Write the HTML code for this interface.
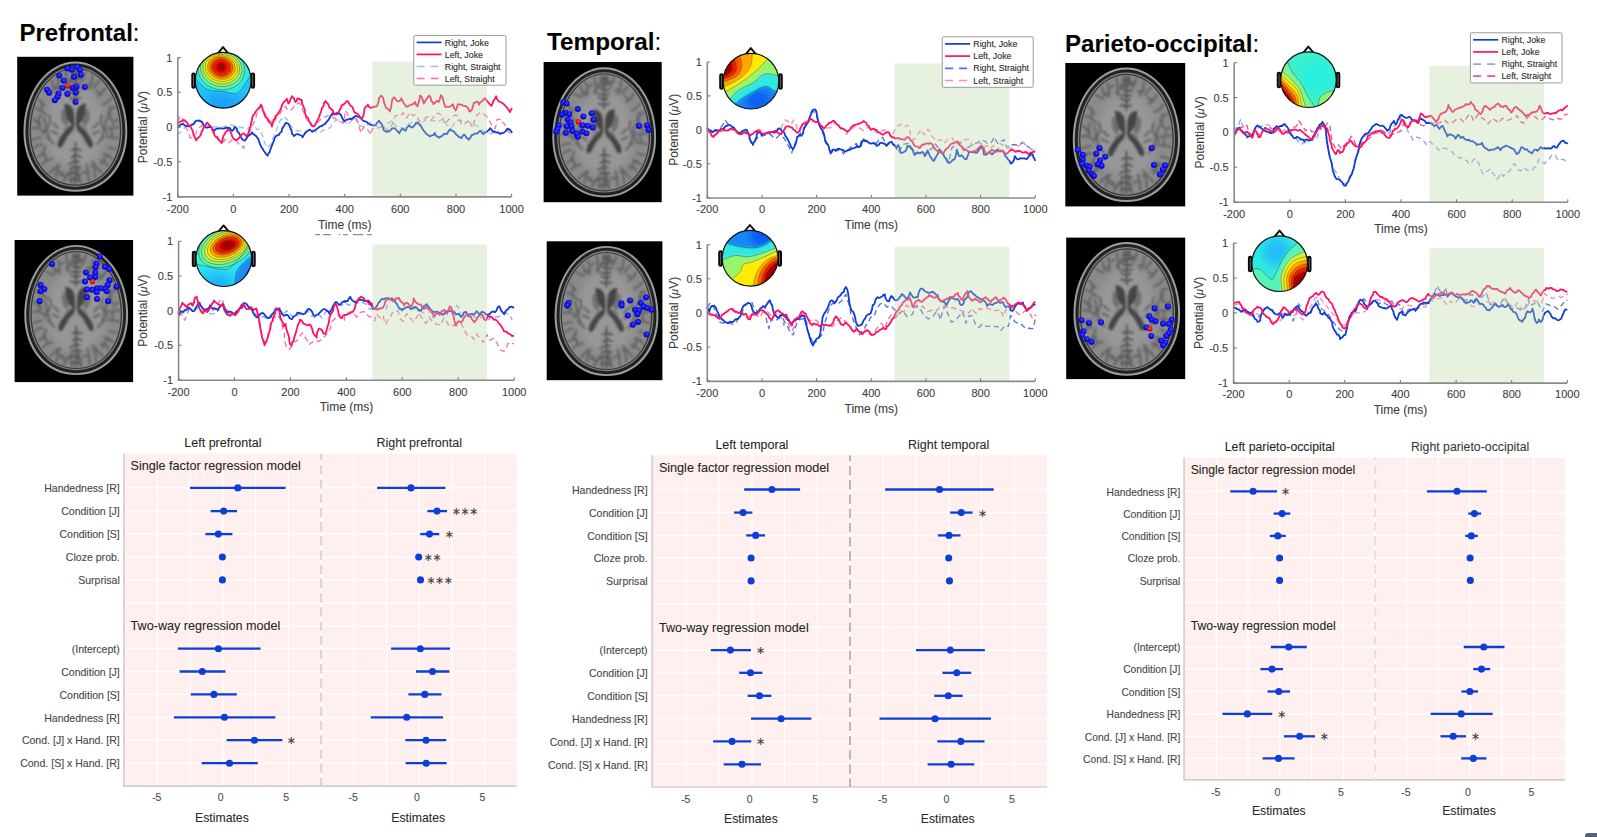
<!DOCTYPE html>
<html lang="en"><head><meta charset="utf-8"><title>ERP figure</title>
<style>html,body{margin:0;padding:0;background:#fff;}body{width:1597px;height:837px;overflow:hidden;}svg{display:block;font-family:"Liberation Sans", sans-serif;}svg text{stroke:#444;stroke-width:0.2px;stroke-opacity:0.5;}</style></head><body>
<svg width="1597" height="837" viewBox="0 0 1597 837">
<rect width="1597" height="837" fill="#fff"/>
<defs>
<filter id="bl" x="-5%" y="-5%" width="110%" height="110%"><feGaussianBlur stdDeviation="1.0"/></filter>
<filter id="bl3" x="-5%" y="-5%" width="110%" height="110%"><feGaussianBlur stdDeviation="1.25"/></filter>
<filter id="bl0" x="-5%" y="-5%" width="110%" height="110%"><feGaussianBlur stdDeviation="0.6"/></filter>
<filter id="tbl" x="-10%" y="-10%" width="120%" height="120%"><feGaussianBlur stdDeviation="1.1"/></filter>
<filter id="bl1" x="-5%" y="-5%" width="110%" height="110%"><feGaussianBlur stdDeviation="0.45"/></filter>
<filter id="bl2" x="-10%" y="-10%" width="120%" height="120%"><feGaussianBlur stdDeviation="4"/></filter>
<radialGradient id="bdot" cx="0.55" cy="0.4" r="0.6"><stop offset="0" stop-color="#4a4aff"/><stop offset="0.5" stop-color="#1212ee"/><stop offset="1" stop-color="#0808a8"/></radialGradient>
<radialGradient id="rdot" cx="0.5" cy="0.4" r="0.6"><stop offset="0" stop-color="#ff5a4a"/><stop offset="0.55" stop-color="#ee1010"/><stop offset="1" stop-color="#980808"/></radialGradient>
<g id="brain">
<g filter="url(#bl0)">
<path d="M0,-1 C0.52,-1 1,-0.56 1,0.08 C1,0.62 0.57,1 0,1 C-0.57,1 -1,0.62 -1,0.08 C-1,-0.56 -0.52,-1 0,-1 Z" transform="translate(58.3,69.6) scale(52.7,66.1)" fill="#9e9e9e"/>
<path d="M0,-1 C0.52,-1 1,-0.56 1,0.08 C1,0.62 0.57,1 0,1 C-0.57,1 -1,0.62 -1,0.08 C-1,-0.56 -0.52,-1 0,-1 Z" transform="translate(58.3,69.6) scale(50.7,64.1)" fill="#222222"/>
<path d="M0,-1 C0.52,-1 1,-0.56 1,0.08 C1,0.62 0.57,1 0,1 C-0.57,1 -1,0.62 -1,0.08 C-1,-0.56 -0.52,-1 0,-1 Z" transform="translate(58.3,69.6) scale(47.7,61.1)" fill="#848484"/>
<path d="M0,-1 C0.52,-1 1,-0.56 1,0.08 C1,0.62 0.57,1 0,1 C-0.57,1 -1,0.62 -1,0.08 C-1,-0.56 -0.52,-1 0,-1 Z" transform="translate(58.3,69.6) scale(46.5,59.9)" fill="#343434"/>
<path d="M0,-1 C0.52,-1 1,-0.56 1,0.08 C1,0.62 0.57,1 0,1 C-0.57,1 -1,0.62 -1,0.08 C-1,-0.56 -0.52,-1 0,-1 Z" transform="translate(58.3,69.6) scale(45.2,58.8)" fill="#8a8a8a"/>
</g>
<g filter="url(#bl2)"><path d="M0,-1 C0.52,-1 1,-0.56 1,0.08 C1,0.62 0.57,1 0,1 C-0.57,1 -1,0.62 -1,0.08 C-1,-0.56 -0.52,-1 0,-1 Z" transform="translate(58.3,69.6) scale(30,42)" fill="#979797"/></g>
<g filter="url(#bl3)">
<path d="M61.4 12.0 Q61.9 17.9 57.5 22.4 M61.9 17.9 L65.2 22.0 M68.4 13.7 Q67.0 18.9 64.6 22.8 M67.0 18.9 L62.2 17.6 M75.6 17.5 Q75.2 26.2 71.8 31.0 M75.2 26.2 L69.4 27.0 M82.5 23.3 Q78.4 26.4 76.8 30.5 M88.5 30.3 Q84.9 36.4 80.4 39.0 M84.9 36.4 L79.6 33.4 M94.6 40.3 Q90.7 46.0 85.8 47.1 M98.5 49.6 Q93.4 49.7 91.6 56.9 M93.4 49.7 L93.5 59.0 M101.7 62.0 Q97.4 66.6 92.1 59.6 M97.4 66.6 L96.2 68.1 M102.6 69.7 Q96.4 71.9 91.3 71.1 M102.0 81.3 Q95.7 80.5 90.5 79.5 M95.7 80.5 L94.7 72.6 M99.4 92.7 Q95.2 91.9 91.9 90.5 M95.4 102.3 Q91.6 98.2 87.1 97.4 M91.6 98.2 L87.4 101.7 M91.1 109.3 Q88.4 104.1 83.4 103.6 M88.4 104.1 L84.5 107.1 M84.9 116.3 Q79.3 110.3 75.0 105.0 M79.3 110.3 L74.4 109.7 M78.4 121.4 Q78.3 114.5 77.1 109.5 M72.1 124.7 Q71.6 115.5 69.8 108.6 M71.6 115.5 L65.1 116.5 M63.7 127.0 Q60.5 118.3 61.0 110.9 M54.4 127.2 Q52.6 117.8 54.1 110.6 M52.6 117.8 L50.8 117.6 M45.7 125.1 Q49.2 120.7 50.3 116.5 M49.2 120.7 L42.0 117.8 M38.3 121.5 Q38.8 113.3 42.2 108.7 M38.8 113.3 L45.5 117.0 M32.3 116.9 Q35.9 112.0 40.4 109.1 M24.4 107.7 Q28.7 103.1 34.4 102.3 M28.7 103.1 L26.6 96.6 M20.2 100.4 Q26.0 98.3 27.5 89.4 M26.0 98.3 L28.8 101.5 M16.8 91.4 Q20.1 87.2 24.0 87.7 M14.8 82.8 Q19.4 81.3 23.2 80.6 M14.0 71.4 Q20.7 69.6 26.1 74.5 M20.7 69.6 L21.7 64.4 M15.1 60.8 Q19.6 65.5 23.5 68.4 M19.6 65.5 L22.9 57.7 M17.6 50.9 Q24.3 52.5 28.4 58.0 M21.2 42.0 Q24.7 45.0 26.9 48.8 M24.7 45.0 L23.8 51.4 M28.1 30.4 Q31.6 33.3 36.0 33.9 M34.2 23.2 Q35.8 30.6 41.6 32.1 M35.8 30.6 L42.1 28.7 M39.0 19.0 Q43.3 22.5 39.1 31.3 M43.3 22.5 L45.9 21.0 M48.3 13.7 Q50.7 22.7 50.3 30.9 M50.7 22.7 L48.4 28.5 M55.3 11.9 Q56.9 17.4 53.0 22.6" stroke="#646464" stroke-width="2.1" fill="none" stroke-linecap="round"/>
<path d="M58.3 12 L58.3 45 M58.3 86 L58.3 127 M58.3 17 l-3.6 -1.3 M58.3 17 l3.1 -3.0 M58.3 22 l-4.5 -1.6 M58.3 22 l4.0 -2.1 M58.3 27 l-5.5 -3.3 M58.3 27 l5.2 -1.3 M58.3 32 l-5.0 -1.5 M58.3 32 l4.6 -1.4 M58.3 37 l-5.6 -3.2 M58.3 37 l3.5 -2.2 M58.3 42 l-5.6 -1.6 M58.3 42 l4.8 -1.6 M58.3 92 l-4.0 1.4 M58.3 92 l5.7 1.4 M58.3 98 l-3.7 3.0 M58.3 98 l5.4 2.4 M58.3 104 l-6.2 3.6 M58.3 104 l3.7 1.6 M58.3 110 l-3.6 1.3 M58.3 110 l5.1 1.1 M58.3 116 l-6.6 1.2 M58.3 116 l4.6 3.9 M58.3 122 l-5.6 1.6 M58.3 122 l4.5 2.5" stroke="#565656" stroke-width="2" fill="none" stroke-linecap="round"/>
<path d="M31.3 58 q3 6 -1 12 q-2 5 2 11 M26.3 61 q4 7 0 16 M35.3 66 l5 5 M34.3 74 l6 3 M29.3 80 l7 7 M85.3 58 q-3 6 1 12 q2 5 -2 11 M90.3 61 q-4 7 0 16 M81.3 66 l-5 5 M82.3 74 l-6 3 M87.3 80 l-7 7" stroke="#666" stroke-width="2.2" fill="none" stroke-linecap="round"/>
<g fill="#707070"><ellipse cx="47.6" cy="60" rx="3.6" ry="8.5" transform="rotate(-8 47.6 60)"/><ellipse cx="69" cy="60" rx="3.6" ry="8.5" transform="rotate(8 69 60)"/>
<ellipse cx="51" cy="73" rx="4" ry="5.5" transform="rotate(30 51 73)" fill="#7a7a7a"/><ellipse cx="65.6" cy="73" rx="4" ry="5.5" transform="rotate(-30 65.6 73)" fill="#7a7a7a"/></g>
<path d="M47,46 L52,47.2 C54,49 55.5,51 56,52.7 C57,56 57.2,60 57.1,63.6 L57.5,70 C56.5,71.5 56,72.5 55.6,73.7 C54,75 52.5,76.5 51.1,78.2 C49.5,81 48,83.5 46.5,86.4 C45.5,88.5 44.5,90 42.9,91 C41.5,91 40,89.5 40.2,87.3 C41,84 42.2,81.5 43.8,79.1 C46,76 48,73.8 50.2,71.8 C51.8,70.3 53.2,69 54.7,67.8 C52.8,65.5 51,63.2 49.8,60.9 C48.8,58.5 48.3,56 48,53.6 C47.6,51 47.3,48.5 47,46 Z" fill="#454545"/>
<path d="M47,46 L52,47.2 C54,49 55.5,51 56,52.7 C57,56 57.2,60 57.1,63.6 L57.5,70 C56.5,71.5 56,72.5 55.6,73.7 C54,75 52.5,76.5 51.1,78.2 C49.5,81 48,83.5 46.5,86.4 C45.5,88.5 44.5,90 42.9,91 C41.5,91 40,89.5 40.2,87.3 C41,84 42.2,81.5 43.8,79.1 C46,76 48,73.8 50.2,71.8 C51.8,70.3 53.2,69 54.7,67.8 C52.8,65.5 51,63.2 49.8,60.9 C48.8,58.5 48.3,56 48,53.6 C47.6,51 47.3,48.5 47,46 Z" fill="#454545" transform="translate(116.19999999999999,0) scale(-1,1)"/>
<path d="M58.099999999999994 66 L55.4 76.5 L58.099999999999994 73.5 L60.6 76.5 Z" fill="#909090"/>
</g>
</g>
</defs>
<text x="19.5" y="41.4" font-size="24" fill="#000"><tspan font-weight="bold">Prefrontal</tspan>:</text>
<text x="547" y="49.6" font-size="24.3" fill="#000"><tspan font-weight="bold">Temporal</tspan>:</text>
<text x="1065" y="51.9" font-size="24.1" fill="#000"><tspan font-weight="bold">Parieto-occipital</tspan>:</text>
<rect x="17.2" y="56.8" width="116.2" height="138.8" fill="#000"/>
<g transform="translate(17.97,58.14) scale(0.9850)">
<use href="#brain"/>
<g filter="url(#bl1)">
<circle cx="50.2" cy="10.5" r="3.10" fill="url(#bdot)"/>
<circle cx="54.7" cy="11.8" r="3.10" fill="url(#bdot)"/>
<circle cx="60.2" cy="9.0" r="3.10" fill="url(#bdot)"/>
<circle cx="62.9" cy="11.8" r="3.10" fill="url(#bdot)"/>
<circle cx="63.8" cy="16.9" r="3.10" fill="url(#bdot)"/>
<circle cx="42.0" cy="17.6" r="3.10" fill="url(#bdot)"/>
<circle cx="56.9" cy="19.0" r="3.10" fill="url(#bdot)"/>
<circle cx="46.5" cy="23.0" r="3.10" fill="url(#bdot)"/>
<circle cx="45.1" cy="30.3" r="3.10" fill="url(#bdot)"/>
<circle cx="55.6" cy="30.3" r="3.10" fill="url(#bdot)"/>
<circle cx="59.3" cy="29.0" r="3.10" fill="url(#bdot)"/>
<circle cx="67.8" cy="29.4" r="3.10" fill="url(#bdot)"/>
<circle cx="29.6" cy="32.1" r="3.10" fill="url(#bdot)"/>
<circle cx="31.6" cy="35.1" r="3.10" fill="url(#bdot)"/>
<circle cx="41.1" cy="36.3" r="3.10" fill="url(#bdot)"/>
<circle cx="50.2" cy="36.3" r="3.10" fill="url(#bdot)"/>
<circle cx="58.7" cy="34.9" r="3.10" fill="url(#bdot)"/>
<circle cx="40.1" cy="39.4" r="3.10" fill="url(#bdot)"/>
<circle cx="37.4" cy="42.7" r="3.10" fill="url(#bdot)"/>
<circle cx="58.5" cy="44.5" r="3.10" fill="url(#bdot)"/>
<circle cx="50.5" cy="28.1" r="2.64" fill="url(#rdot)"/>
</g></g>
<rect x="14.6" y="240.0" width="118.5" height="142.1" fill="#000"/>
<g transform="translate(18.77,241.44) scale(0.9850)">
<use href="#brain"/>
<g filter="url(#bl1)">
<circle cx="82.3" cy="15.3" r="3.10" fill="url(#bdot)"/>
<circle cx="33.8" cy="23.0" r="3.10" fill="url(#bdot)"/>
<circle cx="78.9" cy="22.4" r="3.10" fill="url(#bdot)"/>
<circle cx="78.0" cy="26.2" r="3.10" fill="url(#bdot)"/>
<circle cx="87.5" cy="25.8" r="3.10" fill="url(#bdot)"/>
<circle cx="91.7" cy="28.1" r="3.10" fill="url(#bdot)"/>
<circle cx="68.2" cy="31.5" r="3.10" fill="url(#bdot)"/>
<circle cx="77.6" cy="31.8" r="3.10" fill="url(#bdot)"/>
<circle cx="72.3" cy="36.5" r="3.10" fill="url(#bdot)"/>
<circle cx="77.6" cy="36.2" r="3.10" fill="url(#bdot)"/>
<circle cx="67.2" cy="40.7" r="3.10" fill="url(#bdot)"/>
<circle cx="92.1" cy="39.4" r="3.10" fill="url(#bdot)"/>
<circle cx="22.1" cy="44.4" r="3.10" fill="url(#bdot)"/>
<circle cx="25.9" cy="48.4" r="3.10" fill="url(#bdot)"/>
<circle cx="22.1" cy="50.6" r="3.10" fill="url(#bdot)"/>
<circle cx="90.2" cy="44.4" r="3.10" fill="url(#bdot)"/>
<circle cx="99.2" cy="45.9" r="3.10" fill="url(#bdot)"/>
<circle cx="69.1" cy="48.8" r="3.10" fill="url(#bdot)"/>
<circle cx="74.4" cy="49.1" r="3.10" fill="url(#bdot)"/>
<circle cx="79.5" cy="47.5" r="3.10" fill="url(#bdot)"/>
<circle cx="83.2" cy="47.5" r="3.10" fill="url(#bdot)"/>
<circle cx="79.1" cy="51.6" r="3.10" fill="url(#bdot)"/>
<circle cx="87.5" cy="48.4" r="3.10" fill="url(#bdot)"/>
<circle cx="89.4" cy="50.6" r="3.10" fill="url(#bdot)"/>
<circle cx="21.2" cy="60.6" r="3.10" fill="url(#bdot)"/>
<circle cx="69.1" cy="56.7" r="3.10" fill="url(#bdot)"/>
<circle cx="79.5" cy="58.5" r="3.10" fill="url(#bdot)"/>
<circle cx="90.7" cy="60.6" r="3.10" fill="url(#bdot)"/>
<circle cx="74.8" cy="40.7" r="2.64" fill="url(#rdot)"/>
</g></g>
<rect x="543.6" y="62.0" width="118.1" height="140.2" fill="#000"/>
<g transform="translate(546.77,63.84) scale(0.9850)">
<use href="#brain"/>
<g filter="url(#bl1)">
<circle cx="16.8" cy="39.0" r="3.10" fill="url(#bdot)"/>
<circle cx="20.2" cy="40.3" r="3.10" fill="url(#bdot)"/>
<circle cx="31.5" cy="45.9" r="3.10" fill="url(#bdot)"/>
<circle cx="15.5" cy="51.6" r="3.10" fill="url(#bdot)"/>
<circle cx="19.3" cy="49.7" r="3.10" fill="url(#bdot)"/>
<circle cx="22.7" cy="51.2" r="3.10" fill="url(#bdot)"/>
<circle cx="45.6" cy="50.2" r="3.10" fill="url(#bdot)"/>
<circle cx="37.2" cy="53.4" r="3.10" fill="url(#bdot)"/>
<circle cx="47.5" cy="56.8" r="3.10" fill="url(#bdot)"/>
<circle cx="21.2" cy="56.8" r="3.10" fill="url(#bdot)"/>
<circle cx="24.0" cy="59.6" r="3.10" fill="url(#bdot)"/>
<circle cx="12.1" cy="62.5" r="3.10" fill="url(#bdot)"/>
<circle cx="20.2" cy="63.4" r="3.10" fill="url(#bdot)"/>
<circle cx="24.9" cy="63.4" r="3.10" fill="url(#bdot)"/>
<circle cx="36.2" cy="62.5" r="3.10" fill="url(#bdot)"/>
<circle cx="41.5" cy="62.8" r="3.10" fill="url(#bdot)"/>
<circle cx="46.6" cy="64.7" r="3.10" fill="url(#bdot)"/>
<circle cx="10.8" cy="66.2" r="3.10" fill="url(#bdot)"/>
<circle cx="9.5" cy="69.0" r="3.10" fill="url(#bdot)"/>
<circle cx="19.3" cy="70.0" r="3.10" fill="url(#bdot)"/>
<circle cx="25.9" cy="68.1" r="3.10" fill="url(#bdot)"/>
<circle cx="30.6" cy="70.9" r="3.10" fill="url(#bdot)"/>
<circle cx="36.2" cy="69.0" r="3.10" fill="url(#bdot)"/>
<circle cx="40.3" cy="70.4" r="3.10" fill="url(#bdot)"/>
<circle cx="31.5" cy="74.1" r="3.10" fill="url(#bdot)"/>
<circle cx="93.6" cy="63.0" r="3.10" fill="url(#bdot)"/>
<circle cx="102.0" cy="62.5" r="3.10" fill="url(#bdot)"/>
<circle cx="103.3" cy="67.2" r="3.10" fill="url(#bdot)"/>
<circle cx="32.1" cy="58.7" r="2.64" fill="url(#rdot)"/>
</g></g>
<rect x="546.7" y="241.3" width="115.7" height="138.9" fill="#000"/>
<g transform="translate(549.07,242.44) scale(0.9850)">
<use href="#brain"/>
<g filter="url(#bl1)">
<circle cx="98.4" cy="55.8" r="3.10" fill="url(#bdot)"/>
<circle cx="82.2" cy="59.0" r="3.10" fill="url(#bdot)"/>
<circle cx="19.8" cy="61.5" r="3.10" fill="url(#bdot)"/>
<circle cx="18.3" cy="64.1" r="3.10" fill="url(#bdot)"/>
<circle cx="73.4" cy="61.9" r="3.10" fill="url(#bdot)"/>
<circle cx="73.7" cy="64.1" r="3.10" fill="url(#bdot)"/>
<circle cx="93.1" cy="61.5" r="3.10" fill="url(#bdot)"/>
<circle cx="95.9" cy="65.2" r="3.10" fill="url(#bdot)"/>
<circle cx="99.7" cy="66.6" r="3.10" fill="url(#bdot)"/>
<circle cx="104.0" cy="68.4" r="3.10" fill="url(#bdot)"/>
<circle cx="87.5" cy="68.4" r="3.10" fill="url(#bdot)"/>
<circle cx="91.2" cy="69.0" r="3.10" fill="url(#bdot)"/>
<circle cx="89.7" cy="72.8" r="3.10" fill="url(#bdot)"/>
<circle cx="79.9" cy="74.1" r="3.10" fill="url(#bdot)"/>
<circle cx="90.3" cy="80.7" r="3.10" fill="url(#bdot)"/>
<circle cx="85.0" cy="83.5" r="3.10" fill="url(#bdot)"/>
<circle cx="99.1" cy="93.4" r="3.10" fill="url(#bdot)"/>
</g></g>
<rect x="1065.3" y="63.0" width="119.9" height="143.4" fill="#000"/>
<g transform="translate(1067.05,63.95) scale(1.0180)">
<use href="#brain"/>
<g filter="url(#bl1)">
<circle cx="10.5" cy="84.6" r="3.00" fill="url(#bdot)"/>
<circle cx="31.9" cy="82.7" r="3.00" fill="url(#bdot)"/>
<circle cx="83.1" cy="82.7" r="3.00" fill="url(#bdot)"/>
<circle cx="15.5" cy="89.3" r="3.00" fill="url(#bdot)"/>
<circle cx="28.7" cy="88.3" r="3.00" fill="url(#bdot)"/>
<circle cx="37.5" cy="91.1" r="3.00" fill="url(#bdot)"/>
<circle cx="15.5" cy="94.1" r="3.00" fill="url(#bdot)"/>
<circle cx="32.4" cy="94.9" r="3.00" fill="url(#bdot)"/>
<circle cx="14.6" cy="98.3" r="3.00" fill="url(#bdot)"/>
<circle cx="19.3" cy="99.8" r="3.00" fill="url(#bdot)"/>
<circle cx="30.2" cy="98.8" r="3.00" fill="url(#bdot)"/>
<circle cx="33.9" cy="100.1" r="3.00" fill="url(#bdot)"/>
<circle cx="22.1" cy="101.1" r="3.00" fill="url(#bdot)"/>
<circle cx="21.2" cy="104.8" r="3.00" fill="url(#bdot)"/>
<circle cx="24.5" cy="108.0" r="3.00" fill="url(#bdot)"/>
<circle cx="26.4" cy="110.1" r="3.00" fill="url(#bdot)"/>
<circle cx="85.4" cy="99.2" r="3.00" fill="url(#bdot)"/>
<circle cx="96.3" cy="99.6" r="3.00" fill="url(#bdot)"/>
<circle cx="94.0" cy="103.9" r="3.00" fill="url(#bdot)"/>
<circle cx="91.2" cy="108.6" r="3.00" fill="url(#bdot)"/>
</g></g>
<rect x="1066.2" y="237.6" width="119.0" height="141.5" fill="#000"/>
<g transform="translate(1067.80,238.46) scale(1.0120)">
<use href="#brain"/>
<g filter="url(#bl1)">
<circle cx="99.0" cy="67.2" r="3.01" fill="url(#bdot)"/>
<circle cx="85.7" cy="69.1" r="3.01" fill="url(#bdot)"/>
<circle cx="80.6" cy="77.0" r="3.01" fill="url(#bdot)"/>
<circle cx="82.9" cy="80.4" r="3.01" fill="url(#bdot)"/>
<circle cx="86.7" cy="81.9" r="3.01" fill="url(#bdot)"/>
<circle cx="102.7" cy="80.4" r="3.01" fill="url(#bdot)"/>
<circle cx="13.6" cy="80.8" r="3.01" fill="url(#bdot)"/>
<circle cx="20.9" cy="83.8" r="3.01" fill="url(#bdot)"/>
<circle cx="32.8" cy="82.9" r="3.01" fill="url(#bdot)"/>
<circle cx="94.2" cy="84.2" r="3.01" fill="url(#bdot)"/>
<circle cx="99.9" cy="84.6" r="3.01" fill="url(#bdot)"/>
<circle cx="77.6" cy="88.0" r="3.01" fill="url(#bdot)"/>
<circle cx="101.8" cy="90.3" r="3.01" fill="url(#bdot)"/>
<circle cx="15.4" cy="91.8" r="3.01" fill="url(#bdot)"/>
<circle cx="13.9" cy="95.2" r="3.01" fill="url(#bdot)"/>
<circle cx="99.9" cy="93.7" r="3.01" fill="url(#bdot)"/>
<circle cx="82.5" cy="96.5" r="3.01" fill="url(#bdot)"/>
<circle cx="97.1" cy="96.5" r="3.01" fill="url(#bdot)"/>
<circle cx="18.7" cy="99.7" r="3.01" fill="url(#bdot)"/>
<circle cx="23.4" cy="102.2" r="3.01" fill="url(#bdot)"/>
<circle cx="92.3" cy="101.2" r="3.01" fill="url(#bdot)"/>
<circle cx="96.1" cy="103.1" r="3.01" fill="url(#bdot)"/>
<circle cx="94.2" cy="105.6" r="3.01" fill="url(#bdot)"/>
<circle cx="81.0" cy="89.3" r="2.57" fill="url(#rdot)"/>
</g></g>
<polyline points="177.1,135.0 178.4,133.4 180.3,132.4 181.9,131.0 183.5,129.7 184.8,127.8 186.7,126.5 188.5,125.7 189.9,124.4 191.5,123.8 193.1,123.3 194.8,122.1 196.3,120.7 198.0,120.6 199.5,119.6 201.2,120.8 202.7,122.3 204.1,124.0 205.9,125.5 207.5,125.5 209.1,126.0 210.7,125.6 212.3,124.9 213.5,126.5 215.5,127.0 217.1,127.0 218.6,127.6 220.2,127.1 221.8,127.0 223.4,126.8 225.0,126.5 226.9,125.9 228.2,124.4 229.9,124.3 231.4,124.9 233.1,125.3 234.6,126.0 236.2,126.5 237.8,127.0 239.5,126.8 241.0,127.6 242.7,127.5 244.2,128.1 245.8,128.4 247.4,128.6 248.9,127.7 250.6,127.6 252.0,126.5 253.8,126.0 255.8,127.5 257.0,129.7 259.1,129.2 260.3,130.9 261.2,132.9 262.5,135.5 263.4,138.2 264.2,141.5 265.5,144.6 266.8,146.0 267.6,147.8 269.0,146.0 270.8,144.6 272.0,140.2 274.0,136.1 276.0,132.0 277.2,127.6 278.8,123.9 280.4,120.1 282.4,118.6 283.6,116.4 285.1,117.9 286.8,119.1 288.9,121.4 290.0,124.4 291.3,126.7 293.2,128.6 294.8,129.7 296.4,130.8 298.0,130.6 299.5,130.8 301.3,130.8 302.7,131.8 304.3,132.2 305.9,131.8 307.4,130.6 309.1,129.7 310.7,129.1 312.3,129.2 313.6,130.9 315.5,131.8 317.0,132.8 318.7,132.4 320.5,132.0 321.9,130.8 323.5,130.2 325.1,129.7 326.8,129.4 328.3,128.6 330.3,127.4 331.5,125.5 333.6,123.7 334.7,121.2 336.6,120.0 338.9,120.1 341.0,121.0 343.2,121.2 345.0,121.7 346.5,123.4 348.2,124.9 349.3,122.7 351.4,121.2 352.9,119.0 354.6,116.9 355.9,120.2 357.8,123.3 359.5,125.5 362.0,126.5 364.0,125.5 366.3,125.5 368.2,123.6 370.5,122.3 372.5,123.7 374.8,124.4 376.6,126.5 379.1,127.6 381.2,128.6 383.3,129.7 384.9,126.2 387.6,123.3 390.1,122.2 391.8,120.1 393.8,123.4 396.1,126.5 398.3,126.7 400.4,127.6 402.6,127.8 404.6,128.6 406.4,126.2 408.9,124.4 411.1,122.9 413.1,121.2 415.3,122.7 417.4,124.4 419.6,124.1 421.6,123.3 424.0,121.5 425.9,119.1 428.1,119.2 430.2,120.1 432.3,120.7 434.4,120.7 436.5,121.3 438.7,121.2 441.0,120.2 442.9,118.5 445.4,121.8 447.2,125.5 449.5,126.2 451.5,127.6 453.6,124.4 455.7,121.2 457.8,120.4 460.0,120.7 462.1,121.0 464.2,121.2 466.3,121.7 468.5,121.7 470.7,123.2 472.7,124.9 475.0,125.1 477.0,126.0 479.2,127.8 481.3,129.7 483.2,131.2 485.5,131.8 488.2,132.9 490.8,134.0 492.8,132.6 495.1,131.8 497.6,133.3 500.4,133.4 502.7,132.3 504.7,130.8 506.6,129.3 508.9,128.6 511.0,129.8 512.1,131.8" fill="none" stroke="#a9b9ee" stroke-width="1.35" stroke-linejoin="round" stroke-dasharray="5.5 3.5"/>
<polyline points="177.1,121.2 179.0,118.8 179.8,115.9 181.4,117.3 182.5,119.1 184.1,122.3 185.6,125.5 186.7,128.8 188.3,131.8 189.4,135.0 190.4,138.2 191.8,137.2 193.1,136.1 194.8,134.6 196.3,132.9 197.3,129.9 199.5,127.6 201.2,126.1 202.7,124.4 204.5,123.6 205.9,122.3 207.7,123.0 209.1,124.4 210.7,126.5 212.3,128.6 213.9,131.8 215.5,135.0 216.7,137.9 218.6,140.4 219.9,141.9 221.8,142.5 223.7,141.1 225.0,139.3 227.0,140.8 228.2,143.0 230.1,142.0 231.4,140.4 233.0,139.6 234.6,139.3 236.6,140.5 237.8,142.5 238.9,144.5 241.0,145.7 242.5,146.9 243.7,148.3 244.6,143.2 246.3,138.2 247.9,135.0 249.5,131.8 251.7,128.9 252.7,125.5 254.2,121.7 255.9,118.0 256.5,114.7 258.0,111.6 259.1,109.0 260.2,106.3 261.8,108.4 263.4,110.5 264.9,113.3 266.5,115.9 268.4,118.4 269.7,121.2 271.7,121.7 272.9,123.3 274.8,120.8 276.1,118.0 277.9,116.6 279.3,114.8 280.9,112.1 282.5,109.5 283.7,107.4 285.7,106.3 286.8,108.8 288.9,110.5 290.4,109.8 292.1,109.5 293.8,106.9 295.3,104.2 297.0,103.9 298.5,103.1 300.1,104.1 301.7,105.2 302.7,110.2 304.9,114.8 306.0,118.3 308.1,121.2 309.9,123.1 311.3,125.5 312.9,124.8 314.5,125.5 315.9,123.7 317.6,122.3 319.4,120.8 320.8,119.1 322.8,118.5 324.0,116.9 325.8,116.9 327.2,115.9 328.8,115.5 330.4,115.9 332.1,116.8 333.6,118.0 335.6,118.5 336.8,120.1 338.3,120.8 340.0,121.2 341.6,122.2 343.2,123.3 344.6,117.0 345.0,110.5 347.2,112.9 348.2,115.9 350.2,117.7 351.4,120.1 353.7,118.8 355.6,116.9 357.8,121.0 358.8,125.5 359.9,129.2 361.0,132.9 362.3,129.6 364.2,126.5 365.5,128.3 367.4,129.7 369.5,132.1 370.5,135.0 371.3,131.7 372.7,128.6 374.8,128.6 376.9,128.6 379.2,127.9 381.2,126.5 383.2,127.7 385.5,127.6 386.6,129.1 387.6,130.8 389.3,127.8 391.8,125.5 393.3,120.6 395.0,115.9 397.2,115.3 399.3,115.9 401.8,114.7 403.5,112.7 404.9,115.5 406.7,118.0 408.2,115.3 409.9,112.7 411.6,114.2 413.1,115.9 414.6,114.9 416.3,114.8 417.7,118.1 419.5,121.2 421.7,120.2 423.8,119.1 425.7,117.5 428.0,116.9 429.8,118.3 431.2,120.1 433.6,117.1 435.5,113.7 437.1,113.6 438.7,113.2 440.3,114.6 441.9,115.9 443.2,120.2 445.1,124.4 446.8,121.4 449.3,119.1 451.6,117.7 453.6,115.9 455.1,115.0 456.8,115.3 458.6,117.6 460.0,120.1 460.7,122.7 462.1,124.9 464.5,124.0 466.4,122.3 468.0,121.0 469.5,119.6 470.5,123.8 472.7,127.6 474.3,121.0 477.0,114.8 478.7,113.8 480.2,112.7 482.5,113.5 484.5,114.8 487.1,117.1 488.7,120.1 490.5,122.7 491.9,125.5 493.7,126.8 495.1,128.6 496.5,123.9 497.2,119.1 499.4,119.3 501.5,119.1 502.5,122.1 504.7,124.4 506.0,127.7 507.9,130.8 509.7,133.2 512.1,135.0" fill="none" stroke="#ff70a4" stroke-width="1.35" stroke-linejoin="round" stroke-dasharray="5.5 3.5"/>
<polyline points="177.1,127.6 178.8,126.3 180.3,124.9 181.6,124.2 183.0,123.9 184.2,125.0 185.6,126.0 187.3,125.7 188.8,126.5 190.3,125.5 192.0,124.9 194.0,123.7 195.2,121.7 196.3,120.6 197.9,120.7 199.2,120.9 200.5,121.2 202.3,122.5 203.2,124.4 204.4,126.1 205.9,127.6 207.5,127.5 209.1,127.0 210.5,127.0 211.7,127.6 212.7,129.5 214.4,130.8 215.4,129.3 217.0,128.6 218.4,128.7 219.7,128.1 221.3,128.4 222.9,128.6 224.6,128.4 226.1,127.6 227.7,128.2 229.3,127.6 230.6,129.4 232.5,130.8 233.9,129.1 234.6,127.0 235.9,127.6 236.7,128.6 237.2,131.1 238.9,132.9 240.0,135.0 241.0,137.2 242.1,139.0 243.7,140.4 245.2,140.0 246.3,138.8 247.6,136.6 249.5,135.0 251.0,133.9 252.2,132.4 253.2,134.0 254.8,135.0 256.0,136.0 257.0,137.2 258.4,139.1 259.1,141.4 260.0,144.2 261.2,146.7 262.6,148.8 263.9,151.0 265.1,152.5 266.0,154.2 266.9,154.9 267.6,155.8 268.3,153.7 269.7,152.1 270.6,148.8 271.9,145.7 272.9,143.0 274.0,140.4 274.7,138.1 276.1,136.1 277.4,135.3 278.8,135.0 279.8,133.1 281.5,131.8 282.1,129.0 283.6,126.5 284.7,124.7 285.7,122.8 287.8,123.3 289.3,125.3 290.0,127.6 291.6,130.6 292.1,134.0 293.3,134.9 294.2,136.1 295.6,134.7 297.4,134.0 298.7,134.6 300.1,135.0 301.6,135.8 302.7,137.2 303.9,134.9 305.4,132.9 306.6,131.7 308.1,130.8 308.9,129.8 310.2,129.7 311.1,130.9 312.3,131.8 313.7,130.6 315.5,130.2 317.0,128.7 318.7,127.6 320.1,126.4 321.9,126.0 323.3,124.7 325.1,123.9 326.6,121.9 328.3,120.1 329.7,117.8 331.0,115.3 332.2,114.6 332.5,113.2 333.9,114.3 335.7,114.3 337.4,113.9 338.9,113.2 340.1,114.2 341.1,115.3 342.4,118.4 344.3,121.2 345.0,120.7 346.4,119.6 348.2,119.6 349.7,118.7 351.4,119.1 353.6,117.5 355.6,115.9 357.2,116.5 358.8,116.9 360.6,118.0 362.0,119.6 363.9,121.2 366.3,121.7 367.9,123.1 369.5,124.4 371.2,124.7 372.7,125.5 374.3,125.3 375.9,124.9 377.2,122.6 379.1,120.7 379.8,122.2 381.2,123.3 382.8,126.7 383.9,130.2 385.3,131.3 387.0,131.8 388.7,131.5 390.2,130.8 391.4,128.9 393.4,128.1 395.4,128.7 396.6,130.2 398.1,131.8 399.3,133.4 400.5,130.8 402.5,128.6 404.0,129.9 405.7,130.8 406.8,127.8 408.9,125.5 410.4,126.6 412.1,127.6 413.8,126.2 415.3,124.4 416.2,122.8 417.9,122.3 419.1,124.0 420.6,125.5 422.0,127.8 423.2,130.2 424.9,132.0 426.4,134.0 428.3,135.3 430.2,136.6 431.6,135.4 433.4,135.0 434.1,133.9 435.0,132.9 435.5,135.1 437.1,136.6 438.4,136.7 439.2,137.7 440.4,136.7 441.9,136.1 442.9,135.0 444.0,134.0 445.6,133.7 447.2,134.0 448.4,131.3 450.4,129.2 451.2,130.3 452.5,130.8 454.4,132.1 455.7,134.0 457.5,135.6 459.4,137.2 460.6,137.6 461.6,138.2 462.5,136.1 464.2,134.5 465.4,136.0 466.4,137.7 467.7,138.4 468.5,139.8 470.5,137.7 471.7,135.0 473.5,134.6 474.9,133.4 476.6,133.7 478.1,132.9 479.1,131.4 480.7,130.8 481.7,132.7 483.4,134.0 484.8,132.6 486.6,131.8 488.7,130.2 490.3,128.1 491.7,130.0 493.0,131.8 494.7,131.5 496.2,132.4 498.5,132.5 500.4,134.0 501.9,133.1 503.6,132.9 505.8,131.1 507.3,128.6 508.6,129.3 510.0,129.7 511.0,131.3 512.1,132.9" fill="none" stroke="#0f3cd4" stroke-width="1.8" stroke-linejoin="round"/>
<polyline points="177.1,123.9 178.4,122.7 179.8,121.7 181.6,121.3 183.0,120.1 184.5,120.1 185.6,121.2 187.3,122.8 188.3,124.9 189.9,125.9 191.0,127.6 192.8,131.1 193.6,135.0 194.9,137.7 196.3,140.4 197.3,138.5 199.0,137.2 200.9,134.8 201.6,131.8 203.1,129.3 203.7,126.5 205.6,124.8 206.9,122.8 208.4,124.0 209.6,125.5 211.5,127.2 212.3,129.7 213.6,132.9 214.9,136.1 216.1,136.9 217.6,137.2 218.1,139.1 219.7,140.4 220.5,141.9 221.8,143.0 222.6,139.5 223.4,136.1 224.6,134.3 225.6,132.4 226.8,131.0 228.2,129.7 229.2,130.5 230.4,130.8 231.4,134.0 232.5,137.2 234.0,138.8 235.7,140.4 237.4,139.5 238.9,138.2 240.0,136.4 241.5,135.0 242.5,133.7 244.2,133.4 245.1,134.9 246.3,136.1 247.6,134.7 248.5,132.9 249.5,129.2 250.6,125.5 251.7,120.7 252.7,115.9 254.7,113.7 255.9,111.1 257.7,109.4 259.1,107.4 260.5,106.4 260.7,104.7 261.9,106.1 262.3,107.9 262.9,110.3 263.9,112.7 264.6,114.8 265.5,116.9 266.9,117.7 267.6,119.1 268.3,120.9 269.7,122.3 271.4,124.1 271.9,126.5 272.8,123.3 273.5,120.1 275.1,118.3 275.6,115.9 277.0,115.1 277.7,113.7 278.9,112.2 279.9,110.5 281.2,108.0 282.0,105.2 283.2,103.0 284.6,101.0 286.0,100.2 286.8,98.8 287.6,101.2 288.4,103.6 289.9,101.5 290.5,98.8 291.6,97.7 292.1,96.2 292.4,97.4 293.7,97.8 294.5,99.9 295.3,102.0 296.9,100.5 297.4,98.3 299.5,98.8 300.4,99.8 301.7,99.9 302.0,103.2 303.3,106.3 304.7,109.3 304.9,112.7 305.6,114.8 306.5,116.9 308.1,118.0 308.7,120.2 309.7,122.3 311.0,123.6 311.3,125.5 312.3,126.0 313.4,126.5 314.7,125.7 315.5,124.4 316.4,122.2 317.6,120.1 318.9,117.6 319.8,114.8 321.0,111.7 321.9,108.4 323.6,105.7 324.0,102.6 325.3,102.2 325.6,101.0 326.4,102.5 327.8,103.6 328.9,105.6 329.4,107.9 330.8,108.2 331.5,109.5 333.0,110.8 333.6,112.7 334.4,113.7 335.7,113.7 336.6,112.9 337.9,112.7 339.1,111.2 340.0,109.5 341.1,107.5 341.6,105.2 343.2,104.8 344.3,103.6 345.0,103.6 345.9,101.9 347.7,101.0 348.7,102.9 349.8,104.7 350.5,105.9 351.9,106.3 353.0,108.7 354.0,111.1 354.7,112.6 356.2,113.2 357.6,114.1 358.8,115.3 359.8,117.1 361.5,118.0 363.1,116.9 364.1,112.4 364.7,107.9 366.5,106.5 367.9,104.7 368.8,106.6 370.5,107.9 372.2,107.4 373.7,106.8 375.3,106.5 376.9,106.3 378.4,102.1 379.1,97.8 380.3,96.9 381.2,95.6 382.6,97.0 383.3,98.8 384.1,102.6 385.5,106.3 386.2,107.8 387.6,109.0 389.2,109.8 389.7,111.6 391.2,106.9 391.8,102.0 392.3,99.4 394.0,97.2 395.2,98.4 396.1,99.9 397.2,101.1 398.8,101.5 400.5,100.3 401.4,98.3 402.3,100.5 403.5,102.6 404.9,104.9 406.7,106.8 408.3,106.0 409.9,105.2 411.5,104.5 413.1,104.2 413.8,102.7 415.3,102.0 415.7,104.5 417.4,106.3 419.2,101.1 420.0,95.6 421.6,96.7 422.8,100.1 423.8,103.6 424.9,101.8 425.9,99.9 427.5,97.8 429.1,95.6 430.8,98.1 431.2,101.0 432.8,102.3 433.4,104.2 435.2,102.8 436.5,101.0 437.7,101.2 438.7,102.0 440.0,98.7 440.8,95.1 442.2,96.8 442.9,98.8 444.0,102.8 445.1,106.8 446.7,106.9 448.3,106.8 449.9,106.6 451.5,105.8 452.0,104.8 453.0,104.2 453.8,107.6 455.7,110.5 457.0,107.4 457.8,104.2 460.0,104.7 461.7,104.7 463.2,105.8 464.8,105.9 466.4,106.3 468.3,108.7 469.5,111.6 470.7,110.9 471.7,110.0 472.9,106.6 473.8,103.1 475.4,102.2 477.0,101.5 478.4,102.9 479.1,104.7 480.2,102.4 482.3,101.0 483.3,99.3 485.0,98.3 486.2,100.0 487.6,101.5 489.3,103.8 491.4,105.8 492.7,102.8 494.0,99.9 495.3,98.2 496.2,96.2 496.8,98.8 498.3,101.0 499.9,101.8 501.5,102.6 503.3,103.7 504.7,105.2 506.0,106.5 507.3,107.9 508.6,110.0 510.0,112.1 510.8,109.9 512.1,107.9" fill="none" stroke="#ff1266" stroke-width="1.8" stroke-linejoin="round"/>
<rect x="372.3" y="61.5" width="114.7" height="135.1" fill="#bad7a6" fill-opacity="0.35"/>
<path d="M177.8 57.6 V196.9 H511.6" fill="none" stroke="#8a8a8a" stroke-width="1.6"/>
<path d="M177.8 196.6 v-2.8 M233.4 196.6 v-2.8 M289.1 196.6 v-2.8 M344.7 196.6 v-2.8 M400.3 196.6 v-2.8 M456.0 196.6 v-2.8 M511.6 196.6 v-2.8 M177.8 57.6 h3 M177.8 92.3 h3 M177.8 127.1 h3 M177.8 161.8 h3 M177.8 196.6 h3" stroke="#7a7a7a" stroke-width="1.1" fill="none"/>
<g font-size="11" fill="#3c3c3c" text-anchor="middle">
<text x="177.8" y="212.7">-200</text>
<text x="233.4" y="212.7">0</text>
<text x="289.1" y="212.7">200</text>
<text x="344.7" y="212.7">400</text>
<text x="400.3" y="212.7">600</text>
<text x="456.0" y="212.7">800</text>
<text x="511.6" y="212.7">1000</text>
</g>
<g font-size="11" fill="#3c3c3c" text-anchor="end">
<text x="172.3" y="61.6">1</text>
<text x="172.3" y="96.3">0.5</text>
<text x="172.3" y="131.1">0</text>
<text x="172.3" y="165.8">-0.5</text>
<text x="172.3" y="200.6">-1</text>
</g>
<text x="344.7" y="228.7" font-size="12" fill="#3c3c3c" text-anchor="middle">Time (ms)</text>
<text transform="translate(147.3,127.1) rotate(-90)" font-size="12" fill="#3c3c3c" text-anchor="middle">Potential (<tspan font-style="italic" font-size="11">μ</tspan>V)</text>
<rect x="413.8" y="35.4" width="92.2" height="49.8" rx="1.5" fill="#fff" stroke="#9a9a9a" stroke-width="1"/>
<line x1="416.6" y1="42.4" x2="441.6" y2="42.4" stroke="#0f3cd4" stroke-width="1.7"/>
<text x="444.8" y="45.5" font-size="8.8" fill="#1a1a1a">Right, Joke</text>
<line x1="416.6" y1="54.4" x2="441.6" y2="54.4" stroke="#ff1266" stroke-width="1.7"/>
<text x="444.8" y="57.5" font-size="8.8" fill="#1a1a1a">Left, Joke</text>
<line x1="416.6" y1="66.5" x2="441.6" y2="66.5" stroke="#a9b9ee" stroke-width="1.7" stroke-dasharray="8 6"/>
<text x="444.8" y="69.6" font-size="8.8" fill="#1a1a1a">Right, Straight</text>
<line x1="416.6" y1="78.5" x2="441.6" y2="78.5" stroke="#ff70a4" stroke-width="1.7" stroke-dasharray="8 6"/>
<text x="444.8" y="81.6" font-size="8.8" fill="#1a1a1a">Left, Straight</text>
<polyline points="178.2,316.4 180.7,314.7 182.5,312.2 184.5,311.1 186.7,310.6 188.9,310.3 191.0,309.5 193.0,308.7 195.2,308.5 197.5,308.5 199.5,307.4 201.4,309.7 203.7,311.6 206.0,311.6 208.0,312.7 210.0,313.9 212.3,313.8 213.9,313.4 215.5,313.8 217.5,311.4 218.6,308.5 220.3,305.4 222.9,303.1 224.7,306.6 227.2,309.5 228.5,311.8 230.4,313.8 232.4,312.9 234.6,312.7 236.8,312.5 238.9,311.6 241.3,309.8 243.1,307.4 245.1,306.0 247.4,305.3 249.5,306.8 251.6,308.5 254.1,311.4 255.9,314.8 258.1,316.0 260.2,317.5 262.2,316.6 264.4,317.0 265.9,318.5 267.6,319.6 269.0,317.1 270.8,314.8 273.3,311.9 275.1,308.5 277.0,306.9 279.3,305.8 280.4,310.0 282.5,313.8 285.0,312.7 286.8,310.6 288.1,312.0 290.0,312.7 291.7,315.7 294.2,318.0 296.6,316.7 298.5,314.8 300.6,314.4 302.7,313.8 304.8,312.1 307.0,310.6 309.4,313.1 311.3,315.9 313.1,316.3 314.5,317.5 316.6,316.1 318.7,314.8 320.7,316.1 321.9,318.0 323.8,315.6 325.1,312.7 326.9,311.0 329.4,310.6 331.5,308.4 333.6,306.3 335.8,306.1 337.9,305.3 340.0,305.3 342.1,305.3 342.9,303.9 344.3,303.1 345.0,303.1 347.1,304.2 349.3,305.3 351.1,303.3 353.5,302.1 355.7,302.6 357.8,303.1 359.9,302.7 362.0,302.1 364.0,303.4 366.3,304.2 367.5,306.8 369.5,309.0 371.7,308.7 373.7,309.5 375.7,308.4 378.0,308.5 380.3,308.4 382.3,309.5 384.5,309.6 386.5,308.5 387.7,304.0 389.7,299.9 391.5,298.8 392.9,297.3 394.1,300.9 396.1,304.2 397.4,307.1 399.3,309.5 401.3,310.0 402.5,311.6 403.6,309.1 405.7,307.4 407.5,307.4 408.9,306.3 410.4,308.0 412.1,309.5 413.7,309.1 415.3,308.5 417.3,309.6 419.5,310.6 421.6,311.8 423.8,312.7 425.8,308.6 427.0,304.2 428.0,309.2 430.2,313.8 432.0,315.7 433.4,318.0 434.6,316.4 436.5,315.9 438.6,314.8 439.7,312.7 440.9,314.9 442.9,316.4 444.5,314.6 446.1,312.7 448.2,313.7 450.4,313.8 452.2,313.8 453.6,312.7 455.2,309.0 456.8,305.3 457.9,307.0 459.4,308.5 460.1,313.4 462.1,318.0 463.2,314.6 465.3,311.6 467.2,314.4 468.5,317.5 470.1,315.7 471.7,313.8 473.0,315.9 474.9,317.5 476.7,317.9 478.1,319.1 480.3,318.2 482.3,317.0 484.0,317.2 485.5,318.0 487.0,319.1 488.7,319.6 490.8,317.7 493.0,315.9 495.0,316.7 497.2,317.0 499.6,316.4 501.5,314.8 503.6,313.8 505.7,312.7 507.8,313.8 509.5,315.4 511.2,317.6 512.1,320.2" fill="none" stroke="#8fa6ee" stroke-width="1.35" stroke-linejoin="round" stroke-dasharray="5.5 3.5"/>
<polyline points="178.2,314.8 179.9,314.8 181.4,313.8 183.3,316.8 184.6,320.2 186.4,316.5 187.8,312.7 188.8,309.3 191.0,306.3 192.1,304.2 194.2,303.1 195.4,301.5 197.4,301.0 198.8,305.3 200.5,309.5 201.7,312.0 203.7,313.8 205.3,312.1 206.9,310.6 208.9,308.7 210.1,306.3 211.7,308.4 213.3,310.6 215.0,308.0 216.5,305.3 218.3,303.3 219.7,301.0 220.7,299.9 221.8,298.9 223.9,304.6 225.0,310.6 226.4,312.8 228.2,314.8 230.2,314.4 231.4,312.7 233.5,313.8 234.6,315.9 235.7,313.8 237.8,312.7 239.6,310.8 241.0,308.5 243.0,307.3 244.2,305.3 246.3,306.9 248.5,308.5 250.9,308.9 252.7,310.6 254.9,311.6 257.0,312.7 257.6,316.1 259.1,319.1 260.5,324.9 261.2,330.8 262.7,338.8 264.4,346.8 265.4,341.8 267.6,337.2 268.8,331.2 270.8,325.5 272.8,321.9 274.0,318.0 275.9,316.8 277.2,314.8 278.9,316.9 280.4,319.1 281.8,323.3 282.5,327.6 284.2,332.8 284.6,338.3 285.2,343.2 286.8,347.8 287.8,349.1 289.4,349.4 291.2,347.3 292.1,344.6 293.3,342.6 295.3,341.5 297.4,340.3 298.5,338.3 300.2,335.3 302.7,332.9 304.3,335.6 305.9,338.3 307.8,341.3 309.1,344.6 310.5,343.2 312.3,342.5 313.6,341.0 315.5,340.4 317.1,340.9 318.7,341.5 320.5,340.0 321.9,338.3 323.6,337.4 325.1,336.1 326.5,334.3 328.3,332.9 330.4,328.3 331.5,323.4 332.5,320.8 334.7,319.1 336.2,316.9 337.9,314.8 339.2,316.7 341.1,318.0 343.0,318.6 344.3,320.2 344.5,317.0 345.0,313.8 347.1,313.0 349.3,312.7 351.2,311.6 353.5,311.6 354.6,314.6 356.7,317.0 358.6,315.1 359.9,312.7 362.0,311.9 364.2,311.6 365.9,314.2 368.4,315.9 369.9,316.9 371.6,317.0 372.7,319.3 374.8,320.7 375.5,317.1 376.9,313.8 378.2,316.2 380.1,318.0 381.5,316.6 383.3,315.9 384.1,320.3 386.0,324.4 387.1,321.1 388.6,318.0 390.7,316.2 391.8,313.8 393.3,312.0 395.0,310.6 396.8,310.6 398.2,311.6 399.3,314.8 400.4,318.0 401.5,320.1 403.5,321.2 404.7,317.3 406.7,313.8 408.7,315.6 409.9,318.0 411.9,319.5 413.1,321.8 415.0,320.2 416.3,318.0 418.0,315.4 419.5,312.7 420.8,316.1 422.7,319.1 423.9,321.6 425.9,323.4 428.0,320.4 429.1,317.0 430.6,319.2 432.3,321.2 434.8,322.3 436.5,324.4 438.7,324.6 440.8,325.0 442.2,321.4 444.0,318.0 445.7,320.1 447.2,322.3 448.3,324.8 450.4,326.5 452.5,325.7 454.6,325.0 456.2,325.5 457.8,325.5 459.7,324.8 461.0,323.4 462.7,326.5 464.2,329.7 465.5,332.6 467.4,335.1 468.9,335.9 470.6,336.1 472.6,337.3 473.8,339.3 474.9,336.4 477.0,334.0 478.3,336.3 480.2,338.3 481.7,340.4 483.4,342.5 484.8,338.3 487.1,334.5 488.0,337.6 489.8,340.4 491.5,339.2 493.5,338.3 494.6,340.7 496.7,342.5 498.5,346.2 500.4,350.0 502.4,351.0 504.7,351.0 506.4,347.4 507.9,343.6 509.6,343.4 511.1,342.5 512.4,343.5 514.0,343.6" fill="none" stroke="#f7729b" stroke-width="1.35" stroke-linejoin="round" stroke-dasharray="5.5 3.5"/>
<polyline points="178.2,315.4 179.5,313.5 180.9,311.6 182.2,311.7 183.5,312.2 184.4,310.4 186.2,309.5 187.7,308.7 188.8,307.4 190.3,308.6 191.5,310.0 192.6,311.1 194.2,311.1 195.5,308.7 196.8,306.3 198.0,304.4 199.5,302.6 200.5,305.2 202.1,307.4 203.3,309.1 204.8,310.6 205.9,309.3 207.5,309.0 209.3,307.5 210.1,305.3 210.9,307.3 212.8,308.5 214.2,308.2 215.5,309.0 217.0,309.1 218.1,310.0 219.1,307.7 220.8,305.8 221.9,305.1 222.9,304.2 223.7,306.4 225.0,308.5 226.0,310.8 227.7,312.7 228.8,311.6 230.4,311.6 232.2,312.5 233.0,314.3 234.4,313.6 235.7,312.7 236.6,311.1 238.3,310.6 239.2,308.8 241.0,307.9 242.6,305.7 243.7,303.1 245.0,303.3 246.3,303.7 247.6,305.6 249.0,307.4 250.1,308.6 251.6,309.0 252.8,312.0 254.3,314.8 255.5,316.3 257.0,317.5 258.3,316.2 259.6,314.8 260.9,313.7 262.3,312.7 263.8,313.8 265.0,315.4 266.3,316.7 267.6,318.0 269.4,318.1 270.8,317.0 271.9,314.7 273.5,312.7 275.2,311.1 276.1,309.0 277.5,309.1 278.8,308.5 280.2,310.5 281.5,312.7 282.6,314.5 284.1,315.9 285.4,315.1 286.8,314.8 288.6,316.0 289.4,318.0 290.7,318.8 292.1,319.1 293.0,317.1 294.8,315.9 296.5,314.6 297.4,312.7 298.8,312.8 300.1,313.2 301.6,313.3 302.7,314.3 304.1,313.9 305.4,313.2 306.7,311.1 308.1,309.0 310.2,309.5 311.9,311.4 312.9,313.8 313.8,315.3 315.5,315.9 316.7,314.9 318.2,314.3 319.4,312.9 320.8,311.6 322.2,310.0 324.0,309.0 325.5,309.5 326.7,310.6 328.5,311.8 329.4,313.8 330.1,311.3 332.0,309.5 332.9,306.1 334.7,303.1 335.5,302.1 336.8,302.1 337.8,303.8 339.5,304.7 341.2,303.8 342.1,302.1 343.4,301.9 344.3,301.0 345.0,302.1 346.1,301.0 347.7,301.0 348.7,298.7 350.3,296.7 351.2,299.2 353.0,301.0 354.5,301.5 355.6,302.6 357.0,301.0 358.8,299.9 360.4,299.7 362.0,299.9 363.5,300.8 365.2,301.0 366.6,301.2 367.9,300.5 369.7,302.0 370.5,304.2 372.1,306.5 373.2,309.0 374.7,308.5 375.9,307.4 377.4,305.1 378.5,302.6 380.1,301.2 381.2,299.4 382.5,298.8 383.9,299.4 385.0,298.4 386.5,298.3 388.0,297.9 389.2,298.9 390.6,299.2 391.8,298.3 392.8,299.7 394.5,299.9 395.6,302.2 397.2,304.2 398.0,306.6 399.8,308.5 401.4,308.9 402.5,310.0 403.7,308.8 405.1,307.9 406.4,307.3 407.8,306.9 409.5,307.4 410.5,309.0 411.8,308.4 413.1,307.9 414.3,307.1 415.8,306.9 417.5,308.5 418.5,310.6 419.8,310.0 421.1,310.6 422.0,308.2 423.8,306.3 425.2,305.4 426.4,304.2 427.8,305.7 429.1,307.4 430.3,309.1 431.8,310.6 432.9,311.6 434.4,312.2 435.7,311.8 437.1,311.6 438.4,312.3 439.7,312.7 441.4,313.4 442.4,314.8 443.8,313.9 445.1,312.7 446.0,311.3 447.7,311.1 449.1,311.1 450.4,310.6 451.5,311.7 453.0,311.6 454.8,312.6 455.7,314.3 457.0,314.0 458.4,313.8 459.8,315.3 461.0,317.0 462.9,315.2 463.7,312.7 464.8,312.4 465.8,311.6 467.1,313.8 468.5,315.9 469.6,314.5 471.1,313.8 472.6,313.9 473.8,314.8 475.3,313.1 476.5,311.1 478.2,312.7 479.1,314.8 480.5,313.3 481.8,311.6 483.1,312.2 484.5,312.7 485.5,314.1 487.1,314.8 488.5,314.5 489.8,313.8 490.9,312.5 492.4,311.6 493.8,311.6 495.1,312.2 496.5,310.5 497.2,308.5 497.9,307.0 499.4,306.3 500.4,308.7 501.5,311.1 502.9,312.6 504.1,314.3 505.1,311.9 506.8,310.0 508.4,308.7 509.5,306.9 510.8,306.7 512.1,306.9 514.0,307.9" fill="none" stroke="#0f3cd4" stroke-width="1.8" stroke-linejoin="round"/>
<polyline points="178.2,313.8 179.0,310.5 180.3,307.4 181.6,305.1 182.5,302.6 183.1,304.1 184.6,304.7 185.5,306.2 186.7,307.4 187.5,305.6 188.8,304.2 189.9,303.7 191.0,303.1 191.7,304.5 192.6,305.8 194.0,301.9 194.7,297.8 195.8,297.3 196.8,296.7 197.4,300.0 198.4,303.1 198.9,307.0 200.5,310.6 201.4,312.0 202.7,313.2 204.1,311.3 204.8,309.0 205.9,310.6 206.9,312.2 208.2,311.0 209.1,309.5 210.8,307.1 211.7,304.2 213.2,302.6 213.9,300.5 214.8,301.7 216.0,302.6 217.1,303.4 218.1,304.2 219.3,304.8 220.2,305.8 221.2,305.0 222.4,304.7 223.7,307.6 224.5,310.6 225.8,312.7 227.2,314.8 228.7,314.7 229.8,315.9 231.2,314.9 232.5,313.8 234.1,314.1 235.1,315.4 237.0,313.2 237.8,310.6 239.4,308.9 240.5,306.9 241.4,304.9 243.1,303.7 244.6,306.0 245.8,308.5 247.0,309.2 248.5,309.0 250.2,308.4 251.1,306.9 252.2,308.7 253.8,310.0 254.9,309.0 256.4,308.5 257.4,312.2 258.6,315.9 259.2,321.8 260.2,327.6 261.2,332.9 262.3,338.3 263.9,341.5 264.4,345.2 265.3,343.2 266.5,341.5 267.7,337.8 268.7,334.0 270.3,328.8 270.8,323.4 272.5,320.9 272.9,318.0 274.7,314.5 275.6,310.6 276.7,309.9 277.7,309.0 279.3,311.1 279.9,313.8 280.3,317.7 282.0,321.2 283.4,323.7 283.6,326.5 284.6,325.2 285.7,323.9 286.0,328.0 287.3,331.9 288.9,336.5 289.4,341.5 290.0,343.8 291.6,345.7 292.1,342.8 293.7,340.4 294.5,336.6 295.8,332.9 296.9,328.7 298.0,324.4 299.4,322.2 300.1,319.6 301.7,320.7 302.7,322.3 303.7,323.8 305.4,324.4 306.7,324.9 308.1,325.5 309.1,324.8 310.2,324.4 311.3,326.8 312.3,329.2 312.9,332.3 314.5,335.1 315.8,336.2 316.6,337.7 317.0,333.1 318.7,328.7 320.8,329.2 322.4,330.8 323.0,332.9 323.9,333.7 325.1,334.0 326.5,330.9 327.2,327.6 328.8,322.9 329.4,318.0 330.2,315.5 331.5,313.2 333.2,310.8 333.6,307.9 334.1,305.5 335.7,303.7 337.0,306.8 337.9,310.0 338.6,313.4 340.0,316.4 340.7,317.8 342.1,318.0 342.7,316.1 344.3,314.8 345.0,314.8 346.8,314.8 348.2,313.8 349.9,313.3 351.4,312.2 352.8,311.8 353.5,310.6 355.1,307.5 355.6,304.2 357.4,301.7 358.3,298.9 359.6,297.7 361.0,296.7 362.3,297.4 363.6,297.8 364.4,299.8 366.3,301.0 368.1,302.2 369.0,304.2 370.1,303.1 371.6,303.1 372.6,306.2 374.3,309.0 375.6,309.1 376.9,309.5 378.6,309.3 380.1,308.5 381.5,308.1 382.8,307.9 384.5,304.6 385.5,301.0 386.8,300.0 388.1,298.9 389.6,298.5 390.8,299.4 392.2,300.4 393.4,301.5 394.5,299.7 396.1,298.3 397.5,298.5 398.8,297.8 399.9,300.1 401.4,302.1 403.2,303.3 404.1,305.3 405.0,303.5 406.7,302.6 408.2,303.8 409.4,305.3 410.4,305.9 411.5,306.3 413.2,302.5 413.7,298.3 414.4,300.4 415.8,302.1 417.0,303.3 418.5,304.2 419.8,304.6 421.1,304.7 422.1,307.0 423.8,309.0 424.9,307.8 426.4,307.4 427.8,308.2 429.1,309.0 431.0,310.5 431.8,312.7 433.3,314.4 434.4,316.4 435.4,314.3 437.1,312.7 438.3,313.9 439.7,314.8 441.0,312.6 442.4,310.6 444.5,310.0 445.5,312.2 447.2,313.8 448.4,310.0 449.9,306.3 450.6,307.2 451.5,307.9 452.3,312.0 453.6,315.9 454.4,320.7 455.7,325.5 456.8,323.2 458.4,321.2 459.8,321.6 461.0,322.3 462.9,320.5 463.7,318.0 465.0,316.4 466.4,314.8 467.8,314.9 469.0,314.3 470.8,316.5 471.7,319.1 473.1,320.6 474.3,322.3 475.6,320.6 477.0,319.1 477.6,317.2 479.1,315.9 480.4,315.1 481.3,313.8 483.2,316.1 483.9,319.1 484.9,319.8 486.0,320.2 487.0,318.0 488.2,315.9 489.4,316.8 490.8,316.4 492.6,317.7 493.5,319.6 495.0,319.3 496.2,320.2 497.7,321.6 498.8,323.4 500.3,324.8 501.5,326.5 502.8,328.9 504.1,331.3 505.5,331.6 506.8,331.9 507.9,333.2 509.5,334.0 511.0,334.9 512.1,336.1 514.0,335.6" fill="none" stroke="#ff1266" stroke-width="1.8" stroke-linejoin="round"/>
<rect x="372.3" y="244.4" width="114.7" height="135.6" fill="#bad7a6" fill-opacity="0.35"/>
<path d="M178.6 241.3 V380.3 H514.2" fill="none" stroke="#8a8a8a" stroke-width="1.6"/>
<path d="M178.6 380.0 v-2.8 M234.5 380.0 v-2.8 M290.5 380.0 v-2.8 M346.4 380.0 v-2.8 M402.3 380.0 v-2.8 M458.3 380.0 v-2.8 M514.2 380.0 v-2.8 M178.6 241.3 h3 M178.6 276.0 h3 M178.6 310.6 h3 M178.6 345.3 h3 M178.6 380.0 h3" stroke="#7a7a7a" stroke-width="1.1" fill="none"/>
<g font-size="11" fill="#3c3c3c" text-anchor="middle">
<text x="178.6" y="395.6">-200</text>
<text x="234.5" y="395.6">0</text>
<text x="290.5" y="395.6">200</text>
<text x="346.4" y="395.6">400</text>
<text x="402.3" y="395.6">600</text>
<text x="458.3" y="395.6">800</text>
<text x="514.2" y="395.6">1000</text>
</g>
<g font-size="11" fill="#3c3c3c" text-anchor="end">
<text x="173.1" y="245.3">1</text>
<text x="173.1" y="280.0">0.5</text>
<text x="173.1" y="314.6">0</text>
<text x="173.1" y="349.3">-0.5</text>
<text x="173.1" y="384.0">-1</text>
</g>
<text x="346.4" y="411.1" font-size="12" fill="#3c3c3c" text-anchor="middle">Time (ms)</text>
<text transform="translate(147.3,310.6) rotate(-90)" font-size="12" fill="#3c3c3c" text-anchor="middle">Potential (<tspan font-style="italic" font-size="11">μ</tspan>V)</text>
<polyline points="707.1,129.0 709.5,130.5 711.4,132.7 713.6,131.8 715.6,130.6 717.8,130.1 719.9,130.6 721.1,127.2 723.1,124.2 724.5,122.2 725.2,119.9 726.6,122.0 727.9,124.2 729.5,125.7 731.6,126.3 733.8,128.4 735.9,130.6 738.0,132.2 740.1,133.8 742.5,132.4 744.4,130.6 746.7,132.5 748.6,134.8 750.1,139.1 751.8,143.4 753.1,141.4 755.0,140.2 757.1,138.4 758.2,135.9 760.4,136.0 762.5,135.9 764.8,135.3 766.7,133.8 768.9,134.2 771.0,134.8 773.1,137.0 775.3,139.1 777.5,137.1 779.5,134.8 781.3,135.7 782.7,137.0 784.9,139.3 785.9,142.3 787.4,144.5 789.1,146.5 790.1,149.9 791.8,152.9 792.4,150.6 793.9,148.7 795.8,144.6 796.5,140.2 798.3,137.6 799.7,134.8 801.0,131.9 802.9,129.5 804.4,126.8 806.1,124.2 807.8,122.2 809.3,119.9 810.5,115.5 812.5,111.4 814.1,111.9 815.7,112.5 817.3,117.2 817.8,122.1 819.6,125.2 821.0,128.5 822.2,132.4 824.2,135.9 826.0,140.1 827.4,144.4 828.4,148.4 830.6,151.9 831.9,150.0 833.8,148.7 835.3,149.9 837.0,150.8 838.5,150.0 840.2,149.7 842.3,151.5 843.4,154.0 845.1,151.4 847.6,149.7 850.0,148.1 851.9,146.0 854.4,145.2 856.2,143.4 857.6,145.6 859.4,147.6 860.8,142.8 862.5,138.0 863.9,139.5 865.7,140.2 868.2,141.4 870.0,143.4 872.3,143.4 874.3,142.3 875.2,143.8 875.3,145.5 877.1,142.1 879.6,139.1 881.0,137.9 882.8,137.5 884.7,141.4 886.0,145.5 887.7,143.4 890.2,142.3 892.1,143.9 894.5,144.4 896.4,147.7 898.7,150.8 901.2,147.8 903.0,144.4 905.1,143.9 907.3,143.4 909.9,145.0 911.5,147.6 913.7,150.8 915.8,154.0 917.9,153.5 920.0,152.9 922.2,154.4 924.3,156.1 925.3,153.1 927.5,150.8 929.6,149.7 931.7,148.7 933.8,146.3 934.9,143.4 936.5,145.5 938.1,147.6 939.8,149.1 941.3,150.8 942.5,153.7 944.5,156.1 946.9,159.1 948.8,162.5 950.2,155.0 952.0,147.6 954.3,146.3 956.2,144.4 958.2,143.0 960.5,142.3 962.7,146.3 963.7,150.8 964.9,148.9 966.9,147.6 969.2,146.9 971.1,145.5 973.0,144.0 975.4,143.4 977.6,142.5 979.6,141.2 981.4,141.1 982.8,140.2 985.3,141.4 987.1,143.4 989.2,142.6 991.4,142.3 993.0,139.6 994.5,137.0 995.8,140.3 997.7,143.4 999.2,142.1 1000.9,141.2 1002.7,140.7 1004.1,139.6 1005.3,143.8 1007.3,147.6 1009.1,146.2 1010.5,144.4 1012.6,145.0 1014.8,144.4 1016.9,145.1 1019.0,145.5 1020.8,144.0 1022.2,142.3 1024.6,143.6 1026.5,145.5 1028.5,147.3 1030.7,148.7 1033.1,149.2 1035.3,150.3" fill="none" stroke="#4f72e2" stroke-width="1.35" stroke-linejoin="round" stroke-dasharray="5.5 3.5"/>
<polyline points="707.1,127.9 708.9,132.1 711.4,135.9 713.7,135.2 715.6,133.8 717.6,132.3 719.9,131.6 722.1,131.6 724.2,130.6 726.2,129.6 728.4,129.5 730.6,129.8 732.7,129.0 734.7,130.9 736.9,132.7 739.2,133.6 741.2,134.8 743.5,134.2 745.5,132.7 747.2,134.8 749.7,135.9 751.8,134.2 754.0,132.7 756.2,131.0 758.2,129.0 760.7,130.4 762.5,132.7 764.6,132.8 766.7,132.7 768.9,132.2 771.0,131.6 773.1,132.1 775.3,132.7 777.2,131.2 779.5,130.6 781.3,127.5 782.7,124.2 783.7,122.0 784.8,119.9 787.3,120.8 789.1,122.6 789.8,123.9 791.2,124.2 792.5,122.2 793.4,119.9 794.7,121.3 795.5,123.1 796.8,126.8 797.6,130.6 799.6,129.4 800.8,127.4 801.9,124.4 804.0,122.1 805.6,121.6 807.2,121.0 808.6,119.6 810.4,118.9 812.2,119.5 813.6,121.0 815.4,122.6 817.8,123.1 819.7,125.5 822.1,127.4 824.2,128.0 826.4,128.5 828.4,127.8 830.6,127.9 833.1,125.3 834.9,122.1 836.6,124.8 839.1,126.9 841.6,127.7 843.4,129.5 845.1,131.9 846.6,134.3 848.2,131.5 850.8,129.5 852.9,127.9 855.1,126.3 857.4,126.6 859.4,127.9 861.4,129.4 863.6,130.6 865.6,128.8 867.9,127.4 870.2,128.0 872.1,129.5 873.5,129.5 874.3,130.6 876.3,132.3 878.5,133.8 880.6,131.9 882.8,130.0 885.4,130.4 888.1,130.6 889.3,134.0 891.3,137.0 893.2,133.9 894.5,130.6 896.3,128.3 897.7,125.8 899.8,125.0 901.9,124.2 903.6,125.5 905.1,126.9 906.4,125.5 908.3,125.3 909.4,129.5 910.5,133.8 911.5,137.2 913.6,140.2 915.7,137.8 916.8,134.8 919.3,132.6 920.6,129.5 922.1,132.4 924.3,134.8 926.4,132.1 928.0,129.0 930.1,132.3 931.7,135.9 934.2,138.3 936.0,141.2 938.1,140.3 940.3,139.6 942.2,141.2 943.5,143.4 945.8,141.8 947.7,139.6 949.8,138.4 952.0,137.5 953.5,140.5 955.2,143.4 957.3,143.9 959.4,144.4 961.8,142.5 963.7,140.2 966.3,139.3 969.0,139.1 970.7,142.3 972.2,145.5 974.2,144.2 976.5,143.4 978.6,143.1 980.7,142.8 982.7,145.1 984.4,147.6 985.5,146.3 987.1,145.5 988.8,147.0 990.3,148.7 991.8,147.0 993.5,145.5 995.5,147.9 996.7,150.8 998.9,147.4 999.9,143.4 1001.8,144.8 1004.1,145.0 1006.1,145.9 1007.3,147.6 1009.0,148.0 1010.5,148.7 1012.8,147.4 1014.8,145.5 1016.9,145.5 1019.0,146.0 1021.4,144.5 1023.3,142.3 1025.1,144.5 1027.5,146.0 1029.7,147.8 1031.8,149.7 1033.6,150.3 1035.3,150.8" fill="none" stroke="#f98db0" stroke-width="1.35" stroke-linejoin="round" stroke-dasharray="5.5 3.5"/>
<polyline points="707.1,127.9 708.2,129.4 709.8,130.0 711.3,130.9 712.5,132.2 713.9,131.3 715.1,130.0 716.7,130.3 717.8,131.6 718.8,130.5 720.4,130.6 721.4,129.2 723.1,129.0 724.6,127.5 725.8,125.8 727.3,125.8 728.4,124.7 729.8,125.2 731.1,125.8 732.2,127.0 733.7,127.4 735.1,129.2 736.4,131.1 737.6,132.3 739.1,133.2 740.5,132.7 741.7,131.6 743.0,130.7 744.4,130.0 745.7,129.6 747.0,130.0 747.9,132.5 749.2,134.8 749.6,138.8 751.3,142.3 752.7,143.3 752.9,145.0 753.4,142.8 755.0,141.2 756.4,137.0 757.2,132.7 758.5,132.7 759.3,131.6 760.6,133.5 762.0,135.4 762.9,134.0 764.6,133.8 766.2,133.2 767.8,132.7 769.5,132.9 771.0,132.2 772.7,132.1 774.2,132.7 775.9,131.5 777.4,130.0 778.1,128.7 779.5,128.5 780.9,129.2 781.6,130.6 782.7,132.0 784.3,132.7 785.2,135.6 787.0,138.0 788.1,140.1 789.1,142.3 790.4,144.8 791.2,147.6 792.5,148.0 792.8,149.2 794.4,147.0 795.0,144.4 796.5,140.8 797.1,137.0 798.5,136.3 799.2,134.8 800.5,134.8 801.3,135.9 803.0,133.5 803.5,130.6 804.3,127.7 806.1,125.3 807.5,123.1 808.8,121.0 809.5,117.7 810.9,114.6 811.6,112.0 813.0,109.8 815.2,109.3 816.5,111.8 816.8,114.6 817.5,118.3 818.4,122.1 819.2,124.8 820.5,127.4 821.4,129.1 822.6,130.6 824.0,134.2 824.8,138.0 825.1,140.8 826.4,143.4 827.9,144.3 828.5,146.0 829.6,149.7 830.6,153.5 832.0,151.8 832.7,149.7 834.3,149.7 835.4,150.8 836.7,149.7 838.1,148.7 839.7,149.0 841.3,149.7 843.1,150.0 844.5,151.3 846.2,151.3 847.6,150.3 849.4,150.1 850.8,149.2 852.4,148.4 854.0,148.1 855.7,147.5 856.7,146.0 857.8,147.0 859.4,147.1 861.0,145.5 861.5,143.4 862.2,141.5 863.6,140.2 864.5,141.1 865.7,141.2 867.5,141.6 868.9,142.8 870.4,143.6 872.1,143.4 874.3,143.4 875.8,144.5 876.9,146.0 878.9,144.8 880.1,142.8 881.7,142.9 883.3,143.4 885.3,144.2 886.5,146.0 888.1,144.1 889.7,142.3 891.8,141.8 892.7,144.0 894.5,145.5 895.9,146.8 896.6,148.7 897.0,146.6 898.2,145.0 899.8,148.5 900.3,152.4 901.7,152.8 903.0,152.4 904.4,151.7 905.7,150.8 906.8,148.5 907.3,146.0 908.6,146.6 909.9,146.0 910.8,148.2 912.6,149.7 913.5,152.5 914.7,155.1 915.6,153.3 917.4,152.4 918.7,152.8 920.0,153.5 921.2,152.5 922.7,151.9 923.9,153.9 924.8,156.1 926.7,153.4 927.5,150.3 928.6,152.7 929.6,155.1 930.4,156.8 931.7,158.3 932.5,159.9 933.9,160.9 935.1,158.5 936.5,156.1 938.3,152.8 939.2,149.2 940.3,151.2 941.9,152.9 943.7,154.8 944.5,157.2 946.3,159.0 947.2,161.5 948.0,162.5 949.3,163.0 950.7,162.0 952.0,160.9 953.0,159.6 954.6,159.3 956.1,154.6 956.8,149.7 958.0,152.9 958.9,156.1 960.4,156.2 961.5,155.1 962.9,156.7 964.2,158.3 965.1,159.2 966.3,159.3 967.8,155.7 969.0,151.9 970.3,152.2 971.7,151.9 973.0,152.3 974.3,151.9 975.5,152.8 977.0,152.9 978.3,150.8 979.6,148.7 980.6,147.7 981.8,147.1 983.5,150.6 983.9,154.5 985.2,154.6 986.6,154.5 988.0,153.3 989.2,151.9 990.6,153.1 991.9,154.5 993.7,153.0 994.5,150.8 996.1,150.8 997.2,149.7 998.7,150.3 999.9,151.3 1001.3,151.3 1002.5,150.8 1004.2,153.3 1005.2,156.1 1006.8,157.5 1007.9,159.3 1009.7,161.1 1010.5,163.6 1011.6,163.0 1012.6,162.5 1014.2,159.5 1014.8,156.1 1016.0,157.9 1017.4,159.3 1018.9,159.2 1020.1,158.3 1021.7,158.4 1023.3,158.3 1025.0,158.5 1026.5,159.3 1027.8,157.7 1029.1,156.1 1030.5,155.0 1031.3,153.5 1032.9,155.0 1033.4,157.2 1034.5,159.0 1035.3,160.9" fill="none" stroke="#0f3cd4" stroke-width="1.8" stroke-linejoin="round"/>
<polyline points="707.1,127.4 707.9,129.7 709.3,131.6 710.8,133.3 711.4,135.4 712.4,136.2 713.5,137.0 714.3,135.7 715.6,134.8 717.4,133.0 718.3,130.6 720.0,130.0 721.0,128.5 722.2,129.4 723.6,130.0 725.0,130.2 726.3,130.6 727.7,130.6 729.0,130.0 730.0,128.8 731.6,128.5 732.7,129.6 734.3,129.5 735.9,130.5 736.9,132.2 738.0,133.5 739.6,134.3 740.9,134.1 742.3,133.8 743.4,132.6 744.9,132.2 746.1,133.0 747.6,132.7 749.0,134.0 750.2,135.4 751.6,134.5 752.9,133.8 754.1,132.5 755.6,131.6 756.8,130.9 758.2,130.6 759.9,131.6 760.9,133.2 762.3,133.3 763.5,133.8 765.3,134.1 766.7,133.2 768.2,132.3 769.9,132.2 771.6,132.4 773.1,131.6 774.5,131.1 775.8,130.6 776.9,132.2 778.5,133.2 779.9,133.6 781.1,134.3 781.8,132.7 783.2,131.6 784.4,129.5 785.4,127.4 786.5,126.4 788.0,126.3 789.5,126.5 790.7,127.4 792.4,127.9 793.4,129.5 794.9,130.3 796.0,131.6 796.9,132.5 798.1,132.7 799.7,130.8 800.3,128.5 801.5,126.4 802.4,124.2 803.6,123.4 805.1,123.7 806.2,122.5 807.7,122.1 809.2,120.6 810.4,118.9 811.5,119.2 812.5,119.9 813.2,121.2 814.6,121.5 816.8,122.1 818.3,122.2 819.4,123.1 820.2,124.9 821.6,126.3 822.8,127.3 823.7,128.5 825.4,127.2 826.4,125.3 828.0,124.3 829.0,122.6 830.4,122.8 831.7,122.1 832.8,121.0 834.3,121.0 835.4,122.8 837.0,124.2 838.7,125.5 839.7,127.4 840.8,128.3 842.3,128.5 843.8,129.0 845.0,130.0 846.3,130.9 847.6,131.6 849.1,130.5 850.3,129.0 851.3,127.1 853.0,125.8 854.1,124.8 855.6,124.7 857.0,124.4 858.3,123.7 859.9,123.7 861.0,122.6 862.5,122.2 863.6,121.0 864.9,122.1 866.3,123.1 867.1,125.1 868.9,126.3 869.9,128.3 871.1,130.0 872.3,129.1 873.7,128.5 874.8,129.7 876.4,130.0 877.6,131.8 879.6,132.7 881.2,133.7 882.8,134.8 884.4,133.8 886.0,132.7 887.6,132.1 889.2,132.7 890.2,135.5 892.4,137.5 894.1,137.5 895.5,138.6 897.1,138.1 898.7,138.0 900.1,139.2 901.9,139.1 903.5,139.6 905.1,139.6 906.1,137.9 907.8,137.0 909.5,138.3 910.5,140.2 912.6,141.9 913.6,144.4 914.9,146.0 916.8,146.5 918.4,147.0 919.5,148.1 921.1,146.5 922.2,144.4 923.8,144.6 925.4,143.9 927.0,143.2 928.5,143.9 929.8,143.1 931.2,143.4 933.0,145.2 933.9,147.6 935.3,149.4 937.1,150.8 938.9,151.1 940.3,152.4 941.8,153.1 943.5,152.9 944.9,150.7 946.6,148.7 948.5,147.3 949.8,145.5 950.8,144.0 952.5,143.4 954.0,143.3 955.2,142.3 956.5,142.2 957.3,141.2 958.7,143.3 960.0,145.5 961.8,146.6 962.6,148.7 964.2,149.1 965.8,149.7 967.3,150.8 969.0,151.3 970.5,152.2 972.2,151.9 973.7,151.1 975.4,151.3 977.3,149.7 978.6,147.6 979.9,146.6 981.2,145.5 982.7,146.9 983.9,148.7 984.8,151.6 986.6,154.0 988.3,153.4 989.2,151.9 990.7,151.0 991.9,149.7 993.5,150.5 994.5,151.9 995.9,151.8 997.2,151.3 998.6,151.3 999.9,150.8 1001.5,150.3 1003.1,150.8 1004.4,152.7 1006.3,154.0 1008.1,152.7 1009.5,150.8 1011.0,150.2 1012.6,149.7 1014.2,150.8 1015.8,151.9 1017.3,151.0 1019.0,150.8 1020.7,151.5 1022.2,152.4 1023.9,152.6 1025.4,151.9 1027.3,152.9 1028.6,154.5 1030.0,153.1 1031.8,152.4 1033.5,151.8 1035.3,151.9" fill="none" stroke="#ff1266" stroke-width="1.8" stroke-linejoin="round"/>
<rect x="894.7" y="63.4" width="114.8" height="134.3" fill="#bad7a6" fill-opacity="0.35"/>
<path d="M707.3 62.0 V198.0 H1035.3" fill="none" stroke="#8a8a8a" stroke-width="1.6"/>
<path d="M707.3 197.7 v-2.8 M762.0 197.7 v-2.8 M816.6 197.7 v-2.8 M871.3 197.7 v-2.8 M926.0 197.7 v-2.8 M980.6 197.7 v-2.8 M1035.3 197.7 v-2.8 M707.3 62.0 h3 M707.3 95.9 h3 M707.3 129.8 h3 M707.3 163.8 h3 M707.3 197.7 h3" stroke="#7a7a7a" stroke-width="1.1" fill="none"/>
<g font-size="11" fill="#3c3c3c" text-anchor="middle">
<text x="707.3" y="213.2">-200</text>
<text x="762.0" y="213.2">0</text>
<text x="816.6" y="213.2">200</text>
<text x="871.3" y="213.2">400</text>
<text x="926.0" y="213.2">600</text>
<text x="980.6" y="213.2">800</text>
<text x="1035.3" y="213.2">1000</text>
</g>
<g font-size="11" fill="#3c3c3c" text-anchor="end">
<text x="701.8" y="66.0">1</text>
<text x="701.8" y="99.9">0.5</text>
<text x="701.8" y="133.8">0</text>
<text x="701.8" y="167.8">-0.5</text>
<text x="701.8" y="201.7">-1</text>
</g>
<text x="871.3" y="228.7" font-size="12" fill="#3c3c3c" text-anchor="middle">Time (ms)</text>
<text transform="translate(677.5,129.8) rotate(-90)" font-size="12" fill="#3c3c3c" text-anchor="middle">Potential (<tspan font-style="italic" font-size="11">μ</tspan>V)</text>
<rect x="942.3" y="36.8" width="90.9" height="50.5" rx="1.5" fill="#fff" stroke="#9a9a9a" stroke-width="1"/>
<line x1="945.1" y1="43.9" x2="970.1" y2="43.9" stroke="#0f3cd4" stroke-width="1.7"/>
<text x="973.3" y="47.0" font-size="8.8" fill="#1a1a1a">Right, Joke</text>
<line x1="945.1" y1="56.1" x2="970.1" y2="56.1" stroke="#ff1266" stroke-width="1.7"/>
<text x="973.3" y="59.2" font-size="8.8" fill="#1a1a1a">Left, Joke</text>
<line x1="945.1" y1="68.3" x2="970.1" y2="68.3" stroke="#4f72e2" stroke-width="1.7" stroke-dasharray="8 6"/>
<text x="973.3" y="71.4" font-size="8.8" fill="#1a1a1a">Right, Straight</text>
<line x1="945.1" y1="80.5" x2="970.1" y2="80.5" stroke="#f98db0" stroke-width="1.7" stroke-dasharray="8 6"/>
<text x="973.3" y="83.6" font-size="8.8" fill="#1a1a1a">Left, Straight</text>
<polyline points="707.1,307.7 708.6,305.2 710.3,302.9 711.7,305.2 713.5,307.2 715.8,311.2 716.7,315.7 717.8,319.1 719.9,322.1 721.9,323.0 724.2,323.2 726.8,323.4 729.5,323.2 731.6,323.8 733.7,324.2 736.4,322.0 738.0,318.9 739.7,316.3 741.2,313.6 742.9,310.5 744.4,307.2 746.1,304.6 748.6,302.9 750.1,301.9 751.8,301.9 753.1,305.7 755.0,309.3 756.8,310.8 758.2,312.5 759.7,310.8 761.4,309.3 763.1,310.3 764.6,311.5 765.8,316.2 766.7,321.0 767.6,324.8 768.9,328.5 770.0,323.6 771.5,318.9 773.1,320.4 775.3,321.0 777.8,319.3 779.5,316.8 780.9,317.9 782.7,317.8 784.5,321.8 787.0,325.3 788.7,329.0 790.2,332.7 791.6,334.0 793.4,334.9 794.5,329.4 796.5,324.2 798.3,321.2 800.8,318.9 803.1,319.0 805.1,317.8 806.8,323.0 807.2,328.5 808.5,332.8 810.4,337.0 812.2,341.1 813.0,345.5 814.6,343.1 816.8,341.3 817.9,338.8 820.0,337.0 821.9,335.1 823.2,332.7 823.9,326.8 825.3,321.0 826.7,317.4 827.4,313.6 828.9,309.8 830.6,306.1 832.3,303.6 834.9,301.9 837.1,302.1 839.1,302.9 841.3,301.1 843.4,299.2 844.2,296.5 846.0,294.4 846.6,298.3 848.2,301.9 850.0,307.6 850.8,313.6 852.5,317.2 853.5,321.0 854.6,324.3 856.2,327.4 857.7,331.2 859.4,334.9 860.8,332.6 862.5,330.6 864.7,328.3 865.7,325.3 867.7,324.1 868.9,322.1 869.9,318.6 872.1,315.7 873.7,315.8 874.8,314.6 876.1,310.1 878.5,306.1 880.2,304.0 882.8,302.9 885.0,304.9 887.0,307.2 889.0,306.1 891.3,306.1 893.3,308.4 895.5,310.4 897.3,312.4 899.8,313.6 900.9,311.5 903.0,310.4 904.8,313.8 907.3,316.8 910.2,316.1 912.6,314.1 914.3,309.4 916.8,305.1 918.4,308.2 921.1,310.4 922.6,313.1 924.3,315.7 926.3,317.1 928.0,318.9 930.5,318.1 932.8,316.8 934.6,313.8 937.1,311.5 939.1,315.6 940.3,320.0 942.1,313.0 944.5,306.1 945.9,310.0 947.7,313.6 949.5,317.9 951.4,322.1 953.5,321.3 955.2,320.0 956.9,318.5 958.4,316.8 960.7,314.6 962.6,312.0 964.5,317.5 965.8,323.2 967.4,319.4 969.0,315.7 970.6,316.0 972.2,315.7 974.0,319.9 975.4,324.2 977.3,325.5 978.6,327.4 980.6,326.2 981.8,324.2 984.0,325.0 986.0,326.4 988.2,326.3 990.3,325.8 992.5,325.8 994.5,326.4 996.1,326.8 997.7,326.4 999.0,328.7 1000.9,330.6 1002.9,327.8 1005.2,325.3 1006.6,326.2 1008.4,326.4 1009.5,321.0 1010.5,315.7 1012.6,317.4 1013.7,320.0 1015.4,322.1 1018.0,323.2 1019.8,323.1 1021.2,324.2 1023.3,326.3 1025.4,328.5 1027.6,328.8 1029.7,328.0 1031.2,328.8 1032.9,328.5 1034.7,321.7 1035.3,314.6" fill="none" stroke="#4f72e2" stroke-width="1.35" stroke-linejoin="round" stroke-dasharray="5.5 3.5"/>
<polyline points="707.1,313.6 709.3,314.6 711.4,315.7 713.6,315.7 715.6,316.8 717.8,315.7 719.9,314.6 722.0,314.0 724.2,313.6 726.2,312.2 728.4,310.9 730.6,310.8 732.7,310.4 734.6,312.0 736.9,313.0 739.1,313.1 741.2,312.5 743.1,314.4 744.4,316.8 745.8,317.7 747.6,317.8 749.0,316.4 750.8,315.7 752.9,314.6 755.0,313.6 757.0,315.8 759.3,317.8 761.1,315.3 762.5,312.5 764.1,312.0 765.7,311.5 767.6,311.7 768.9,313.0 770.7,315.7 773.1,317.8 774.9,314.9 777.4,312.5 779.1,314.0 780.6,315.7 782.5,320.4 783.8,325.3 785.2,321.0 787.0,316.8 788.1,322.7 790.2,328.5 791.0,329.7 792.3,330.6 794.5,326.0 795.5,321.0 797.3,318.5 799.7,316.8 801.4,315.3 802.9,313.6 804.8,315.9 807.2,317.8 809.0,319.8 811.5,321.0 813.7,320.9 815.7,320.0 818.1,321.8 820.0,324.2 822.0,325.0 824.2,325.3 826.4,325.1 828.5,325.3 830.6,326.0 832.7,326.4 834.8,323.6 837.0,321.0 838.9,319.2 841.3,317.8 843.6,319.7 845.5,322.1 847.1,323.7 848.7,325.3 850.8,327.6 851.9,330.6 854.2,330.7 856.2,329.5 858.8,331.2 860.4,333.8 862.4,332.5 864.7,331.7 867.1,331.2 868.9,329.5 870.4,332.3 872.1,334.9 873.5,333.3 874.8,331.7 876.2,328.7 878.5,326.4 879.9,324.5 881.7,323.2 883.0,326.0 884.9,328.5 886.3,323.6 888.1,318.9 890.0,317.0 891.3,314.6 893.7,315.9 895.5,317.8 897.5,315.0 899.8,312.5 901.8,311.4 904.1,311.5 905.2,308.3 906.2,305.1 908.5,306.4 910.5,308.3 912.6,307.9 914.7,307.2 916.8,307.5 919.0,307.2 921.2,307.1 923.2,306.1 924.9,309.2 927.5,311.5 929.6,310.8 931.7,310.4 934.0,310.5 936.0,311.5 937.9,309.1 940.3,307.2 942.5,307.1 944.5,306.1 946.8,306.8 948.8,308.3 950.9,307.7 953.0,307.7 954.6,308.2 956.2,308.8 958.6,309.0 960.5,310.4 962.1,310.9 963.7,311.5 965.7,312.7 967.9,313.6 970.2,311.1 972.2,308.3 973.8,311.3 976.5,313.6 978.1,311.0 979.6,308.3 981.6,309.3 983.9,309.3 985.9,308.5 988.2,308.3 990.5,309.6 992.4,311.5 994.5,310.6 996.7,310.4 998.4,310.3 999.9,309.3 1001.9,312.9 1003.1,316.8 1004.3,312.9 1006.3,309.3 1007.5,307.4 1009.5,306.1 1011.2,306.2 1012.6,307.2 1013.9,309.6 1015.8,311.5 1017.4,313.1 1019.0,314.6 1020.5,313.8 1022.2,313.6 1024.1,311.6 1026.5,310.4 1028.8,312.3 1030.7,314.6 1032.6,318.6 1035.3,322.1" fill="none" stroke="#f7729b" stroke-width="1.35" stroke-linejoin="round" stroke-dasharray="5.5 3.5"/>
<polyline points="707.1,307.2 708.1,309.3 709.3,311.5 710.1,308.7 711.4,306.1 712.7,305.8 714.0,305.6 716.0,307.7 716.7,310.4 718.4,313.4 719.4,316.8 720.6,318.2 722.0,319.4 723.7,320.4 724.7,322.1 726.2,322.1 727.4,323.2 728.8,322.6 730.0,321.6 731.3,322.0 732.7,322.1 734.1,320.8 735.3,319.4 736.6,319.0 738.0,318.9 739.3,317.3 740.7,315.7 741.1,311.3 742.8,307.2 743.8,305.5 745.5,304.5 746.8,303.7 748.1,302.9 750.2,303.5 751.6,306.6 752.4,309.9 753.4,311.7 755.0,313.0 756.4,312.6 757.7,312.0 759.1,310.2 760.4,308.3 762.0,307.6 763.0,306.1 764.3,306.6 765.1,307.7 766.2,305.2 767.8,302.9 768.6,301.4 769.9,300.3 770.5,302.9 772.1,305.1 772.8,309.4 774.2,313.6 775.1,315.0 776.3,316.2 777.4,317.4 779.0,317.8 779.7,316.2 781.1,315.2 782.6,314.9 783.8,315.7 785.2,316.7 786.4,317.8 787.5,319.6 789.1,321.0 790.7,323.0 791.8,325.3 792.3,322.9 793.9,321.0 795.0,319.8 796.5,319.4 797.9,319.1 799.2,318.9 800.1,316.9 801.9,315.7 803.2,315.9 804.5,316.2 805.3,321.4 806.7,326.4 807.5,330.2 808.8,333.8 809.7,337.6 810.9,341.3 811.8,343.5 813.0,345.5 813.9,342.6 815.7,340.2 816.6,338.6 818.4,338.1 819.9,335.3 820.5,332.2 821.1,327.1 822.1,322.1 822.5,317.7 824.2,313.6 825.7,311.6 826.9,309.3 828.5,306.2 829.5,302.9 830.3,301.3 831.7,300.3 833.4,301.5 834.3,303.5 835.8,301.7 837.0,299.7 837.8,297.5 839.7,296.0 841.1,294.6 841.8,292.8 843.0,292.5 843.9,291.8 844.4,289.1 846.0,287.0 847.5,290.3 848.2,293.9 848.9,299.5 849.8,305.1 850.6,308.1 851.9,310.9 853.3,312.0 854.0,313.6 855.2,317.2 855.6,321.0 856.5,323.5 857.8,325.8 859.9,325.3 861.6,324.7 862.5,323.2 863.5,320.5 865.2,318.4 866.1,316.2 867.9,314.6 869.2,314.1 870.5,313.6 872.0,309.4 872.7,305.1 874.1,304.4 874.8,302.9 875.5,299.7 877.5,297.1 878.7,297.9 880.1,297.6 881.4,296.8 882.8,296.0 883.5,294.8 884.9,294.4 885.4,297.8 887.0,300.8 889.2,301.3 889.9,298.5 891.3,296.0 892.8,297.5 894.0,299.2 895.1,300.1 896.6,300.3 898.3,299.3 899.3,297.6 900.9,296.0 901.9,293.9 903.3,295.2 904.6,296.5 905.7,297.9 907.3,298.7 909.1,295.7 909.9,292.3 911.2,294.5 912.6,296.5 913.7,297.6 915.2,297.6 916.5,297.0 917.9,297.1 918.5,293.2 920.0,289.6 920.9,288.7 922.2,288.6 923.6,289.8 924.8,291.2 926.1,291.8 927.5,292.3 928.8,292.8 930.1,292.8 931.4,292.0 932.8,291.8 934.3,292.9 935.5,294.4 937.6,295.0 938.4,298.1 940.3,300.8 941.6,301.3 942.9,301.9 945.0,302.4 945.4,304.0 946.6,305.1 947.9,302.3 949.3,299.7 950.5,298.5 952.0,297.6 953.3,298.5 954.6,299.2 956.1,299.6 957.3,298.7 959.2,301.0 960.0,304.0 960.8,304.9 962.1,305.1 963.7,303.2 964.2,300.8 965.3,299.0 966.9,297.6 968.0,294.7 969.0,291.8 971.1,291.2 972.4,292.9 973.8,294.4 975.5,295.4 976.5,297.1 978.0,297.1 979.1,298.1 980.3,299.1 981.8,299.2 982.9,300.3 984.4,300.8 986.3,303.2 987.1,306.1 988.1,304.7 989.8,304.0 991.1,304.4 992.4,305.1 993.7,303.9 995.1,302.9 996.6,302.9 997.7,301.9 999.1,302.4 1000.4,302.9 1001.6,302.2 1003.1,302.4 1004.1,305.0 1005.7,307.2 1007.0,306.5 1008.4,306.1 1010.1,308.0 1010.5,310.4 1012.6,310.9 1013.9,309.2 1014.8,307.2 1016.0,305.3 1017.4,303.5 1018.8,303.6 1020.1,304.0 1021.5,303.4 1022.8,302.4 1023.5,305.0 1024.9,307.2 1026.0,309.1 1027.0,310.9 1027.9,309.0 1029.7,307.7 1031.3,307.0 1032.3,305.6 1033.9,305.0 1035.3,304.0" fill="none" stroke="#0f3cd4" stroke-width="1.8" stroke-linejoin="round"/>
<polyline points="707.1,313.0 708.9,313.0 710.3,314.1 712.0,314.4 713.5,315.2 715.4,315.5 716.7,316.8 718.1,317.8 719.4,318.9 721.1,317.0 722.0,314.6 723.6,314.2 724.7,313.0 726.0,312.2 727.4,311.5 728.4,310.0 730.0,309.3 731.3,308.8 732.7,308.8 733.7,310.4 735.3,311.5 737.0,311.7 738.0,313.0 739.4,312.7 740.7,312.0 742.3,313.0 743.3,314.6 744.7,314.3 746.0,313.6 747.0,316.2 748.1,318.9 750.2,319.4 751.0,316.4 752.4,313.6 753.5,314.5 755.0,314.6 756.6,314.6 757.7,313.6 758.9,311.6 760.4,309.9 761.6,310.4 763.0,310.4 764.2,311.7 765.7,312.5 767.0,314.1 768.3,315.7 769.3,317.9 771.0,319.4 772.8,317.9 773.7,315.7 774.5,313.5 775.8,311.5 777.0,310.7 778.5,310.4 779.7,311.8 781.1,313.0 782.9,313.6 783.8,315.2 785.1,314.9 786.4,314.6 787.2,317.6 789.1,320.0 790.2,322.7 791.8,325.3 792.6,323.1 793.9,321.0 794.7,319.5 796.0,318.4 797.3,317.7 798.7,317.8 799.7,315.4 800.8,313.0 801.5,311.7 802.9,311.5 804.0,312.8 805.6,313.6 806.6,316.0 807.7,318.4 809.0,320.7 809.9,323.2 811.2,324.0 812.0,325.3 813.0,324.0 814.6,323.7 815.8,324.6 817.3,324.2 818.5,325.5 820.0,326.4 821.3,325.3 822.6,324.2 823.9,324.8 825.3,324.8 826.6,324.9 828.0,325.3 829.3,325.8 830.6,325.3 832.2,323.9 833.3,322.1 834.2,319.0 835.9,316.2 837.0,317.6 838.1,318.9 839.6,321.4 840.7,324.2 842.1,324.7 843.4,325.3 844.7,323.7 846.0,322.1 847.1,323.9 848.7,325.3 850.3,327.0 851.4,329.0 852.5,330.6 854.0,331.7 855.6,330.3 856.7,328.5 857.8,330.3 859.4,331.7 861.0,332.7 862.0,334.3 863.3,333.0 864.7,331.7 865.7,330.3 867.3,330.1 869.2,331.5 870.0,333.8 871.1,334.8 872.7,334.9 873.9,334.7 874.8,333.8 875.3,333.8 876.2,332.2 878.0,331.7 879.2,330.4 880.6,329.5 882.3,328.8 883.3,327.4 884.3,328.8 886.0,329.0 886.8,326.8 888.6,325.3 890.0,323.2 891.3,321.0 892.2,319.1 894.0,317.8 895.1,314.6 896.6,311.5 898.3,310.1 899.3,308.3 900.2,306.3 901.9,305.1 902.7,302.8 904.6,301.3 905.7,300.2 907.3,299.7 908.8,299.3 909.9,298.1 910.9,301.1 912.0,304.0 912.2,305.9 913.6,307.2 914.4,304.1 915.8,301.3 917.3,300.8 918.4,299.7 919.7,300.8 921.1,301.9 922.8,301.3 923.8,299.7 925.2,298.8 926.4,297.6 928.1,296.7 929.1,295.0 930.2,296.1 931.7,296.0 932.7,297.4 934.4,297.6 935.7,297.6 936.5,296.5 938.2,297.9 939.2,299.7 940.3,300.9 941.9,301.3 943.0,300.4 944.5,300.3 945.8,299.3 947.2,298.7 948.7,298.2 949.8,297.1 951.2,297.0 952.5,297.1 954.3,296.2 955.2,294.4 956.7,294.0 957.8,292.8 958.3,295.3 960.0,297.1 960.8,299.1 962.6,300.3 963.5,296.9 965.3,293.9 966.4,292.6 967.4,291.2 968.1,294.8 969.5,298.1 971.0,299.4 972.2,300.8 973.7,299.9 974.9,298.7 976.0,299.6 977.5,299.7 978.7,301.2 980.2,302.4 981.7,301.2 982.8,299.7 984.0,298.3 985.5,297.1 986.6,298.4 988.2,299.2 989.1,301.0 990.8,301.9 991.4,300.3 993.0,299.7 994.2,298.4 995.6,297.1 997.4,299.2 998.3,301.9 999.3,300.4 1000.9,299.7 1002.3,298.7 1003.6,297.6 1005.1,298.8 1006.3,300.3 1007.1,302.5 1008.9,304.0 1010.5,305.4 1011.6,307.2 1012.6,305.9 1014.2,305.6 1015.3,304.2 1016.9,303.5 1018.1,302.6 1019.6,302.4 1020.6,303.8 1022.2,304.0 1023.4,305.3 1024.9,306.1 1025.8,308.5 1027.5,310.4 1028.5,308.9 1030.2,308.3 1031.9,306.7 1032.9,304.5 1033.7,302.8 1035.3,301.9" fill="none" stroke="#ff1266" stroke-width="1.8" stroke-linejoin="round"/>
<rect x="894.7" y="246.5" width="114.8" height="134.6" fill="#bad7a6" fill-opacity="0.35"/>
<path d="M707.3 244.7 V381.4 H1035.3" fill="none" stroke="#8a8a8a" stroke-width="1.6"/>
<path d="M707.3 381.1 v-2.8 M762.0 381.1 v-2.8 M816.6 381.1 v-2.8 M871.3 381.1 v-2.8 M926.0 381.1 v-2.8 M980.6 381.1 v-2.8 M1035.3 381.1 v-2.8 M707.3 244.7 h3 M707.3 278.8 h3 M707.3 312.9 h3 M707.3 347.0 h3 M707.3 381.1 h3" stroke="#7a7a7a" stroke-width="1.1" fill="none"/>
<g font-size="11" fill="#3c3c3c" text-anchor="middle">
<text x="707.3" y="397.3">-200</text>
<text x="762.0" y="397.3">0</text>
<text x="816.6" y="397.3">200</text>
<text x="871.3" y="397.3">400</text>
<text x="926.0" y="397.3">600</text>
<text x="980.6" y="397.3">800</text>
<text x="1035.3" y="397.3">1000</text>
</g>
<g font-size="11" fill="#3c3c3c" text-anchor="end">
<text x="701.8" y="248.7">1</text>
<text x="701.8" y="282.8">0.5</text>
<text x="701.8" y="316.9">0</text>
<text x="701.8" y="351.0">-0.5</text>
<text x="701.8" y="385.1">-1</text>
</g>
<text x="871.3" y="412.5" font-size="12" fill="#3c3c3c" text-anchor="middle">Time (ms)</text>
<text transform="translate(677.5,312.9) rotate(-90)" font-size="12" fill="#3c3c3c" text-anchor="middle">Potential (<tspan font-style="italic" font-size="11">μ</tspan>V)</text>
<polyline points="1234.1,131.9 1235.2,128.9 1237.3,126.6 1239.4,123.1 1240.5,119.2 1241.3,122.5 1242.6,125.5 1244.7,128.5 1245.8,131.9 1247.7,133.2 1249.0,135.1 1250.6,135.3 1252.2,135.1 1253.4,132.9 1254.9,130.9 1256.7,129.2 1258.6,127.7 1260.9,126.9 1262.9,125.5 1265.2,125.7 1267.1,124.5 1269.3,125.5 1271.4,126.6 1273.2,128.3 1275.6,128.7 1278.1,129.9 1279.9,131.9 1282.3,131.4 1284.2,129.8 1286.4,131.3 1288.4,133.0 1290.3,134.5 1292.7,135.1 1295.0,137.0 1296.9,139.4 1298.9,142.2 1301.2,144.7 1303.0,143.0 1305.5,142.6 1306.7,140.6 1308.6,139.4 1310.7,140.1 1312.9,140.5 1315.3,139.2 1317.2,137.3 1318.3,133.8 1320.4,130.9 1321.8,127.1 1323.5,123.4 1324.4,127.2 1325.7,130.9 1326.9,137.8 1327.8,144.7 1328.7,152.3 1331.0,159.6 1332.0,164.6 1334.2,169.2 1335.4,171.6 1337.4,173.5 1338.2,176.2 1339.5,178.8 1340.7,181.7 1342.7,184.1 1344.3,184.0 1345.9,184.1 1348.1,181.2 1349.1,177.7 1351.4,173.5 1353.4,169.2 1355.0,163.4 1356.5,157.5 1358.8,151.3 1359.7,144.7 1362.1,140.6 1364.0,136.2 1366.4,135.7 1368.3,134.1 1370.3,132.9 1372.5,131.9 1374.6,131.2 1376.8,130.9 1379.0,130.6 1381.0,129.8 1383.1,131.1 1385.3,131.9 1387.4,132.5 1389.5,133.0 1391.2,129.5 1393.8,126.6 1396.0,124.0 1398.1,121.3 1400.3,118.9 1401.8,116.0 1402.3,117.5 1403.2,118.9 1405.2,121.9 1406.4,125.3 1407.4,130.2 1409.6,134.8 1411.7,137.2 1412.8,140.2 1415.0,138.6 1417.0,137.0 1418.5,138.0 1420.2,138.0 1421.6,139.4 1422.9,140.7 1424.8,142.3 1426.1,144.4 1427.0,142.5 1428.7,141.2 1430.6,141.9 1431.9,143.4 1434.1,145.2 1436.2,147.1 1438.0,149.3 1440.5,150.8 1442.3,149.1 1444.7,148.1 1447.0,148.9 1449.0,150.3 1450.4,151.3 1452.2,151.9 1453.5,153.7 1455.4,155.1 1457.8,156.3 1459.6,158.3 1461.7,157.7 1463.9,158.3 1465.2,159.9 1467.1,160.9 1468.2,162.7 1469.7,164.1 1471.5,162.4 1472.9,160.4 1474.5,159.0 1476.6,158.8 1478.4,162.7 1479.8,166.8 1481.5,170.5 1483.0,174.2 1485.0,172.4 1487.3,171.0 1489.0,170.2 1490.5,168.9 1491.6,171.9 1493.7,174.2 1495.6,176.7 1496.9,179.5 1499.0,176.6 1500.1,173.2 1502.1,174.3 1503.3,176.4 1504.6,174.9 1506.5,174.2 1507.8,172.3 1509.6,171.0 1512.1,167.5 1513.9,163.6 1515.8,165.5 1517.1,167.8 1518.3,169.8 1520.3,171.0 1522.1,169.4 1523.5,167.3 1525.2,168.5 1526.7,170.0 1528.3,170.3 1529.9,171.0 1531.7,170.6 1533.1,169.4 1534.2,167.4 1536.3,166.2 1537.7,162.9 1538.4,159.3 1540.0,160.3 1541.6,161.5 1543.0,162.8 1544.8,163.6 1546.4,161.0 1549.0,159.3 1550.5,156.8 1552.2,154.5 1553.8,154.7 1555.4,155.1 1556.5,158.0 1558.6,160.4 1560.3,160.0 1561.8,159.3 1563.5,159.5 1565.0,160.4 1566.2,161.7 1567.8,162.5" fill="none" stroke="#8fa6ee" stroke-width="1.35" stroke-linejoin="round" stroke-dasharray="5.5 3.5"/>
<polyline points="1234.1,137.3 1235.2,134.3 1237.3,131.9 1239.0,129.8 1240.5,127.7 1242.4,127.1 1243.7,125.5 1245.3,124.9 1246.9,125.5 1248.1,129.5 1250.1,133.0 1251.2,135.1 1253.3,136.2 1254.4,134.1 1256.5,133.0 1258.2,133.8 1259.7,135.1 1261.7,132.7 1262.9,129.8 1264.4,128.7 1266.1,127.7 1268.2,128.1 1270.3,127.7 1272.4,128.9 1274.6,129.8 1276.9,129.7 1278.8,130.9 1281.1,131.6 1283.1,133.0 1285.2,131.9 1287.4,130.9 1289.5,129.8 1291.6,128.7 1293.6,127.4 1295.9,126.6 1298.0,124.0 1299.1,120.8 1300.8,123.6 1302.3,126.6 1304.2,128.5 1305.5,130.9 1306.9,129.6 1308.6,128.7 1310.6,130.0 1311.8,131.9 1313.5,131.7 1315.0,130.9 1317.1,129.7 1318.2,127.7 1319.7,128.7 1321.4,128.7 1323.4,128.2 1324.6,126.6 1326.2,124.8 1327.8,122.9 1329.4,124.4 1329.9,126.6 1331.2,134.6 1332.1,142.6 1333.9,145.1 1335.3,147.9 1336.6,146.1 1338.5,144.7 1340.0,146.9 1341.6,149.0 1342.8,146.5 1344.8,144.7 1346.6,142.7 1348.0,140.5 1350.0,138.6 1351.2,136.2 1353.3,138.5 1354.4,141.5 1355.6,144.0 1357.6,145.8 1359.1,145.0 1360.8,144.7 1362.6,142.6 1365.1,141.5 1367.2,139.9 1369.3,138.3 1371.9,136.6 1373.6,134.1 1375.6,133.1 1377.8,133.0 1380.2,132.5 1382.1,130.9 1384.5,132.2 1386.4,134.1 1388.4,134.9 1390.6,135.1 1392.6,134.0 1394.9,134.1 1396.7,132.5 1399.1,131.9 1401.0,130.8 1401.8,128.7 1402.9,125.4 1404.3,122.1 1406.3,124.3 1408.5,126.3 1410.6,123.7 1412.8,121.0 1415.0,120.9 1417.0,119.9 1418.8,122.9 1421.3,125.3 1423.4,125.6 1425.5,125.3 1427.7,124.2 1429.8,123.1 1432.0,123.1 1434.1,123.7 1436.1,122.8 1438.3,123.1 1440.3,122.6 1441.5,121.0 1443.0,120.1 1444.7,119.9 1446.2,121.6 1447.9,123.1 1450.0,122.2 1452.2,122.6 1454.3,121.0 1456.4,119.4 1458.6,119.5 1460.7,118.9 1462.4,121.0 1464.9,122.1 1466.2,118.7 1468.1,115.7 1469.2,114.8 1470.3,114.1 1472.2,117.4 1473.5,121.0 1475.4,118.9 1476.6,116.2 1478.0,114.8 1479.8,114.6 1481.0,116.4 1482.0,118.3 1483.8,119.0 1485.2,120.5 1486.4,122.4 1488.4,123.7 1490.2,121.4 1491.5,118.9 1493.3,118.9 1494.7,119.9 1497.0,121.4 1499.0,123.1 1500.4,120.6 1502.2,118.3 1504.1,118.6 1505.4,119.9 1507.5,120.1 1509.6,119.9 1511.7,118.5 1513.9,117.3 1515.7,116.9 1517.1,115.7 1519.0,118.7 1520.3,122.1 1522.1,122.1 1523.5,123.1 1524.9,120.9 1526.7,118.9 1527.9,116.9 1529.9,115.7 1531.5,115.9 1533.1,115.7 1535.4,117.0 1537.3,118.9 1539.5,119.2 1541.6,119.9 1543.3,118.4 1544.8,116.7 1547.1,116.9 1549.0,118.3 1551.1,119.2 1553.3,119.9 1555.5,119.3 1557.5,118.3 1559.6,119.1 1561.8,118.9 1563.7,117.0 1565.0,114.6 1566.4,114.4 1567.8,114.1" fill="none" stroke="#f5508a" stroke-width="1.35" stroke-linejoin="round" stroke-dasharray="5.5 3.5"/>
<polyline points="1234.1,133.0 1235.8,131.7 1236.8,129.8 1237.8,128.3 1239.5,127.7 1240.3,129.7 1242.1,130.9 1243.0,132.8 1244.8,134.1 1246.4,135.4 1247.4,137.3 1248.6,136.4 1250.1,136.2 1251.5,135.2 1252.8,134.1 1254.0,131.5 1254.9,128.7 1255.9,126.9 1257.5,125.5 1258.7,126.6 1260.2,126.6 1261.3,128.4 1262.9,129.8 1264.0,130.7 1265.5,130.9 1266.7,131.7 1268.2,131.9 1269.7,132.8 1271.4,133.0 1273.3,131.2 1274.0,128.7 1275.6,127.6 1276.7,126.1 1277.9,127.0 1279.4,126.6 1280.6,125.9 1282.0,126.1 1283.1,124.6 1284.7,124.0 1285.5,125.5 1286.8,126.6 1288.2,128.6 1289.0,130.9 1290.4,133.0 1291.6,135.1 1292.9,136.8 1294.3,138.3 1295.8,137.9 1296.9,136.7 1298.3,137.5 1299.6,138.3 1300.7,139.5 1302.3,139.4 1303.6,140.1 1304.4,141.5 1305.0,140.0 1306.5,139.4 1307.6,140.4 1309.2,140.5 1310.6,140.2 1311.8,139.4 1313.1,136.7 1314.5,134.1 1316.0,131.5 1317.2,128.7 1318.7,126.7 1319.8,124.5 1321.6,123.6 1322.5,121.8 1323.4,123.8 1324.6,125.5 1326.0,130.2 1326.2,135.1 1326.8,141.0 1327.8,146.8 1328.8,152.2 1329.9,157.5 1331.3,161.7 1332.1,166.0 1332.7,170.4 1334.2,174.5 1335.0,176.8 1336.3,178.8 1338.5,179.3 1340.1,180.0 1341.1,181.4 1342.5,182.5 1343.2,184.1 1344.2,185.5 1345.9,185.7 1346.6,183.6 1348.0,182.0 1349.2,179.3 1350.2,176.6 1351.6,174.7 1352.3,172.4 1353.6,168.7 1354.4,164.9 1355.2,160.6 1356.5,156.4 1357.8,152.7 1358.7,149.0 1359.4,144.6 1360.8,140.5 1361.8,138.1 1363.5,136.2 1364.6,134.6 1366.1,133.5 1367.7,133.5 1368.8,132.5 1369.8,130.4 1371.5,128.7 1372.3,126.7 1374.1,125.5 1375.3,124.4 1376.8,124.0 1378.0,124.9 1379.4,125.5 1380.8,126.0 1382.1,125.5 1383.7,126.3 1384.8,127.7 1386.2,129.2 1387.4,130.9 1388.2,129.7 1389.5,129.3 1390.3,126.2 1391.7,123.4 1393.1,122.4 1393.8,120.8 1394.5,122.8 1395.9,124.5 1397.2,121.9 1398.1,119.2 1399.3,117.4 1400.2,115.4 1401.8,114.9 1403.2,116.2 1404.6,117.4 1406.4,117.8 1408.0,117.4 1409.6,116.7 1410.9,118.3 1412.2,119.9 1413.8,120.6 1415.4,120.5 1416.7,121.7 1418.1,122.6 1419.0,120.2 1420.8,118.3 1421.9,119.4 1423.4,119.9 1425.2,121.2 1426.1,123.1 1427.5,123.1 1428.7,122.6 1430.2,122.9 1431.4,123.7 1433.1,124.6 1434.1,126.3 1435.3,125.4 1436.7,124.7 1437.9,127.0 1439.4,129.0 1440.7,127.1 1442.6,125.8 1443.8,128.1 1444.7,130.6 1446.3,133.4 1447.4,136.4 1448.3,134.8 1450.0,134.3 1451.3,134.9 1452.7,135.4 1454.5,136.6 1455.4,138.6 1456.8,136.8 1458.0,134.8 1459.7,136.1 1460.7,138.0 1461.8,137.1 1463.3,137.0 1464.2,138.8 1466.0,139.6 1467.3,140.1 1468.7,139.6 1469.8,140.8 1471.3,141.2 1472.9,141.2 1474.0,142.3 1475.8,143.2 1476.6,145.0 1477.9,144.3 1479.3,144.4 1480.9,144.1 1482.0,142.8 1482.9,145.4 1484.6,147.6 1485.9,148.4 1487.3,149.2 1488.4,150.3 1490.0,150.3 1491.2,149.6 1492.6,149.7 1494.2,149.7 1495.3,148.7 1496.8,148.2 1497.9,147.1 1499.3,148.7 1500.6,150.3 1501.4,148.3 1503.3,147.1 1504.7,146.5 1505.9,145.5 1507.2,146.1 1508.6,146.5 1509.7,147.7 1511.2,147.6 1512.3,148.8 1513.9,149.2 1515.3,151.6 1516.6,154.0 1517.7,153.7 1518.7,152.9 1520.1,150.0 1521.4,147.1 1522.8,147.6 1524.0,148.7 1525.2,149.6 1526.7,149.2 1527.9,150.6 1529.3,151.9 1530.8,152.4 1532.0,153.5 1533.1,151.4 1534.7,149.7 1536.2,149.7 1537.3,150.8 1539.2,149.2 1540.5,147.1 1541.9,147.8 1543.2,148.7 1544.8,148.2 1546.4,148.7 1547.7,148.3 1549.0,148.1 1550.4,148.7 1551.7,148.1 1552.7,146.7 1554.4,146.0 1555.3,147.4 1557.0,147.6 1558.1,145.3 1559.7,143.4 1560.8,141.9 1562.3,140.7 1564.1,141.2 1565.0,142.8 1566.6,142.8 1567.8,143.9" fill="none" stroke="#0f3cd4" stroke-width="1.8" stroke-linejoin="round"/>
<polyline points="1234.1,134.1 1235.7,132.7 1236.8,130.9 1237.9,129.5 1239.5,128.7 1240.9,130.2 1242.1,131.9 1243.5,132.2 1244.8,133.0 1245.9,132.1 1247.4,131.9 1249.2,133.8 1250.1,136.2 1251.5,136.6 1252.2,137.8 1253.5,133.9 1254.4,129.8 1255.7,130.6 1256.5,131.9 1257.6,134.6 1258.6,137.3 1259.9,137.1 1260.7,136.2 1261.4,133.4 1262.9,130.9 1264.0,129.3 1265.0,127.7 1266.3,128.6 1267.7,129.3 1269.3,129.6 1270.3,130.9 1272.0,131.5 1273.0,133.0 1274.3,131.9 1275.6,130.9 1276.6,129.0 1278.3,127.7 1280.0,129.6 1281.0,131.9 1281.9,133.5 1283.6,134.1 1284.6,132.6 1286.3,131.9 1287.5,132.6 1289.0,132.5 1290.3,131.1 1291.6,129.8 1293.1,130.1 1294.3,129.3 1295.7,129.6 1296.9,130.3 1298.4,130.6 1299.6,129.8 1301.1,130.7 1302.3,131.9 1303.6,132.9 1304.9,134.1 1306.1,135.3 1307.6,136.2 1308.9,137.5 1310.2,138.9 1312.4,139.4 1313.3,137.7 1314.5,136.2 1315.5,133.4 1317.2,130.9 1318.0,128.9 1319.8,127.7 1320.8,126.1 1322.5,125.5 1323.8,126.4 1325.1,127.1 1326.3,127.9 1327.3,128.7 1328.2,132.5 1329.4,136.2 1329.9,140.6 1331.5,144.7 1332.0,148.1 1333.7,151.1 1334.6,152.8 1335.8,154.3 1336.8,152.1 1337.9,150.0 1339.4,151.3 1340.0,153.2 1340.9,152.2 1342.2,152.2 1343.8,149.7 1344.3,146.8 1346.1,145.6 1347.0,143.6 1348.8,142.5 1349.6,140.5 1350.9,140.9 1351.8,142.0 1352.7,143.5 1353.9,144.7 1355.0,145.8 1356.5,146.3 1358.3,146.9 1359.2,148.4 1360.5,147.1 1361.9,145.8 1362.7,143.8 1364.5,142.6 1366.3,140.7 1367.2,138.3 1368.0,136.3 1369.9,135.1 1371.1,133.9 1372.5,133.0 1373.9,132.5 1375.2,131.9 1376.4,131.2 1377.8,131.4 1379.2,130.8 1380.5,131.4 1381.6,132.6 1383.2,133.0 1384.5,134.6 1385.8,136.2 1386.9,137.4 1388.5,137.8 1389.9,137.5 1390.6,136.2 1392.0,133.7 1392.7,130.9 1394.3,130.3 1394.9,128.7 1396.5,128.8 1397.5,127.7 1398.7,126.2 1399.7,124.5 1400.7,122.1 1401.8,119.7 1402.7,119.9 1404.0,122.6 1405.3,125.3 1406.6,126.4 1408.0,127.4 1409.8,125.0 1410.6,122.1 1412.2,121.2 1413.3,119.9 1414.8,120.4 1416.0,121.5 1417.1,122.7 1418.6,123.1 1419.2,118.2 1420.8,113.5 1421.8,114.1 1422.9,114.6 1423.9,116.3 1425.5,117.3 1426.8,116.7 1428.2,116.7 1429.5,116.1 1430.9,115.7 1432.4,117.1 1433.5,118.9 1435.1,120.2 1435.7,122.1 1436.9,120.7 1438.3,119.4 1439.3,116.3 1441.0,113.5 1442.5,113.4 1443.6,112.5 1445.3,112.2 1446.3,110.9 1447.8,108.1 1448.4,105.0 1449.1,107.1 1450.6,108.8 1451.3,110.5 1452.7,112.0 1454.2,110.8 1455.4,109.3 1456.8,109.1 1458.0,108.2 1459.3,107.9 1460.7,107.7 1461.8,106.7 1463.3,106.6 1464.7,105.3 1466.0,104.0 1467.2,104.7 1468.7,104.5 1470.2,103.5 1470.8,101.8 1471.6,103.3 1472.9,104.5 1474.6,106.6 1475.0,109.3 1476.3,110.3 1477.7,110.9 1478.7,112.8 1480.4,114.1 1481.5,112.8 1482.5,111.4 1483.2,108.2 1485.2,105.6 1485.9,106.7 1487.3,107.2 1488.7,108.4 1490.0,109.8 1491.1,108.6 1492.6,107.7 1494.3,107.1 1495.3,105.6 1496.6,104.4 1497.9,103.4 1499.5,104.8 1500.6,106.6 1502.0,106.4 1503.3,107.2 1504.4,106.0 1505.9,105.6 1507.1,107.5 1508.6,109.3 1510.2,110.6 1511.2,112.5 1512.9,111.0 1513.4,108.8 1514.7,107.6 1516.0,106.6 1517.3,108.0 1518.7,109.3 1519.9,110.3 1521.4,110.9 1522.5,112.6 1524.0,114.1 1525.0,115.4 1526.1,116.7 1527.1,115.2 1528.8,114.6 1530.5,114.0 1531.5,112.5 1532.9,112.5 1534.1,112.0 1535.5,111.8 1536.8,111.4 1538.7,108.7 1539.5,105.6 1540.8,107.6 1541.6,109.8 1542.3,111.9 1543.7,113.5 1545.1,113.6 1546.4,113.0 1547.8,112.8 1549.0,113.5 1550.4,114.1 1551.7,113.5 1553.0,113.4 1554.4,113.0 1555.9,113.1 1557.0,112.0 1558.2,110.9 1559.7,110.4 1561.0,109.7 1562.3,110.4 1563.6,109.0 1565.0,107.7 1566.3,106.6 1567.8,105.6" fill="none" stroke="#ff1266" stroke-width="1.8" stroke-linejoin="round"/>
<rect x="1429.5" y="66.0" width="114.5" height="136.0" fill="#bad7a6" fill-opacity="0.35"/>
<path d="M1234.2 62.8 V202.3 H1567.8" fill="none" stroke="#8a8a8a" stroke-width="1.6"/>
<path d="M1234.2 202.0 v-2.8 M1289.8 202.0 v-2.8 M1345.4 202.0 v-2.8 M1401.0 202.0 v-2.8 M1456.6 202.0 v-2.8 M1512.2 202.0 v-2.8 M1567.8 202.0 v-2.8 M1234.2 62.8 h3 M1234.2 97.6 h3 M1234.2 132.4 h3 M1234.2 167.2 h3 M1234.2 202.0 h3" stroke="#7a7a7a" stroke-width="1.1" fill="none"/>
<g font-size="11" fill="#3c3c3c" text-anchor="middle">
<text x="1234.2" y="217.5">-200</text>
<text x="1289.8" y="217.5">0</text>
<text x="1345.4" y="217.5">200</text>
<text x="1401.0" y="217.5">400</text>
<text x="1456.6" y="217.5">600</text>
<text x="1512.2" y="217.5">800</text>
<text x="1567.8" y="217.5">1000</text>
</g>
<g font-size="11" fill="#3c3c3c" text-anchor="end">
<text x="1228.7" y="66.8">1</text>
<text x="1228.7" y="101.6">0.5</text>
<text x="1228.7" y="136.4">0</text>
<text x="1228.7" y="171.2">-0.5</text>
<text x="1228.7" y="206.0">-1</text>
</g>
<text x="1401.0" y="233.2" font-size="12" fill="#3c3c3c" text-anchor="middle">Time (ms)</text>
<text transform="translate(1203.7,132.4) rotate(-90)" font-size="12" fill="#3c3c3c" text-anchor="middle">Potential (<tspan font-style="italic" font-size="11">μ</tspan>V)</text>
<rect x="1470.4" y="32.8" width="91.6" height="50.1" rx="1.5" fill="#fff" stroke="#9a9a9a" stroke-width="1"/>
<line x1="1473.2" y1="39.8" x2="1498.2" y2="39.8" stroke="#0f3cd4" stroke-width="1.7"/>
<text x="1501.4" y="42.9" font-size="8.8" fill="#1a1a1a">Right, Joke</text>
<line x1="1473.2" y1="51.9" x2="1498.2" y2="51.9" stroke="#ff1266" stroke-width="1.7"/>
<text x="1501.4" y="55.0" font-size="8.8" fill="#1a1a1a">Left, Joke</text>
<line x1="1473.2" y1="64.1" x2="1498.2" y2="64.1" stroke="#8fa6ee" stroke-width="1.7" stroke-dasharray="8 6"/>
<text x="1501.4" y="67.2" font-size="8.8" fill="#1a1a1a">Right, Straight</text>
<line x1="1473.2" y1="76.2" x2="1498.2" y2="76.2" stroke="#f5508a" stroke-width="1.7" stroke-dasharray="8 6"/>
<text x="1501.4" y="79.3" font-size="8.8" fill="#1a1a1a">Left, Straight</text>
<polyline points="1233.6,307.1 1235.6,308.0 1237.3,309.3 1239.4,310.1 1241.6,310.3 1243.5,311.7 1245.8,312.5 1248.2,313.1 1250.1,314.6 1252.0,316.1 1254.4,316.7 1256.2,317.3 1258.1,317.2 1260.0,315.4 1261.8,313.5 1263.1,311.2 1265.0,309.3 1266.6,308.2 1268.2,307.1 1270.1,309.5 1272.5,311.4 1274.3,312.9 1276.7,313.5 1278.8,314.1 1281.0,314.6 1283.2,313.7 1285.2,312.5 1287.1,314.1 1289.5,314.6 1291.6,317.6 1293.2,321.0 1294.3,317.7 1295.9,314.6 1297.2,309.3 1298.5,303.9 1300.3,306.4 1301.2,309.3 1303.0,312.2 1305.5,314.6 1307.6,313.5 1309.7,312.5 1311.7,309.2 1314.0,306.1 1315.6,302.6 1317.2,299.1 1318.4,303.3 1320.4,307.1 1321.7,309.0 1323.5,310.3 1325.4,311.7 1326.7,313.5 1328.8,314.6 1329.9,316.7 1331.4,319.4 1333.1,322.0 1335.3,324.4 1336.3,327.4 1338.3,327.9 1339.5,329.5 1341.3,330.3 1342.7,331.6 1344.4,329.6 1345.9,327.4 1348.1,323.3 1349.1,318.8 1351.4,315.7 1353.4,312.5 1354.6,310.1 1356.5,308.2 1358.2,304.5 1359.7,300.7 1362.0,299.8 1364.0,298.6 1365.6,300.7 1367.2,302.9 1368.7,303.7 1370.4,303.9 1372.5,302.3 1374.6,300.7 1377.0,302.1 1378.9,303.9 1380.9,302.5 1383.2,301.8 1385.1,303.6 1387.4,305.0 1389.2,302.5 1391.7,300.7 1393.1,303.5 1394.9,306.1 1396.8,305.5 1398.1,303.9 1400.1,305.4 1401.8,307.1 1402.5,310.5 1404.3,313.5 1406.8,311.8 1408.5,309.3 1410.8,309.2 1412.8,308.2 1414.9,308.4 1417.0,308.2 1418.9,306.2 1421.3,305.0 1423.4,304.4 1425.5,303.9 1427.9,303.3 1429.8,301.8 1431.6,299.3 1433.0,296.5 1434.5,293.1 1435.7,289.6 1436.9,287.8 1437.8,285.8 1438.3,288.5 1439.9,290.6 1441.4,292.4 1442.6,294.4 1444.5,291.1 1445.2,287.4 1446.6,291.6 1447.4,296.0 1449.2,294.6 1450.6,292.8 1452.1,294.9 1454.3,296.5 1456.0,296.6 1457.5,297.5 1459.7,297.7 1461.7,298.6 1463.8,299.8 1466.0,300.7 1468.1,298.4 1469.2,295.4 1470.8,295.0 1472.4,294.4 1473.7,298.2 1475.6,301.8 1476.8,299.4 1478.8,297.5 1480.3,296.9 1482.0,297.0 1483.9,295.1 1485.2,292.8 1487.0,294.9 1487.8,297.5 1489.0,301.3 1490.5,305.0 1492.4,303.7 1493.7,301.8 1496.1,303.6 1497.9,306.1 1499.6,304.5 1501.1,302.9 1502.6,300.2 1504.3,297.5 1506.0,300.2 1507.5,302.9 1509.7,305.8 1510.7,309.3 1513.0,308.4 1515.0,307.1 1517.2,308.0 1519.2,309.3 1521.3,310.0 1523.5,310.3 1525.5,307.3 1526.7,303.9 1527.3,301.6 1528.8,299.7 1529.3,303.1 1530.9,306.1 1532.1,304.4 1534.1,303.9 1535.6,302.4 1537.3,301.3 1538.4,303.7 1539.5,306.1 1541.4,308.5 1542.6,311.4 1544.0,307.6 1545.8,303.9 1547.5,304.4 1549.0,305.0 1551.1,305.9 1553.3,306.1 1555.7,307.3 1557.5,309.3 1559.6,307.1 1561.8,305.0 1563.5,302.9 1565.0,300.7 1566.5,300.8 1567.3,299.7" fill="none" stroke="#5f80e6" stroke-width="1.35" stroke-linejoin="round" stroke-dasharray="5.5 3.5"/>
<polyline points="1233.6,305.0 1235.6,305.0 1237.3,303.9 1239.4,305.6 1241.6,307.1 1244.0,307.6 1245.8,309.3 1247.5,311.8 1250.1,313.5 1252.1,312.4 1254.4,312.5 1256.4,313.7 1258.6,314.6 1260.7,314.7 1262.9,314.6 1265.1,315.4 1267.1,316.7 1268.8,319.3 1271.4,321.0 1273.6,321.8 1275.6,323.1 1277.7,321.9 1279.9,321.0 1282.6,318.2 1284.2,314.6 1286.4,314.4 1288.4,313.5 1290.6,314.5 1292.7,315.6 1295.0,315.0 1296.9,313.5 1298.3,315.8 1300.1,317.8 1301.7,318.8 1303.3,319.9 1305.4,318.8 1306.5,316.7 1307.8,312.3 1309.7,308.2 1311.3,305.5 1312.9,302.9 1314.1,299.9 1316.1,297.5 1317.7,297.0 1319.3,296.5 1320.8,298.7 1322.5,300.7 1323.6,303.2 1325.7,305.0 1327.4,307.1 1328.9,309.3 1331.3,311.7 1333.1,314.6 1335.7,316.8 1337.4,319.9 1339.4,322.6 1341.6,325.2 1343.2,325.2 1344.8,325.2 1347.0,323.5 1348.0,321.0 1350.4,317.9 1352.3,314.6 1354.5,313.6 1356.5,312.5 1358.7,312.8 1360.8,313.0 1363.0,312.2 1365.1,311.4 1367.2,308.7 1369.3,306.1 1371.3,302.8 1373.6,299.7 1375.7,299.8 1377.8,299.7 1379.9,300.5 1382.1,300.7 1384.2,300.5 1386.4,300.7 1388.3,302.1 1390.6,302.9 1393.0,304.1 1394.9,306.1 1397.3,306.6 1399.1,308.2 1400.4,308.9 1401.8,308.7 1403.1,307.4 1404.3,306.1 1406.4,305.5 1408.5,305.0 1410.7,305.9 1412.8,307.1 1414.9,308.3 1417.0,309.3 1419.4,308.0 1421.3,306.1 1423.3,307.0 1425.5,307.1 1427.3,303.7 1429.8,300.7 1432.0,301.0 1434.1,300.2 1436.2,299.4 1438.3,298.6 1440.5,298.4 1442.6,297.5 1444.3,301.5 1446.8,305.0 1449.3,303.2 1451.1,300.7 1452.2,302.8 1454.3,303.9 1456.3,301.9 1458.0,299.7 1459.9,299.6 1461.7,299.1 1463.7,300.8 1466.0,301.8 1468.1,303.5 1470.3,305.0 1472.2,306.4 1474.5,306.6 1476.6,305.7 1478.8,305.0 1480.7,303.8 1483.0,303.9 1484.6,303.2 1486.2,302.9 1488.3,301.1 1489.4,298.6 1491.3,301.0 1493.7,302.9 1496.1,305.3 1497.9,308.2 1500.2,305.6 1502.2,302.9 1503.6,300.6 1505.4,298.6 1507.3,301.4 1509.6,303.9 1511.6,305.8 1512.8,308.2 1515.4,305.9 1517.1,302.9 1519.4,305.9 1521.4,309.3 1523.4,308.6 1525.6,308.2 1527.6,305.8 1528.8,302.9 1530.5,302.6 1532.0,301.8 1533.5,300.9 1535.2,300.7 1536.7,301.6 1538.4,301.8 1540.1,301.9 1541.6,302.9 1543.5,298.2 1544.8,293.3 1546.5,295.4 1549.0,296.5 1551.0,297.0 1552.2,298.6 1554.5,297.9 1556.5,296.5 1558.8,296.4 1560.7,297.5 1562.8,296.8 1565.0,296.5 1566.7,295.3 1567.3,293.3" fill="none" stroke="#f98db0" stroke-width="1.35" stroke-linejoin="round" stroke-dasharray="5.5 3.5"/>
<polyline points="1233.6,307.7 1234.9,308.2 1236.3,308.2 1237.4,309.3 1238.9,309.3 1240.0,310.8 1241.6,311.9 1242.7,310.4 1244.2,309.3 1245.8,310.0 1246.9,311.4 1248.3,312.1 1249.6,313.0 1250.9,312.6 1252.2,312.5 1253.5,315.7 1254.9,318.8 1256.7,320.0 1257.5,322.0 1259.1,321.5 1260.2,320.4 1260.6,316.3 1262.3,312.5 1263.3,310.5 1264.5,308.7 1265.9,308.0 1267.1,307.1 1268.6,308.0 1269.8,309.3 1271.2,309.6 1272.5,310.3 1273.5,312.4 1275.1,314.0 1276.4,314.4 1277.8,314.6 1278.9,313.4 1280.4,313.0 1281.3,315.5 1282.6,317.8 1284.1,315.9 1284.7,313.5 1285.8,314.7 1287.4,315.1 1288.6,314.6 1290.0,314.6 1290.9,312.8 1292.7,311.9 1293.6,309.5 1295.3,307.7 1296.5,306.7 1298.0,306.1 1299.3,308.5 1300.7,310.9 1302.2,311.3 1303.3,312.5 1304.3,314.3 1306.0,315.6 1307.4,314.7 1308.6,313.5 1310.4,313.0 1311.3,311.4 1312.2,308.5 1314.0,306.1 1315.3,305.3 1316.1,303.9 1317.6,305.8 1318.2,308.2 1319.9,310.6 1320.4,313.5 1321.5,313.9 1322.5,314.6 1323.6,313.5 1324.6,312.5 1325.5,314.4 1327.3,315.6 1328.3,317.5 1329.9,318.8 1331.0,320.4 1332.1,322.0 1332.5,326.2 1334.2,330.0 1335.4,331.5 1336.3,333.2 1337.0,334.5 1338.5,334.8 1339.7,336.8 1340.0,339.1 1341.3,337.9 1342.7,336.9 1343.7,335.4 1345.4,334.8 1346.1,331.6 1347.0,328.4 1347.6,324.1 1348.6,319.9 1349.2,317.1 1350.7,314.6 1351.7,312.7 1353.4,311.4 1354.9,311.4 1356.0,310.3 1356.9,307.1 1358.1,303.9 1358.9,301.6 1360.3,299.7 1361.5,300.3 1362.9,300.2 1363.7,302.8 1365.1,305.0 1366.2,306.0 1367.2,307.1 1368.7,306.0 1369.9,304.5 1371.6,303.5 1372.5,301.8 1373.7,300.8 1375.2,300.7 1376.5,302.3 1377.8,303.9 1378.6,306.0 1380.5,307.1 1381.9,307.4 1383.2,308.2 1384.6,308.0 1385.8,308.7 1387.3,308.2 1388.5,307.1 1389.6,306.2 1391.1,306.1 1392.0,308.8 1393.3,311.4 1394.1,314.7 1395.4,317.8 1396.4,318.7 1397.0,319.9 1398.1,316.7 1399.1,313.5 1400.5,312.6 1401.8,311.4 1402.3,313.0 1402.7,314.6 1404.1,314.7 1405.3,315.6 1406.6,313.7 1408.0,311.9 1409.4,311.0 1410.6,309.8 1412.2,309.8 1413.3,308.7 1414.8,309.4 1415.4,310.9 1416.7,309.0 1418.1,307.1 1419.2,305.4 1420.8,303.9 1422.4,303.7 1423.4,302.3 1424.7,302.8 1426.1,302.9 1427.5,302.7 1428.7,303.4 1429.6,300.5 1431.4,298.1 1432.9,296.1 1434.1,293.8 1435.5,294.1 1436.7,294.9 1438.1,295.2 1439.4,296.0 1440.8,295.7 1442.0,294.9 1443.5,295.1 1444.7,294.4 1446.5,294.9 1447.4,296.5 1448.7,295.2 1450.0,293.8 1451.1,292.6 1452.7,292.8 1453.5,294.8 1455.4,296.0 1456.7,296.7 1458.0,297.5 1459.4,297.5 1460.7,297.0 1461.8,298.5 1463.3,299.7 1464.2,301.9 1466.0,303.4 1467.2,302.6 1468.7,302.3 1470.1,301.7 1470.8,300.2 1472.5,301.2 1473.5,302.9 1475.0,300.9 1476.1,298.6 1477.9,300.5 1478.8,302.9 1479.9,303.8 1481.4,303.9 1483.1,304.6 1484.1,306.1 1485.8,307.7 1486.8,309.8 1488.1,309.8 1489.4,310.3 1490.6,308.9 1492.1,307.7 1493.4,305.8 1494.7,303.9 1496.3,304.7 1497.4,306.1 1498.7,306.7 1500.1,306.6 1501.3,305.7 1502.7,305.0 1503.7,306.6 1505.4,307.1 1507.0,306.1 1508.0,304.5 1509.7,306.4 1510.7,308.7 1512.2,310.2 1513.4,311.9 1515.5,312.5 1516.8,314.5 1517.6,316.7 1518.4,318.8 1519.8,320.4 1521.3,320.8 1522.4,322.0 1523.2,319.6 1525.1,317.8 1525.9,314.5 1527.2,311.4 1528.5,311.9 1529.9,312.5 1531.7,310.9 1532.5,308.7 1533.8,313.7 1534.7,318.8 1535.5,321.1 1536.8,323.1 1538.4,321.5 1538.9,319.4 1539.7,321.0 1541.0,322.0 1542.6,319.6 1543.2,316.7 1544.0,314.5 1545.3,312.5 1546.7,311.8 1548.0,310.9 1549.3,312.5 1550.6,314.0 1551.5,316.5 1553.3,318.3 1554.7,318.1 1556.0,318.8 1557.1,320.0 1558.6,320.4 1559.8,319.5 1561.3,318.8 1562.1,316.1 1563.4,313.5 1564.2,311.3 1565.5,309.3 1567.3,309.8" fill="none" stroke="#0f3cd4" stroke-width="1.8" stroke-linejoin="round"/>
<polyline points="1233.6,303.9 1234.6,302.6 1236.3,302.3 1237.6,302.1 1238.9,301.8 1240.2,304.0 1241.6,306.1 1242.5,308.5 1244.2,310.3 1245.8,311.5 1246.9,313.0 1248.3,313.7 1249.6,314.6 1250.8,313.7 1252.2,314.0 1253.0,311.1 1254.9,308.7 1256.5,308.0 1257.5,306.6 1258.7,307.6 1260.2,307.7 1261.9,309.5 1262.3,311.9 1263.4,313.8 1265.0,315.1 1266.0,316.6 1267.7,317.2 1269.4,318.1 1270.3,319.9 1271.2,322.3 1273.0,324.2 1274.0,322.7 1275.6,322.0 1277.1,320.5 1278.3,318.8 1279.9,315.2 1281.0,311.4 1282.5,309.4 1283.6,307.1 1285.1,308.1 1286.3,309.3 1288.0,310.9 1289.0,313.0 1290.5,312.2 1291.6,310.9 1293.0,310.6 1294.3,309.8 1296.0,309.6 1296.9,308.2 1298.0,310.5 1299.6,312.5 1301.0,313.4 1302.3,314.6 1303.3,314.1 1304.4,313.5 1305.9,309.9 1306.5,306.1 1307.8,303.5 1308.6,300.7 1309.4,298.5 1311.3,297.0 1313.0,296.1 1314.0,294.4 1315.2,293.7 1316.1,292.8 1317.0,294.0 1318.2,294.9 1319.6,294.1 1320.4,292.8 1321.2,291.7 1322.5,291.7 1323.9,292.4 1324.6,293.8 1325.4,296.1 1326.7,298.1 1328.6,299.2 1329.4,301.3 1330.7,302.6 1332.1,303.9 1333.0,307.1 1334.7,309.8 1335.9,313.3 1337.4,316.7 1338.5,320.0 1340.0,323.1 1341.6,325.3 1342.7,327.9 1344.8,328.4 1346.1,327.2 1347.0,325.8 1347.4,322.6 1349.1,319.9 1350.4,317.2 1351.8,314.6 1352.9,311.8 1354.4,309.3 1356.2,307.4 1357.1,305.0 1358.3,304.1 1359.7,303.4 1361.1,304.2 1362.4,305.0 1363.3,307.0 1365.1,308.2 1366.4,308.2 1367.2,309.3 1367.8,306.4 1369.3,303.9 1370.2,300.1 1371.5,296.5 1373.1,294.6 1373.6,292.2 1375.7,291.7 1376.7,293.1 1377.8,294.4 1379.1,295.7 1380.5,297.0 1382.1,296.9 1383.2,298.1 1384.4,298.7 1385.8,298.6 1387.3,299.8 1388.5,301.3 1390.2,302.6 1391.1,304.5 1392.2,305.8 1393.8,306.6 1395.4,306.3 1396.5,305.0 1397.3,303.0 1399.1,301.8 1400.4,300.9 1401.8,300.2 1403.2,300.2 1404.6,301.5 1406.4,302.3 1408.1,300.9 1409.6,299.1 1411.1,298.2 1412.8,298.1 1414.3,299.1 1416.0,299.7 1417.6,300.8 1419.2,301.8 1420.7,300.9 1422.4,300.2 1423.8,299.1 1425.5,298.6 1426.5,296.0 1428.2,293.8 1429.2,295.3 1430.9,296.0 1432.3,296.9 1433.5,298.1 1434.6,296.5 1436.2,295.4 1437.6,294.7 1438.9,293.8 1440.4,293.4 1441.5,292.2 1442.9,292.6 1444.2,293.3 1445.3,294.5 1446.8,294.9 1448.2,294.2 1449.5,293.3 1450.9,293.5 1452.2,292.8 1453.4,294.0 1454.8,294.9 1456.2,294.5 1457.5,293.8 1458.6,294.9 1460.1,294.9 1461.5,294.7 1462.8,294.4 1464.2,294.3 1465.5,294.9 1466.6,293.9 1468.1,293.8 1469.9,293.3 1470.8,291.7 1472.0,291.0 1473.5,291.2 1474.6,292.2 1476.1,292.8 1477.7,294.5 1478.8,296.5 1480.3,295.7 1481.4,294.4 1482.5,291.6 1484.1,289.0 1486.0,287.9 1486.8,285.8 1488.1,286.3 1489.4,285.8 1490.3,287.6 1492.1,288.5 1493.3,289.2 1494.7,289.0 1496.1,289.0 1497.4,289.0 1498.4,290.5 1500.1,291.2 1501.2,292.2 1502.7,292.2 1504.1,293.0 1505.4,293.8 1506.1,291.3 1508.0,289.6 1509.5,289.3 1510.2,288.0 1511.3,289.8 1512.8,291.2 1514.0,292.2 1515.5,292.8 1517.0,291.6 1518.2,290.1 1519.7,290.9 1520.8,292.2 1522.5,293.2 1523.5,294.9 1524.9,295.6 1526.1,296.5 1527.8,296.8 1528.8,298.1 1530.4,297.3 1531.5,296.0 1532.3,293.7 1534.1,292.2 1534.7,290.5 1536.3,289.6 1537.2,291.5 1538.9,292.8 1539.6,294.4 1541.0,295.4 1542.1,292.9 1543.7,290.6 1545.4,289.7 1546.4,288.0 1547.7,288.3 1549.0,288.5 1550.3,287.8 1551.7,288.0 1552.8,289.1 1554.4,289.6 1555.7,290.3 1557.0,291.2 1558.4,290.8 1559.7,290.1 1560.9,289.3 1562.3,289.6 1563.8,290.1 1565.0,291.2 1566.2,291.8 1567.3,291.2" fill="none" stroke="#ff1266" stroke-width="1.8" stroke-linejoin="round"/>
<rect x="1429.5" y="248.2" width="114.5" height="134.6" fill="#bad7a6" fill-opacity="0.35"/>
<path d="M1233.6 243.1 V383.1 H1567.3" fill="none" stroke="#8a8a8a" stroke-width="1.6"/>
<path d="M1233.6 382.8 v-2.8 M1289.2 382.8 v-2.8 M1344.8 382.8 v-2.8 M1400.4 382.8 v-2.8 M1456.1 382.8 v-2.8 M1511.7 382.8 v-2.8 M1567.3 382.8 v-2.8 M1233.6 243.1 h3 M1233.6 278.0 h3 M1233.6 312.9 h3 M1233.6 347.9 h3 M1233.6 382.8 h3" stroke="#7a7a7a" stroke-width="1.1" fill="none"/>
<g font-size="11" fill="#3c3c3c" text-anchor="middle">
<text x="1233.6" y="398.3">-200</text>
<text x="1289.2" y="398.3">0</text>
<text x="1344.8" y="398.3">200</text>
<text x="1400.4" y="398.3">400</text>
<text x="1456.1" y="398.3">600</text>
<text x="1511.7" y="398.3">800</text>
<text x="1567.3" y="398.3">1000</text>
</g>
<g font-size="11" fill="#3c3c3c" text-anchor="end">
<text x="1228.1" y="247.1">1</text>
<text x="1228.1" y="282.0">0.5</text>
<text x="1228.1" y="316.9">0</text>
<text x="1228.1" y="351.9">-0.5</text>
<text x="1228.1" y="386.8">-1</text>
</g>
<text x="1400.4" y="414.4" font-size="12" fill="#3c3c3c" text-anchor="middle">Time (ms)</text>
<text transform="translate(1202.7,312.9) rotate(-90)" font-size="12" fill="#3c3c3c" text-anchor="middle">Potential (<tspan font-style="italic" font-size="11">μ</tspan>V)</text>
<g>
<path d="M217.9 53.3 L223.0 47.1 L228.3 53.3" fill="#fff" stroke="#0c0c0c" stroke-width="1.9" stroke-linejoin="round"/>
<rect x="192.3" y="73.4" width="2.6" height="14.4" rx="1.2" fill="#999" stroke="#0a0a0a" stroke-width="2"/>
<rect x="251.5" y="73.4" width="2.6" height="14.4" rx="1.2" fill="#999" stroke="#0a0a0a" stroke-width="2"/>
<clipPath id="tc1"><circle cx="223.2" cy="80.3" r="27.9"/></clipPath>
<g clip-path="url(#tc1)"><g filter="url(#tbl)">
<rect x="187.3" y="44.4" width="71.8" height="71.8" fill="#24c2f6"/>
<radialGradient id="bg1_0"><stop offset="0" stop-color="#16a0ff"/><stop offset="0.45" stop-color="#16a0ff" stop-opacity="0.8"/><stop offset="1" stop-color="#16a0ff" stop-opacity="0"/></radialGradient>
<circle cx="223.5" cy="111.7" r="29.6" fill="url(#bg1_0)"/>
<path d="M190.4 69.6 C191.3 71.2 193.4 76.1 196.2 79.4 C199.0 82.8 202.8 87.7 207.4 89.7 C212.0 91.7 218.9 90.8 223.5 91.5 C228.2 92.2 232.0 94.3 235.2 93.8 C238.3 93.2 239.8 91.4 242.3 88.4 C244.9 85.4 248.0 79.0 250.4 75.8 C252.8 72.7 255.6 70.6 256.7 69.6 L265.6 13.1 L176.0 13.1 Z" fill="#2ee8e2"/>
<ellipse cx="221.3" cy="69.6" rx="23.5" ry="20.2" transform="rotate(10 221.3 69.6)" fill="#56f2b2"/>
<ellipse cx="221.3" cy="68.8" rx="20.8" ry="17.7" transform="rotate(10 221.3 68.8)" fill="#98f468"/>
<ellipse cx="221.3" cy="68.3" rx="18.4" ry="15.6" transform="rotate(10 221.3 68.3)" fill="#d2f436"/>
<ellipse cx="221.3" cy="67.9" rx="16.3" ry="13.7" transform="rotate(10 221.3 67.9)" fill="#ffec00"/>
<ellipse cx="221.3" cy="67.5" rx="13.9" ry="11.8" transform="rotate(10 221.3 67.5)" fill="#ffa600"/>
<ellipse cx="221.3" cy="67.3" rx="11.5" ry="10.0" transform="rotate(10 221.3 67.3)" fill="#ff5200"/>
<ellipse cx="221.3" cy="67.3" rx="9.0" ry="8.2" transform="rotate(10 221.3 67.3)" fill="#ea1200"/>
<ellipse cx="221.3" cy="67.1" rx="4.7" ry="4.3" transform="rotate(0 221.3 67.1)" fill="#9c0000"/>
</g>
<path d="M190.4 69.6 C191.3 71.2 193.4 76.1 196.2 79.4 C199.0 82.8 202.8 87.7 207.4 89.7 C212.0 91.7 218.9 90.8 223.5 91.5 C228.2 92.2 232.0 94.3 235.2 93.8 C238.3 93.2 239.8 91.4 242.3 88.4 C244.9 85.4 248.0 79.0 250.4 75.8 C252.8 72.7 255.6 70.6 256.7 69.6" fill="none" stroke="#000" stroke-opacity="0.55" stroke-width="0.55"/>
<ellipse cx="221.3" cy="69.6" rx="23.5" ry="20.2" transform="rotate(10 221.3 69.6)" fill="none" stroke="#000" stroke-opacity="0.5" stroke-width="0.55"/>
<ellipse cx="221.3" cy="68.8" rx="20.8" ry="17.7" transform="rotate(10 221.3 68.8)" fill="none" stroke="#000" stroke-opacity="0.5" stroke-width="0.55"/>
<ellipse cx="221.3" cy="68.3" rx="18.4" ry="15.6" transform="rotate(10 221.3 68.3)" fill="none" stroke="#000" stroke-opacity="0.5" stroke-width="0.55"/>
<ellipse cx="221.3" cy="67.9" rx="16.3" ry="13.7" transform="rotate(10 221.3 67.9)" fill="none" stroke="#000" stroke-opacity="0.5" stroke-width="0.55"/>
<ellipse cx="221.3" cy="67.5" rx="13.9" ry="11.8" transform="rotate(10 221.3 67.5)" fill="none" stroke="#000" stroke-opacity="0.5" stroke-width="0.55"/>
<ellipse cx="221.3" cy="67.3" rx="11.5" ry="10.0" transform="rotate(10 221.3 67.3)" fill="none" stroke="#000" stroke-opacity="0.5" stroke-width="0.55"/>
<ellipse cx="221.3" cy="67.3" rx="9.0" ry="8.2" transform="rotate(10 221.3 67.3)" fill="none" stroke="#000" stroke-opacity="0.5" stroke-width="0.55"/>
</g>
<circle cx="223.2" cy="80.3" r="27.9" fill="none" stroke="#111" stroke-width="1.2"/>
</g>
<g>
<path d="M218.4 231.6 L223.6 225.4 L228.8 231.6" fill="#fff" stroke="#0c0c0c" stroke-width="1.9" stroke-linejoin="round"/>
<rect x="192.8" y="251.7" width="2.6" height="14.4" rx="1.2" fill="#999" stroke="#0a0a0a" stroke-width="2"/>
<rect x="252.1" y="251.7" width="2.6" height="14.4" rx="1.2" fill="#999" stroke="#0a0a0a" stroke-width="2"/>
<clipPath id="tc2"><circle cx="223.8" cy="258.6" r="27.9"/></clipPath>
<g clip-path="url(#tc2)"><g filter="url(#tbl)">
<rect x="187.8" y="222.7" width="71.8" height="71.8" fill="#2ce6f2"/>
<radialGradient id="bg2_0"><stop offset="0" stop-color="#1cacfa"/><stop offset="0.45" stop-color="#1cacfa" stop-opacity="0.8"/><stop offset="1" stop-color="#1cacfa" stop-opacity="0"/></radialGradient>
<circle cx="217.3" cy="293.1" r="29.6" fill="url(#bg2_0)"/>
<path d="M190.4 262.6 C191.6 262.9 194.7 263.7 197.5 264.4 C200.4 265.1 204.0 265.9 207.4 266.7 C210.8 267.4 214.7 268.7 218.1 269.1 C221.6 269.4 225.2 269.9 228.0 268.9 C230.8 267.9 232.8 265.5 235.2 263.1 C237.6 260.7 240.2 257.3 242.3 254.6 C244.4 251.8 246.2 249.2 247.7 246.5 C249.2 243.8 250.7 239.8 251.3 238.4 L265.6 198.1 L176.0 198.1 Z" fill="#44f0c8"/>
<path d="M233.4 293.1 C233.7 291.3 234.6 285.9 235.2 282.3 C235.8 278.8 235.6 274.7 237.0 271.6 C238.3 268.4 241.0 265.9 243.2 263.5 C245.5 261.1 247.9 259.2 250.4 257.3 C252.9 255.3 257.1 252.8 258.5 251.9 L265.6 305.6 Z" fill="#1a8cf8"/>
<path d="M242.3 293.1 C242.6 291.0 243.2 284.1 244.1 280.5 C245.0 277.0 246.2 274.1 247.7 271.6 C249.2 269.0 251.1 267.1 253.1 265.3 C255.0 263.5 258.3 261.6 259.4 260.8 L265.6 305.6 Z" fill="#0c54ee"/>
<ellipse cx="225.8" cy="246.9" rx="28.2" ry="19.3" transform="rotate(-22 225.8 246.9)" fill="#56f2b2"/>
<ellipse cx="226.0" cy="246.5" rx="25.5" ry="16.6" transform="rotate(-22 226.0 246.5)" fill="#98f468"/>
<ellipse cx="226.4" cy="246.1" rx="22.8" ry="14.3" transform="rotate(-22 226.4 246.1)" fill="#d2f436"/>
<ellipse cx="226.7" cy="245.8" rx="20.2" ry="12.4" transform="rotate(-22 226.7 245.8)" fill="#ffec00"/>
<ellipse cx="226.9" cy="245.5" rx="17.5" ry="10.5" transform="rotate(-22 226.9 245.5)" fill="#ffa600"/>
<ellipse cx="227.1" cy="245.3" rx="14.8" ry="8.7" transform="rotate(-20 227.1 245.3)" fill="#ff5200"/>
<ellipse cx="227.3" cy="245.2" rx="12.1" ry="7.2" transform="rotate(-18 227.3 245.2)" fill="#ea1200"/>
<ellipse cx="227.8" cy="245.2" rx="7.9" ry="4.8" transform="rotate(-12 227.8 245.2)" fill="#9c0000"/>
</g>
<path d="M190.4 262.6 C191.6 262.9 194.7 263.7 197.5 264.4 C200.4 265.1 204.0 265.9 207.4 266.7 C210.8 267.4 214.7 268.7 218.1 269.1 C221.6 269.4 225.2 269.9 228.0 268.9 C230.8 267.9 232.8 265.5 235.2 263.1 C237.6 260.7 240.2 257.3 242.3 254.6 C244.4 251.8 246.2 249.2 247.7 246.5 C249.2 243.8 250.7 239.8 251.3 238.4" fill="none" stroke="#000" stroke-opacity="0.55" stroke-width="0.55"/>
<path d="M233.4 293.1 C233.7 291.3 234.6 285.9 235.2 282.3 C235.8 278.8 235.6 274.7 237.0 271.6 C238.3 268.4 241.0 265.9 243.2 263.5 C245.5 261.1 247.9 259.2 250.4 257.3 C252.9 255.3 257.1 252.8 258.5 251.9" fill="none" stroke="#000" stroke-opacity="0.55" stroke-width="0.55"/>
<path d="M242.3 293.1 C242.6 291.0 243.2 284.1 244.1 280.5 C245.0 277.0 246.2 274.1 247.7 271.6 C249.2 269.0 251.1 267.1 253.1 265.3 C255.0 263.5 258.3 261.6 259.4 260.8" fill="none" stroke="#000" stroke-opacity="0.55" stroke-width="0.55"/>
<ellipse cx="225.8" cy="246.9" rx="28.2" ry="19.3" transform="rotate(-22 225.8 246.9)" fill="none" stroke="#000" stroke-opacity="0.5" stroke-width="0.55"/>
<ellipse cx="226.0" cy="246.5" rx="25.5" ry="16.6" transform="rotate(-22 226.0 246.5)" fill="none" stroke="#000" stroke-opacity="0.5" stroke-width="0.55"/>
<ellipse cx="226.4" cy="246.1" rx="22.8" ry="14.3" transform="rotate(-22 226.4 246.1)" fill="none" stroke="#000" stroke-opacity="0.5" stroke-width="0.55"/>
<ellipse cx="226.7" cy="245.8" rx="20.2" ry="12.4" transform="rotate(-22 226.7 245.8)" fill="none" stroke="#000" stroke-opacity="0.5" stroke-width="0.55"/>
<ellipse cx="226.9" cy="245.5" rx="17.5" ry="10.5" transform="rotate(-22 226.9 245.5)" fill="none" stroke="#000" stroke-opacity="0.5" stroke-width="0.55"/>
<ellipse cx="227.1" cy="245.3" rx="14.8" ry="8.7" transform="rotate(-20 227.1 245.3)" fill="none" stroke="#000" stroke-opacity="0.5" stroke-width="0.55"/>
<ellipse cx="227.3" cy="245.2" rx="12.1" ry="7.2" transform="rotate(-18 227.3 245.2)" fill="none" stroke="#000" stroke-opacity="0.5" stroke-width="0.55"/>
</g>
<circle cx="223.8" cy="258.6" r="27.9" fill="none" stroke="#111" stroke-width="1.2"/>
</g>
<g>
<path d="M745.7 54.3 L750.8 48.1 L756.1 54.3" fill="#fff" stroke="#0c0c0c" stroke-width="1.9" stroke-linejoin="round"/>
<rect x="720.2" y="74.3" width="2.6" height="14.4" rx="1.2" fill="#999" stroke="#0a0a0a" stroke-width="2"/>
<rect x="779.2" y="74.3" width="2.6" height="14.4" rx="1.2" fill="#999" stroke="#0a0a0a" stroke-width="2"/>
<clipPath id="tc3"><circle cx="751.0" cy="81.2" r="27.8"/></clipPath>
<g clip-path="url(#tc3)"><g filter="url(#tbl)">
<rect x="715.2" y="45.4" width="71.6" height="71.6" fill="#1888fa"/>
<radialGradient id="bg3_0"><stop offset="0" stop-color="#0c60f2"/><stop offset="0.45" stop-color="#0c60f2" stop-opacity="0.8"/><stop offset="1" stop-color="#0c60f2" stop-opacity="0"/></radialGradient>
<circle cx="758.4" cy="102.7" r="17.9" fill="url(#bg3_0)"/>
<path d="M781.7 93.8 C780.5 93.3 777.2 92.3 774.5 91.1 C771.8 89.9 769.1 86.4 765.5 86.6 C762.0 86.7 756.6 90.2 753.0 92.0 C749.4 93.8 746.7 95.5 744.0 97.3 C741.4 99.1 739.0 100.6 736.9 102.7 C734.8 104.8 732.4 108.7 731.5 109.9 L692.1 109.9 L692.1 22.1 L790.6 22.1 Z" fill="#2ee8e2"/>
<path d="M783.5 77.6 C782.6 77.3 781.2 76.4 778.1 75.8 C774.9 75.2 768.8 72.8 764.6 74.0 C760.5 75.2 757.3 80.3 753.0 83.0 C748.7 85.7 742.3 87.6 738.7 90.2 C735.0 92.7 733.3 95.8 731.1 98.2 C728.8 100.6 726.2 103.5 725.2 104.5 L692.1 109.9 L692.1 22.1 L790.6 22.1 Z" fill="#98f468"/>
<path d="M774.5 52.5 C773.3 53.7 770.3 56.3 767.3 59.3 C764.3 62.2 761.1 66.5 756.6 70.5 C752.1 74.4 745.5 79.6 740.5 83.0 C735.5 86.4 730.2 89.0 726.6 91.1 C723.0 93.2 720.2 94.8 719.0 95.5 L692.1 95.5 L692.1 22.1 L774.5 22.1 Z" fill="#ffec00"/>
<path d="M754.8 47.2 C754.3 48.3 752.7 51.2 752.1 53.9 C751.5 56.6 752.3 60.1 751.2 63.3 C750.2 66.5 748.5 70.2 745.8 73.1 C743.1 76.1 738.5 79.1 735.1 81.2 C731.6 83.3 728.1 84.5 725.2 85.7 C722.4 86.9 719.3 87.9 718.1 88.4 L692.1 88.4 L692.1 22.1 L754.8 22.1 Z" fill="#ffa600"/>
<path d="M739.6 49.0 C739.6 50.3 739.7 54.0 740.0 57.0 C740.3 60.0 741.9 63.7 741.4 66.9 C740.8 70.0 739.6 73.4 736.9 75.8 C734.1 78.2 728.1 80.0 724.8 81.2 C721.5 82.4 718.4 82.7 717.2 83.0 L692.1 83.0 L692.1 22.1 L739.6 22.1 Z" fill="#ff5200"/>
<path d="M732.4 52.5 C732.8 53.9 734.0 57.8 734.6 60.6 C735.2 63.4 736.7 67.0 736.0 69.6 C735.3 72.1 732.5 74.4 730.6 75.8 C728.7 77.3 726.6 77.5 724.3 78.1 C722.1 78.7 718.4 79.2 717.2 79.4 L692.1 79.4 L692.1 22.1 L732.4 22.1 Z" fill="#ea1200"/>
<path d="M727.9 56.1 C728.4 57.3 730.0 61.1 730.6 63.3 C731.2 65.5 731.9 67.8 731.5 69.6 C731.1 71.4 729.3 73.1 727.9 74.0 C726.6 75.0 725.2 75.1 723.4 75.4 C721.6 75.7 718.2 75.8 717.2 75.8 L692.1 75.8 L692.1 22.1 L727.9 22.1 Z" fill="#9c0000"/>
</g>
<path d="M781.7 93.8 C780.5 93.3 777.2 92.3 774.5 91.1 C771.8 89.9 769.1 86.4 765.5 86.6 C762.0 86.7 756.6 90.2 753.0 92.0 C749.4 93.8 746.7 95.5 744.0 97.3 C741.4 99.1 739.0 100.6 736.9 102.7 C734.8 104.8 732.4 108.7 731.5 109.9" fill="none" stroke="#000" stroke-opacity="0.55" stroke-width="0.55"/>
<path d="M783.5 77.6 C782.6 77.3 781.2 76.4 778.1 75.8 C774.9 75.2 768.8 72.8 764.6 74.0 C760.5 75.2 757.3 80.3 753.0 83.0 C748.7 85.7 742.3 87.6 738.7 90.2 C735.0 92.7 733.3 95.8 731.1 98.2 C728.8 100.6 726.2 103.5 725.2 104.5" fill="none" stroke="#000" stroke-opacity="0.55" stroke-width="0.55"/>
<path d="M774.5 52.5 C773.3 53.7 770.3 56.3 767.3 59.3 C764.3 62.2 761.1 66.5 756.6 70.5 C752.1 74.4 745.5 79.6 740.5 83.0 C735.5 86.4 730.2 89.0 726.6 91.1 C723.0 93.2 720.2 94.8 719.0 95.5" fill="none" stroke="#000" stroke-opacity="0.55" stroke-width="0.55"/>
<path d="M754.8 47.2 C754.3 48.3 752.7 51.2 752.1 53.9 C751.5 56.6 752.3 60.1 751.2 63.3 C750.2 66.5 748.5 70.2 745.8 73.1 C743.1 76.1 738.5 79.1 735.1 81.2 C731.6 83.3 728.1 84.5 725.2 85.7 C722.4 86.9 719.3 87.9 718.1 88.4" fill="none" stroke="#000" stroke-opacity="0.55" stroke-width="0.55"/>
<path d="M739.6 49.0 C739.6 50.3 739.7 54.0 740.0 57.0 C740.3 60.0 741.9 63.7 741.4 66.9 C740.8 70.0 739.6 73.4 736.9 75.8 C734.1 78.2 728.1 80.0 724.8 81.2 C721.5 82.4 718.4 82.7 717.2 83.0" fill="none" stroke="#000" stroke-opacity="0.55" stroke-width="0.55"/>
<path d="M732.4 52.5 C732.8 53.9 734.0 57.8 734.6 60.6 C735.2 63.4 736.7 67.0 736.0 69.6 C735.3 72.1 732.5 74.4 730.6 75.8 C728.7 77.3 726.6 77.5 724.3 78.1 C722.1 78.7 718.4 79.2 717.2 79.4" fill="none" stroke="#000" stroke-opacity="0.55" stroke-width="0.55"/>
<path d="M727.9 56.1 C728.4 57.3 730.0 61.1 730.6 63.3 C731.2 65.5 731.9 67.8 731.5 69.6 C731.1 71.4 729.3 73.1 727.9 74.0 C726.6 75.0 725.2 75.1 723.4 75.4 C721.6 75.7 718.2 75.8 717.2 75.8" fill="none" stroke="#000" stroke-opacity="0.55" stroke-width="0.55"/>
</g>
<circle cx="751.0" cy="81.2" r="27.8" fill="none" stroke="#111" stroke-width="1.2"/>
</g>
<g>
<path d="M744.8 231.2 L749.9 225.0 L755.2 231.2" fill="#fff" stroke="#0c0c0c" stroke-width="1.9" stroke-linejoin="round"/>
<rect x="719.2" y="251.3" width="2.6" height="14.4" rx="1.2" fill="#999" stroke="#0a0a0a" stroke-width="2"/>
<rect x="778.4" y="251.3" width="2.6" height="14.4" rx="1.2" fill="#999" stroke="#0a0a0a" stroke-width="2"/>
<clipPath id="tc4"><circle cx="750.1" cy="258.2" r="27.9"/></clipPath>
<g clip-path="url(#tc4)"><g filter="url(#tbl)">
<rect x="714.2" y="222.3" width="71.8" height="71.8" fill="#1888fa"/>
<radialGradient id="bg4_0"><stop offset="0" stop-color="#0c58f0"/><stop offset="0.45" stop-color="#0c58f0" stop-opacity="0.8"/><stop offset="1" stop-color="#0c58f0" stop-opacity="0"/></radialGradient>
<circle cx="762.0" cy="234.0" r="17.0" fill="url(#bg4_0)"/>
<path d="M719.0 240.2 C720.3 240.7 723.6 241.9 727.0 242.9 C730.5 244.0 735.1 245.7 739.6 246.5 C744.0 247.3 749.7 248.1 753.9 247.8 C758.1 247.5 761.7 246.0 764.6 244.7 C767.6 243.4 769.3 242.0 771.8 240.2 C774.4 238.4 778.5 235.0 779.9 234.0 L790.6 305.6 L692.1 305.6 Z" fill="#2ee8e2"/>
<path d="M715.4 262.6 C716.7 262.1 720.2 260.7 723.4 259.5 C726.7 258.3 731.1 255.9 735.1 255.5 C739.1 255.0 743.4 257.1 747.6 256.8 C751.8 256.5 755.5 255.2 760.2 253.7 C764.8 252.2 771.5 249.5 775.4 247.8 C779.3 246.2 782.1 244.5 783.5 243.8 L790.6 305.6 L692.1 305.6 Z" fill="#98f468"/>
<path d="M726.1 285.9 C727.2 284.7 730.0 281.1 732.4 278.8 C734.8 276.4 738.7 274.0 740.5 271.6 C742.3 269.2 741.1 266.1 743.1 264.4 C745.2 262.8 749.3 263.1 753.0 261.7 C756.7 260.4 761.6 258.1 765.5 256.4 C769.5 254.6 773.6 252.5 776.7 251.0 C779.9 249.5 783.1 248.0 784.4 247.4 L790.6 305.6 L726.1 305.6 Z" fill="#ffec00"/>
<path d="M753.0 293.1 C753.2 291.6 753.4 287.0 753.9 284.1 C754.3 281.3 754.6 278.9 755.7 276.1 C756.7 273.2 758.2 269.8 760.2 267.1 C762.1 264.4 764.5 261.9 767.3 259.9 C770.2 258.0 774.4 256.7 777.2 255.5 C780.0 254.3 783.2 253.2 784.4 252.8 L790.6 305.6 L753.0 305.6 Z" fill="#ffa600"/>
<path d="M757.9 293.1 C758.0 291.4 758.1 286.2 758.4 283.2 C758.7 280.2 758.7 278.0 759.7 275.2 C760.8 272.3 762.6 268.7 764.6 266.2 C766.7 263.7 769.6 261.4 771.8 259.9 C774.0 258.5 775.5 258.4 777.6 257.7 C779.7 257.0 783.2 256.2 784.4 255.9 L790.6 305.6 L757.9 305.6 Z" fill="#ff5200"/>
<path d="M761.5 293.1 C761.6 291.3 761.6 285.5 762.0 282.3 C762.3 279.2 762.6 277.1 763.8 274.3 C764.9 271.4 766.9 267.6 769.1 265.3 C771.4 263.0 774.7 261.6 777.2 260.4 C779.7 259.2 783.2 258.5 784.4 258.1 L790.6 305.6 L761.5 305.6 Z" fill="#ea1200"/>
<path d="M764.6 291.3 C764.7 289.5 764.5 283.8 765.1 280.5 C765.7 277.3 766.7 274.3 768.2 271.6 C769.8 268.9 773.0 265.8 774.5 264.4 C776.0 263.0 775.7 263.7 777.4 263.1 C779.0 262.5 783.2 261.2 784.4 260.8 L790.6 305.6 L764.6 305.6 Z" fill="#9c0000"/>
</g>
<path d="M719.0 240.2 C720.3 240.7 723.6 241.9 727.0 242.9 C730.5 244.0 735.1 245.7 739.6 246.5 C744.0 247.3 749.7 248.1 753.9 247.8 C758.1 247.5 761.7 246.0 764.6 244.7 C767.6 243.4 769.3 242.0 771.8 240.2 C774.4 238.4 778.5 235.0 779.9 234.0" fill="none" stroke="#000" stroke-opacity="0.55" stroke-width="0.55"/>
<path d="M715.4 262.6 C716.7 262.1 720.2 260.7 723.4 259.5 C726.7 258.3 731.1 255.9 735.1 255.5 C739.1 255.0 743.4 257.1 747.6 256.8 C751.8 256.5 755.5 255.2 760.2 253.7 C764.8 252.2 771.5 249.5 775.4 247.8 C779.3 246.2 782.1 244.5 783.5 243.8" fill="none" stroke="#000" stroke-opacity="0.55" stroke-width="0.55"/>
<path d="M726.1 285.9 C727.2 284.7 730.0 281.1 732.4 278.8 C734.8 276.4 738.7 274.0 740.5 271.6 C742.3 269.2 741.1 266.1 743.1 264.4 C745.2 262.8 749.3 263.1 753.0 261.7 C756.7 260.4 761.6 258.1 765.5 256.4 C769.5 254.6 773.6 252.5 776.7 251.0 C779.9 249.5 783.1 248.0 784.4 247.4" fill="none" stroke="#000" stroke-opacity="0.55" stroke-width="0.55"/>
<path d="M753.0 293.1 C753.2 291.6 753.4 287.0 753.9 284.1 C754.3 281.3 754.6 278.9 755.7 276.1 C756.7 273.2 758.2 269.8 760.2 267.1 C762.1 264.4 764.5 261.9 767.3 259.9 C770.2 258.0 774.4 256.7 777.2 255.5 C780.0 254.3 783.2 253.2 784.4 252.8" fill="none" stroke="#000" stroke-opacity="0.55" stroke-width="0.55"/>
<path d="M757.9 293.1 C758.0 291.4 758.1 286.2 758.4 283.2 C758.7 280.2 758.7 278.0 759.7 275.2 C760.8 272.3 762.6 268.7 764.6 266.2 C766.7 263.7 769.6 261.4 771.8 259.9 C774.0 258.5 775.5 258.4 777.6 257.7 C779.7 257.0 783.2 256.2 784.4 255.9" fill="none" stroke="#000" stroke-opacity="0.55" stroke-width="0.55"/>
<path d="M761.5 293.1 C761.6 291.3 761.6 285.5 762.0 282.3 C762.3 279.2 762.6 277.1 763.8 274.3 C764.9 271.4 766.9 267.6 769.1 265.3 C771.4 263.0 774.7 261.6 777.2 260.4 C779.7 259.2 783.2 258.5 784.4 258.1" fill="none" stroke="#000" stroke-opacity="0.55" stroke-width="0.55"/>
<path d="M764.6 291.3 C764.7 289.5 764.5 283.8 765.1 280.5 C765.7 277.3 766.7 274.3 768.2 271.6 C769.8 268.9 773.0 265.8 774.5 264.4 C776.0 263.0 775.7 263.7 777.4 263.1 C779.0 262.5 783.2 261.2 784.4 260.8" fill="none" stroke="#000" stroke-opacity="0.55" stroke-width="0.55"/>
</g>
<circle cx="750.1" cy="258.2" r="27.9" fill="none" stroke="#111" stroke-width="1.2"/>
</g>
<g>
<path d="M1303.2 52.8 L1308.3 46.6 L1313.6 52.8" fill="#fff" stroke="#0c0c0c" stroke-width="1.9" stroke-linejoin="round"/>
<rect x="1277.7" y="72.8" width="2.6" height="14.4" rx="1.2" fill="#999" stroke="#0a0a0a" stroke-width="2"/>
<rect x="1336.7" y="72.8" width="2.6" height="14.4" rx="1.2" fill="#999" stroke="#0a0a0a" stroke-width="2"/>
<clipPath id="tc5"><circle cx="1308.5" cy="79.7" r="27.8"/></clipPath>
<g clip-path="url(#tc5)"><g filter="url(#tbl)">
<rect x="1272.7" y="43.9" width="71.6" height="71.6" fill="#3af0cc"/>
<radialGradient id="bg5_0"><stop offset="0" stop-color="#28eee0"/><stop offset="0.45" stop-color="#28eee0" stop-opacity="0.8"/><stop offset="1" stop-color="#28eee0" stop-opacity="0"/></radialGradient>
<circle cx="1316.4" cy="77.6" r="23.3" fill="url(#bg5_0)"/>
<path d="M1285.0 54.3 C1285.5 55.8 1286.8 60.2 1288.2 63.3 C1289.5 66.4 1290.9 69.9 1293.1 73.1 C1295.2 76.4 1298.9 79.6 1301.1 83.0 C1303.4 86.4 1304.4 90.0 1306.5 93.8 C1308.6 97.5 1311.7 102.1 1313.7 105.4 C1315.6 108.7 1317.4 112.1 1318.2 113.5 L1250.1 120.6 L1250.1 31.0 Z" fill="#74f498"/>
<path d="M1275.2 66.9 C1276.4 67.8 1280.1 70.2 1282.8 72.3 C1285.5 74.3 1288.4 76.4 1291.3 79.4 C1294.2 82.4 1298.2 86.6 1300.3 90.2 C1302.3 93.8 1302.9 98.2 1303.8 100.9 C1304.7 103.7 1305.2 104.5 1305.6 106.7 C1306.1 109.0 1306.4 113.1 1306.5 114.4 L1250.1 120.6 L1250.1 66.9 Z" fill="#d2f436"/>
<path d="M1275.2 71.4 C1276.3 72.1 1279.3 73.9 1281.9 75.8 C1284.4 77.8 1287.6 80.3 1290.4 83.0 C1293.2 85.7 1296.6 88.2 1298.5 92.0 C1300.3 95.7 1301.0 101.7 1301.6 105.4 C1302.2 109.1 1302.0 112.9 1302.0 114.4 L1250.1 120.6 L1250.1 71.4 Z" fill="#ffec00"/>
<path d="M1275.2 74.9 C1276.2 75.5 1279.0 76.6 1281.4 78.5 C1283.8 80.5 1287.0 83.9 1289.5 86.6 C1292.0 89.3 1295.1 91.7 1296.7 94.6 C1298.2 97.6 1298.5 101.2 1298.9 104.5 C1299.4 107.8 1299.3 112.7 1299.4 114.4 L1250.1 120.6 L1250.1 74.9 Z" fill="#ffa600"/>
<path d="M1275.2 77.6 C1276.2 78.2 1279.2 79.3 1281.4 81.2 C1283.7 83.2 1286.4 86.6 1288.6 89.3 C1290.8 92.0 1293.6 94.9 1294.9 97.3 C1296.1 99.7 1295.9 100.8 1296.2 103.6 C1296.5 106.4 1296.6 112.6 1296.7 114.4 L1250.1 120.6 L1250.1 77.6 Z" fill="#ff5200"/>
<path d="M1275.2 81.2 C1276.3 81.8 1279.8 83.0 1281.9 84.8 C1284.0 86.6 1285.9 89.6 1287.7 92.0 C1289.5 94.3 1291.7 97.3 1292.6 99.1 C1293.6 100.9 1293.3 100.2 1293.5 102.7 C1293.8 105.2 1293.9 112.4 1294.0 114.4 L1250.1 120.6 L1250.1 81.2 Z" fill="#ea1200"/>
<path d="M1275.2 86.6 C1276.2 87.0 1279.4 87.5 1281.4 88.8 C1283.5 90.2 1285.7 92.5 1287.3 94.6 C1288.8 96.8 1290.1 98.5 1290.8 101.8 C1291.5 105.1 1291.4 112.3 1291.5 114.4 L1250.1 120.6 L1250.1 85.2 Z" fill="#9c0000"/>
<path d="M1315.5 113.5 C1315.9 112.0 1317.4 107.2 1318.2 104.5 C1318.9 101.8 1318.8 99.3 1320.0 97.3 C1321.2 95.4 1322.9 94.1 1325.3 92.9 C1327.7 91.7 1331.5 90.8 1334.3 90.2 C1337.1 89.5 1341.0 89.0 1342.4 88.8 L1348.6 120.6 Z" fill="#90f470"/>
</g>
<path d="M1285.0 54.3 C1285.5 55.8 1286.8 60.2 1288.2 63.3 C1289.5 66.4 1290.9 69.9 1293.1 73.1 C1295.2 76.4 1298.9 79.6 1301.1 83.0 C1303.4 86.4 1304.4 90.0 1306.5 93.8 C1308.6 97.5 1311.7 102.1 1313.7 105.4 C1315.6 108.7 1317.4 112.1 1318.2 113.5" fill="none" stroke="#000" stroke-opacity="0.55" stroke-width="0.55"/>
<path d="M1275.2 66.9 C1276.4 67.8 1280.1 70.2 1282.8 72.3 C1285.5 74.3 1288.4 76.4 1291.3 79.4 C1294.2 82.4 1298.2 86.6 1300.3 90.2 C1302.3 93.8 1302.9 98.2 1303.8 100.9 C1304.7 103.7 1305.2 104.5 1305.6 106.7 C1306.1 109.0 1306.4 113.1 1306.5 114.4" fill="none" stroke="#000" stroke-opacity="0.55" stroke-width="0.55"/>
<path d="M1275.2 71.4 C1276.3 72.1 1279.3 73.9 1281.9 75.8 C1284.4 77.8 1287.6 80.3 1290.4 83.0 C1293.2 85.7 1296.6 88.2 1298.5 92.0 C1300.3 95.7 1301.0 101.7 1301.6 105.4 C1302.2 109.1 1302.0 112.9 1302.0 114.4" fill="none" stroke="#000" stroke-opacity="0.55" stroke-width="0.55"/>
<path d="M1275.2 74.9 C1276.2 75.5 1279.0 76.6 1281.4 78.5 C1283.8 80.5 1287.0 83.9 1289.5 86.6 C1292.0 89.3 1295.1 91.7 1296.7 94.6 C1298.2 97.6 1298.5 101.2 1298.9 104.5 C1299.4 107.8 1299.3 112.7 1299.4 114.4" fill="none" stroke="#000" stroke-opacity="0.55" stroke-width="0.55"/>
<path d="M1275.2 77.6 C1276.2 78.2 1279.2 79.3 1281.4 81.2 C1283.7 83.2 1286.4 86.6 1288.6 89.3 C1290.8 92.0 1293.6 94.9 1294.9 97.3 C1296.1 99.7 1295.9 100.8 1296.2 103.6 C1296.5 106.4 1296.6 112.6 1296.7 114.4" fill="none" stroke="#000" stroke-opacity="0.55" stroke-width="0.55"/>
<path d="M1275.2 81.2 C1276.3 81.8 1279.8 83.0 1281.9 84.8 C1284.0 86.6 1285.9 89.6 1287.7 92.0 C1289.5 94.3 1291.7 97.3 1292.6 99.1 C1293.6 100.9 1293.3 100.2 1293.5 102.7 C1293.8 105.2 1293.9 112.4 1294.0 114.4" fill="none" stroke="#000" stroke-opacity="0.55" stroke-width="0.55"/>
<path d="M1275.2 86.6 C1276.2 87.0 1279.4 87.5 1281.4 88.8 C1283.5 90.2 1285.7 92.5 1287.3 94.6 C1288.8 96.8 1290.1 98.5 1290.8 101.8 C1291.5 105.1 1291.4 112.3 1291.5 114.4" fill="none" stroke="#000" stroke-opacity="0.55" stroke-width="0.55"/>
<path d="M1315.5 113.5 C1315.9 112.0 1317.4 107.2 1318.2 104.5 C1318.9 101.8 1318.8 99.3 1320.0 97.3 C1321.2 95.4 1322.9 94.1 1325.3 92.9 C1327.7 91.7 1331.5 90.8 1334.3 90.2 C1337.1 89.5 1341.0 89.0 1342.4 88.8" fill="none" stroke="#000" stroke-opacity="0.55" stroke-width="0.55"/>
</g>
<circle cx="1308.5" cy="79.7" r="27.8" fill="none" stroke="#111" stroke-width="1.2"/>
</g>
<g>
<path d="M1274.4 236.8 L1279.5 230.6 L1284.8 236.8" fill="#fff" stroke="#0c0c0c" stroke-width="1.9" stroke-linejoin="round"/>
<rect x="1248.9" y="256.8" width="2.6" height="14.4" rx="1.2" fill="#999" stroke="#0a0a0a" stroke-width="2"/>
<rect x="1307.9" y="256.8" width="2.6" height="14.4" rx="1.2" fill="#999" stroke="#0a0a0a" stroke-width="2"/>
<clipPath id="tc6"><circle cx="1279.7" cy="263.7" r="27.8"/></clipPath>
<g clip-path="url(#tc6)"><g filter="url(#tbl)">
<rect x="1243.9" y="227.9" width="71.6" height="71.6" fill="#2ee8e2"/>
<radialGradient id="bg6_0"><stop offset="0" stop-color="#22bcf8"/><stop offset="0.45" stop-color="#22bcf8" stop-opacity="0.8"/><stop offset="1" stop-color="#22bcf8" stop-opacity="0"/></radialGradient>
<circle cx="1276.5" cy="251.6" r="18.8" fill="url(#bg6_0)"/>
<path d="M1246.1 267.7 C1247.3 267.8 1251.3 268.3 1253.7 268.6 C1256.1 268.9 1258.2 268.3 1260.4 269.5 C1262.6 270.7 1264.7 274.1 1266.7 275.8 C1268.6 277.4 1270.5 279.6 1272.0 279.3 C1273.5 279.0 1274.3 276.5 1275.6 274.0 C1277.0 271.4 1278.2 267.7 1280.1 264.1 C1282.0 260.5 1284.6 255.8 1287.3 252.5 C1290.0 249.1 1293.4 246.5 1296.2 243.9 C1299.1 241.4 1302.9 238.3 1304.3 237.2 L1318.6 302.6 L1220.1 302.6 Z" fill="#54f4b4"/>
<path d="M1281.9 298.1 C1281.9 296.7 1282.0 292.6 1281.9 289.2 C1281.7 285.8 1280.6 281.3 1281.0 277.5 C1281.4 273.8 1282.8 270.1 1284.6 266.8 C1286.4 263.5 1288.6 260.3 1291.8 257.8 C1294.9 255.4 1300.0 253.5 1303.4 252.0 C1306.8 250.5 1310.9 249.4 1312.4 248.9 L1318.6 302.6 Z" fill="#d2f436"/>
<path d="M1284.6 298.1 C1284.6 296.8 1284.7 293.5 1284.6 290.1 C1284.5 286.7 1283.5 281.4 1284.1 277.5 C1284.7 273.7 1286.3 269.7 1288.2 266.8 C1290.0 263.9 1292.5 261.7 1295.3 260.1 C1298.2 258.4 1302.4 257.7 1305.2 256.9 C1308.0 256.2 1311.2 255.8 1312.4 255.6 L1318.6 302.6 Z" fill="#ffec00"/>
<path d="M1287.3 298.1 C1287.3 296.8 1287.3 293.5 1287.3 290.1 C1287.2 286.7 1286.2 281.1 1286.8 277.5 C1287.4 274.0 1289.1 271.0 1290.9 268.6 C1292.6 266.1 1294.6 264.1 1297.1 262.8 C1299.7 261.4 1303.5 261.0 1306.1 260.5 C1308.6 260.0 1311.3 259.8 1312.4 259.6 L1318.6 302.6 Z" fill="#ffa600"/>
<path d="M1290.0 298.1 C1290.0 296.7 1290.0 292.6 1290.0 289.2 C1289.9 285.8 1288.9 280.7 1289.5 277.5 C1290.1 274.4 1291.8 272.3 1293.5 270.4 C1295.3 268.4 1297.6 266.9 1299.8 265.9 C1302.0 264.9 1304.4 264.5 1306.5 264.1 C1308.6 263.7 1311.4 263.5 1312.4 263.4 L1318.6 302.6 Z" fill="#ff5200"/>
<path d="M1291.8 298.1 C1291.8 296.4 1291.7 290.8 1291.8 287.4 C1291.8 284.0 1291.5 280.1 1292.2 277.5 C1292.9 275.0 1294.5 273.7 1296.2 272.2 C1297.9 270.7 1300.8 269.3 1302.5 268.6 C1304.2 267.9 1304.9 268.3 1306.5 268.1 C1308.2 268.0 1311.4 267.8 1312.4 267.7 L1318.6 302.6 Z" fill="#ea1200"/>
<path d="M1294.0 298.1 C1294.0 296.2 1293.8 289.9 1294.0 286.5 C1294.2 283.1 1294.4 279.6 1295.3 277.5 C1296.3 275.5 1298.0 274.9 1299.8 274.0 C1301.6 273.1 1304.0 272.6 1306.1 272.2 C1308.2 271.7 1311.3 271.4 1312.4 271.3 L1318.6 302.6 Z" fill="#9c0000"/>
</g>
<path d="M1246.1 267.7 C1247.3 267.8 1251.3 268.3 1253.7 268.6 C1256.1 268.9 1258.2 268.3 1260.4 269.5 C1262.6 270.7 1264.7 274.1 1266.7 275.8 C1268.6 277.4 1270.5 279.6 1272.0 279.3 C1273.5 279.0 1274.3 276.5 1275.6 274.0 C1277.0 271.4 1278.2 267.7 1280.1 264.1 C1282.0 260.5 1284.6 255.8 1287.3 252.5 C1290.0 249.1 1293.4 246.5 1296.2 243.9 C1299.1 241.4 1302.9 238.3 1304.3 237.2" fill="none" stroke="#000" stroke-opacity="0.55" stroke-width="0.55"/>
<path d="M1281.9 298.1 C1281.9 296.7 1282.0 292.6 1281.9 289.2 C1281.7 285.8 1280.6 281.3 1281.0 277.5 C1281.4 273.8 1282.8 270.1 1284.6 266.8 C1286.4 263.5 1288.6 260.3 1291.8 257.8 C1294.9 255.4 1300.0 253.5 1303.4 252.0 C1306.8 250.5 1310.9 249.4 1312.4 248.9" fill="none" stroke="#000" stroke-opacity="0.55" stroke-width="0.55"/>
<path d="M1284.6 298.1 C1284.6 296.8 1284.7 293.5 1284.6 290.1 C1284.5 286.7 1283.5 281.4 1284.1 277.5 C1284.7 273.7 1286.3 269.7 1288.2 266.8 C1290.0 263.9 1292.5 261.7 1295.3 260.1 C1298.2 258.4 1302.4 257.7 1305.2 256.9 C1308.0 256.2 1311.2 255.8 1312.4 255.6" fill="none" stroke="#000" stroke-opacity="0.55" stroke-width="0.55"/>
<path d="M1287.3 298.1 C1287.3 296.8 1287.3 293.5 1287.3 290.1 C1287.2 286.7 1286.2 281.1 1286.8 277.5 C1287.4 274.0 1289.1 271.0 1290.9 268.6 C1292.6 266.1 1294.6 264.1 1297.1 262.8 C1299.7 261.4 1303.5 261.0 1306.1 260.5 C1308.6 260.0 1311.3 259.8 1312.4 259.6" fill="none" stroke="#000" stroke-opacity="0.55" stroke-width="0.55"/>
<path d="M1290.0 298.1 C1290.0 296.7 1290.0 292.6 1290.0 289.2 C1289.9 285.8 1288.9 280.7 1289.5 277.5 C1290.1 274.4 1291.8 272.3 1293.5 270.4 C1295.3 268.4 1297.6 266.9 1299.8 265.9 C1302.0 264.9 1304.4 264.5 1306.5 264.1 C1308.6 263.7 1311.4 263.5 1312.4 263.4" fill="none" stroke="#000" stroke-opacity="0.55" stroke-width="0.55"/>
<path d="M1291.8 298.1 C1291.8 296.4 1291.7 290.8 1291.8 287.4 C1291.8 284.0 1291.5 280.1 1292.2 277.5 C1292.9 275.0 1294.5 273.7 1296.2 272.2 C1297.9 270.7 1300.8 269.3 1302.5 268.6 C1304.2 267.9 1304.9 268.3 1306.5 268.1 C1308.2 268.0 1311.4 267.8 1312.4 267.7" fill="none" stroke="#000" stroke-opacity="0.55" stroke-width="0.55"/>
<path d="M1294.0 298.1 C1294.0 296.2 1293.8 289.9 1294.0 286.5 C1294.2 283.1 1294.4 279.6 1295.3 277.5 C1296.3 275.5 1298.0 274.9 1299.8 274.0 C1301.6 273.1 1304.0 272.6 1306.1 272.2 C1308.2 271.7 1311.3 271.4 1312.4 271.3" fill="none" stroke="#000" stroke-opacity="0.55" stroke-width="0.55"/>
</g>
<circle cx="1279.7" cy="263.7" r="27.8" fill="none" stroke="#111" stroke-width="1.2"/>
</g>
<rect x="123.4" y="453.8" width="393.1" height="332.3" fill="#ffefee"/>
<path d="M157.4 453.8 V786.1 M190.2 453.8 V786.1 M222.9 453.8 V786.1 M255.6 453.8 V786.1 M288.4 453.8 V786.1 M353.8 453.8 V786.1 M386.5 453.8 V786.1 M419.2 453.8 V786.1 M451.9 453.8 V786.1 M484.6 453.8 V786.1 M123.4 487.9 H516.5 M123.4 511.1 H516.5 M123.4 534.1 H516.5 M123.4 557.0 H516.5 M123.4 579.9 H516.5 M123.4 602.8 H516.5 M123.4 625.8 H516.5 M123.4 648.7 H516.5 M123.4 671.5 H516.5 M123.4 694.4 H516.5 M123.4 717.3 H516.5 M123.4 740.2 H516.5 M123.4 763.2 H516.5" stroke="#fff" stroke-width="1.3" fill="none"/>
<path d="M123.9 453.8 V786.1" stroke="#d9d0d0" stroke-width="1.8" fill="none"/>
<path d="M123.4 786.1 H516.5" stroke="#c4bcbc" stroke-width="1.2" fill="none"/>
<path d="M321.1 453.8 V786.1" stroke="#fff" stroke-width="1.8" fill="none"/>
<path d="M321.1 453.8 V786.1" stroke="#d4d4d4" stroke-width="1.9" stroke-dasharray="9.4 4.8" stroke-dashoffset="2.75" fill="none"/>
<text x="130.6" y="470.0" font-size="12.6" fill="#222">Single factor regression model</text>
<text x="130.6" y="630.2" font-size="12.6" fill="#222">Two-way regression model</text>
<text x="222.9" y="447.3" font-size="12.5" fill="#1e1e1e" text-anchor="middle">Left prefrontal</text>
<text x="419.2" y="447.3" font-size="12.5" fill="#2a2a2a" text-anchor="middle">Right prefrontal</text>
<g font-size="10.55" fill="#464646" text-anchor="end" style="stroke-width:0.1px">
<text x="119.8" y="492.1">Handedness [R]</text>
<text x="119.8" y="515.3">Condition [J]</text>
<text x="119.8" y="538.3">Condition [S]</text>
<text x="119.8" y="561.2">Cloze prob.</text>
<text x="119.8" y="584.1">Surprisal</text>
<text x="119.8" y="652.9">(Intercept)</text>
<text x="119.8" y="675.7">Condition [J]</text>
<text x="119.8" y="698.6">Condition [S]</text>
<text x="119.8" y="721.5">Handedness [R]</text>
<text x="119.8" y="744.4">Cond. [J] x Hand. [R]</text>
<text x="119.8" y="767.4">Cond. [S] x Hand. [R]</text>
</g>
<line x1="190.0" y1="487.9" x2="285.6" y2="487.9" stroke="#0c3fd8" stroke-width="2.3"/>
<circle cx="237.8" cy="487.9" r="3.55" fill="#0c3fd8"/>
<line x1="210.6" y1="511.1" x2="237.0" y2="511.1" stroke="#0c3fd8" stroke-width="2.3"/>
<circle cx="223.7" cy="511.1" r="3.55" fill="#0c3fd8"/>
<line x1="205.4" y1="534.1" x2="232.4" y2="534.1" stroke="#0c3fd8" stroke-width="2.3"/>
<circle cx="218.3" cy="534.1" r="3.55" fill="#0c3fd8"/>
<circle cx="222.4" cy="557.0" r="3.55" fill="#0c3fd8"/>
<circle cx="222.4" cy="579.9" r="3.55" fill="#0c3fd8"/>
<line x1="177.9" y1="648.7" x2="260.6" y2="648.7" stroke="#0c3fd8" stroke-width="2.3"/>
<circle cx="218.4" cy="648.7" r="3.55" fill="#0c3fd8"/>
<line x1="179.6" y1="671.5" x2="225.5" y2="671.5" stroke="#0c3fd8" stroke-width="2.3"/>
<circle cx="202.3" cy="671.5" r="3.55" fill="#0c3fd8"/>
<line x1="190.7" y1="694.4" x2="236.8" y2="694.4" stroke="#0c3fd8" stroke-width="2.3"/>
<circle cx="213.9" cy="694.4" r="3.55" fill="#0c3fd8"/>
<line x1="173.9" y1="717.3" x2="275.4" y2="717.3" stroke="#0c3fd8" stroke-width="2.3"/>
<circle cx="224.4" cy="717.3" r="3.55" fill="#0c3fd8"/>
<line x1="226.6" y1="740.2" x2="282.4" y2="740.2" stroke="#0c3fd8" stroke-width="2.3"/>
<circle cx="254.4" cy="740.2" r="3.55" fill="#0c3fd8"/>
<line x1="201.7" y1="763.2" x2="257.8" y2="763.2" stroke="#0c3fd8" stroke-width="2.3"/>
<circle cx="229.5" cy="763.2" r="3.55" fill="#0c3fd8"/>
<line x1="377.1" y1="487.9" x2="445.4" y2="487.9" stroke="#0c3fd8" stroke-width="2.3"/>
<circle cx="411.0" cy="487.9" r="3.55" fill="#0c3fd8"/>
<line x1="427.4" y1="511.1" x2="447.0" y2="511.1" stroke="#0c3fd8" stroke-width="2.3"/>
<circle cx="437.0" cy="511.1" r="3.55" fill="#0c3fd8"/>
<line x1="420.2" y1="534.1" x2="439.3" y2="534.1" stroke="#0c3fd8" stroke-width="2.3"/>
<circle cx="429.5" cy="534.1" r="3.55" fill="#0c3fd8"/>
<circle cx="418.7" cy="557.0" r="3.55" fill="#0c3fd8"/>
<circle cx="420.5" cy="579.9" r="3.55" fill="#0c3fd8"/>
<line x1="391.1" y1="648.7" x2="450.0" y2="648.7" stroke="#0c3fd8" stroke-width="2.3"/>
<circle cx="420.3" cy="648.7" r="3.55" fill="#0c3fd8"/>
<line x1="416.0" y1="671.5" x2="449.4" y2="671.5" stroke="#0c3fd8" stroke-width="2.3"/>
<circle cx="432.5" cy="671.5" r="3.55" fill="#0c3fd8"/>
<line x1="408.4" y1="694.4" x2="441.5" y2="694.4" stroke="#0c3fd8" stroke-width="2.3"/>
<circle cx="424.8" cy="694.4" r="3.55" fill="#0c3fd8"/>
<line x1="370.8" y1="717.3" x2="443.0" y2="717.3" stroke="#0c3fd8" stroke-width="2.3"/>
<circle cx="406.7" cy="717.3" r="3.55" fill="#0c3fd8"/>
<line x1="405.3" y1="740.2" x2="446.3" y2="740.2" stroke="#0c3fd8" stroke-width="2.3"/>
<circle cx="426.0" cy="740.2" r="3.55" fill="#0c3fd8"/>
<line x1="405.6" y1="763.2" x2="446.6" y2="763.2" stroke="#0c3fd8" stroke-width="2.3"/>
<circle cx="426.2" cy="763.2" r="3.55" fill="#0c3fd8"/>
<text x="451.8" y="515.0" font-size="11" letter-spacing="-0.5" font-family="&quot;DejaVu Sans&quot;, sans-serif" fill="#3f3f3f">∗∗∗</text>
<text x="444.8" y="538.0" font-size="11" letter-spacing="-0.5" font-family="&quot;DejaVu Sans&quot;, sans-serif" fill="#3f3f3f">∗</text>
<text x="423.8" y="560.9" font-size="11" letter-spacing="-0.5" font-family="&quot;DejaVu Sans&quot;, sans-serif" fill="#3f3f3f">∗∗</text>
<text x="426.4" y="583.8" font-size="11" letter-spacing="-0.5" font-family="&quot;DejaVu Sans&quot;, sans-serif" fill="#3f3f3f">∗∗∗</text>
<text x="286.8" y="744.1" font-size="11" letter-spacing="-0.5" font-family="&quot;DejaVu Sans&quot;, sans-serif" fill="#3f3f3f">∗</text>
<g font-size="10.5" fill="#4d4d4d" text-anchor="middle">
<text x="156.8" y="801.3">-5</text>
<text x="220.6" y="801.3">0</text>
<text x="286.1" y="801.3">5</text>
<text x="353.1" y="801.3">-5</text>
<text x="416.9" y="801.3">0</text>
<text x="482.3" y="801.3">5</text>
</g>
<text x="221.9" y="821.9" font-size="12.25" fill="#2a2a2a" text-anchor="middle">Estimates</text>
<text x="418.2" y="821.9" font-size="12.25" fill="#2a2a2a" text-anchor="middle">Estimates</text>
<rect x="651.7" y="455.3" width="395.5" height="331.7" fill="#ffefee"/>
<path d="M686.4 455.3 V787.0 M719.1 455.3 V787.0 M751.9 455.3 V787.0 M784.6 455.3 V787.0 M817.4 455.3 V787.0 M883.2 455.3 V787.0 M916.0 455.3 V787.0 M948.7 455.3 V787.0 M981.5 455.3 V787.0 M1014.2 455.3 V787.0 M651.7 489.5 H1047.2 M651.7 512.6 H1047.2 M651.7 535.4 H1047.2 M651.7 558.0 H1047.2 M651.7 580.9 H1047.2 M651.7 604.0 H1047.2 M651.7 627.3 H1047.2 M651.7 650.1 H1047.2 M651.7 672.8 H1047.2 M651.7 695.8 H1047.2 M651.7 718.7 H1047.2 M651.7 741.4 H1047.2 M651.7 764.3 H1047.2" stroke="#fff" stroke-width="1.3" fill="none"/>
<path d="M652.2 455.3 V787.0" stroke="#d9d0d0" stroke-width="1.8" fill="none"/>
<path d="M651.7 787.0 H1047.2" stroke="#c4bcbc" stroke-width="1.2" fill="none"/>
<path d="M850.0 455.3 V787.0" stroke="#fff" stroke-width="1.8" fill="none"/>
<path d="M850.0 455.3 V787.0" stroke="#8e8e8e" stroke-width="1.25" stroke-dasharray="9.4 4.8" stroke-dashoffset="3.4" fill="none"/>
<text x="658.9" y="471.8" font-size="12.6" fill="#222">Single factor regression model</text>
<text x="658.9" y="631.7" font-size="12.6" fill="#222">Two-way regression model</text>
<text x="751.9" y="448.6" font-size="12.5" fill="#1e1e1e" text-anchor="middle">Left temporal</text>
<text x="948.7" y="448.6" font-size="12.5" fill="#2a2a2a" text-anchor="middle">Right temporal</text>
<g font-size="10.55" fill="#464646" text-anchor="end" style="stroke-width:0.1px">
<text x="647.6" y="493.7">Handedness [R]</text>
<text x="647.6" y="516.8">Condition [J]</text>
<text x="647.6" y="539.6">Condition [S]</text>
<text x="647.6" y="562.2">Cloze prob.</text>
<text x="647.6" y="585.1">Surprisal</text>
<text x="647.6" y="654.3">(Intercept)</text>
<text x="647.6" y="677.0">Condition [J]</text>
<text x="647.6" y="700.0">Condition [S]</text>
<text x="647.6" y="722.9">Handedness [R]</text>
<text x="647.6" y="745.6">Cond. [J] x Hand. [R]</text>
<text x="647.6" y="768.5">Cond. [S] x Hand. [R]</text>
</g>
<line x1="744.2" y1="489.5" x2="800.1" y2="489.5" stroke="#0c3fd8" stroke-width="2.3"/>
<circle cx="771.9" cy="489.5" r="3.55" fill="#0c3fd8"/>
<line x1="734.1" y1="512.6" x2="752.4" y2="512.6" stroke="#0c3fd8" stroke-width="2.3"/>
<circle cx="743.1" cy="512.6" r="3.55" fill="#0c3fd8"/>
<line x1="746.2" y1="535.4" x2="765.0" y2="535.4" stroke="#0c3fd8" stroke-width="2.3"/>
<circle cx="755.7" cy="535.4" r="3.55" fill="#0c3fd8"/>
<circle cx="751.1" cy="558.0" r="3.55" fill="#0c3fd8"/>
<circle cx="751.1" cy="580.9" r="3.55" fill="#0c3fd8"/>
<line x1="710.8" y1="650.1" x2="751.0" y2="650.1" stroke="#0c3fd8" stroke-width="2.3"/>
<circle cx="730.4" cy="650.1" r="3.55" fill="#0c3fd8"/>
<line x1="739.2" y1="672.8" x2="762.4" y2="672.8" stroke="#0c3fd8" stroke-width="2.3"/>
<circle cx="750.5" cy="672.8" r="3.55" fill="#0c3fd8"/>
<line x1="747.6" y1="695.8" x2="771.4" y2="695.8" stroke="#0c3fd8" stroke-width="2.3"/>
<circle cx="759.5" cy="695.8" r="3.55" fill="#0c3fd8"/>
<line x1="751.0" y1="718.7" x2="811.4" y2="718.7" stroke="#0c3fd8" stroke-width="2.3"/>
<circle cx="781.1" cy="718.7" r="3.55" fill="#0c3fd8"/>
<line x1="713.1" y1="741.4" x2="751.3" y2="741.4" stroke="#0c3fd8" stroke-width="2.3"/>
<circle cx="732.1" cy="741.4" r="3.55" fill="#0c3fd8"/>
<line x1="723.6" y1="764.3" x2="761.0" y2="764.3" stroke="#0c3fd8" stroke-width="2.3"/>
<circle cx="742.0" cy="764.3" r="3.55" fill="#0c3fd8"/>
<line x1="885.2" y1="489.5" x2="993.7" y2="489.5" stroke="#0c3fd8" stroke-width="2.3"/>
<circle cx="939.5" cy="489.5" r="3.55" fill="#0c3fd8"/>
<line x1="950.2" y1="512.6" x2="972.6" y2="512.6" stroke="#0c3fd8" stroke-width="2.3"/>
<circle cx="961.3" cy="512.6" r="3.55" fill="#0c3fd8"/>
<line x1="937.9" y1="535.4" x2="960.5" y2="535.4" stroke="#0c3fd8" stroke-width="2.3"/>
<circle cx="949.0" cy="535.4" r="3.55" fill="#0c3fd8"/>
<circle cx="948.7" cy="558.0" r="3.55" fill="#0c3fd8"/>
<circle cx="949.5" cy="580.9" r="3.55" fill="#0c3fd8"/>
<line x1="916.0" y1="650.1" x2="984.8" y2="650.1" stroke="#0c3fd8" stroke-width="2.3"/>
<circle cx="950.3" cy="650.1" r="3.55" fill="#0c3fd8"/>
<line x1="942.4" y1="672.8" x2="971.2" y2="672.8" stroke="#0c3fd8" stroke-width="2.3"/>
<circle cx="956.8" cy="672.8" r="3.55" fill="#0c3fd8"/>
<line x1="934.2" y1="695.8" x2="962.7" y2="695.8" stroke="#0c3fd8" stroke-width="2.3"/>
<circle cx="948.3" cy="695.8" r="3.55" fill="#0c3fd8"/>
<line x1="879.5" y1="718.7" x2="991.0" y2="718.7" stroke="#0c3fd8" stroke-width="2.3"/>
<circle cx="935.0" cy="718.7" r="3.55" fill="#0c3fd8"/>
<line x1="937.3" y1="741.4" x2="984.5" y2="741.4" stroke="#0c3fd8" stroke-width="2.3"/>
<circle cx="960.8" cy="741.4" r="3.55" fill="#0c3fd8"/>
<line x1="927.6" y1="764.3" x2="974.3" y2="764.3" stroke="#0c3fd8" stroke-width="2.3"/>
<circle cx="951.1" cy="764.3" r="3.55" fill="#0c3fd8"/>
<text x="978.0" y="516.5" font-size="11" letter-spacing="-0.5" font-family="&quot;DejaVu Sans&quot;, sans-serif" fill="#3f3f3f">∗</text>
<text x="756.1" y="654.0" font-size="11" letter-spacing="-0.5" font-family="&quot;DejaVu Sans&quot;, sans-serif" fill="#3f3f3f">∗</text>
<text x="756.1" y="745.3" font-size="11" letter-spacing="-0.5" font-family="&quot;DejaVu Sans&quot;, sans-serif" fill="#3f3f3f">∗</text>
<g font-size="10.5" fill="#4d4d4d" text-anchor="middle">
<text x="685.8" y="802.7">-5</text>
<text x="749.6" y="802.7">0</text>
<text x="815.1" y="802.7">5</text>
<text x="882.6" y="802.7">-5</text>
<text x="946.4" y="802.7">0</text>
<text x="1011.9" y="802.7">5</text>
</g>
<text x="750.9" y="822.7" font-size="12.25" fill="#2a2a2a" text-anchor="middle">Estimates</text>
<text x="947.7" y="822.7" font-size="12.25" fill="#2a2a2a" text-anchor="middle">Estimates</text>
<rect x="1183.6" y="457.6" width="381.2" height="322.3" fill="#ffefee"/>
<path d="M1216.3 457.6 V779.9 M1248.0 457.6 V779.9 M1279.8 457.6 V779.9 M1311.5 457.6 V779.9 M1343.3 457.6 V779.9 M1406.6 457.6 V779.9 M1438.3 457.6 V779.9 M1470.1 457.6 V779.9 M1501.8 457.6 V779.9 M1533.6 457.6 V779.9 M1183.6 491.3 H1564.8 M1183.6 513.6 H1564.8 M1183.6 535.9 H1564.8 M1183.6 558.0 H1564.8 M1183.6 580.4 H1564.8 M1183.6 602.6 H1564.8 M1183.6 625.3 H1564.8 M1183.6 647.0 H1564.8 M1183.6 669.1 H1564.8 M1183.6 691.5 H1564.8 M1183.6 713.9 H1564.8 M1183.6 736.3 H1564.8 M1183.6 758.4 H1564.8" stroke="#fff" stroke-width="1.3" fill="none"/>
<path d="M1184.1 457.6 V779.9" stroke="#d9d0d0" stroke-width="1.8" fill="none"/>
<path d="M1183.6 779.9 H1564.8" stroke="#c4bcbc" stroke-width="1.2" fill="none"/>
<path d="M1375.2 457.6 V779.9" stroke="#fff" stroke-width="1.8" fill="none"/>
<path d="M1375.2 457.6 V779.9" stroke="#e0e0e0" stroke-width="1.9" stroke-dasharray="9.4 4.8" stroke-dashoffset="6.7" fill="none"/>
<text x="1190.7" y="474.1" font-size="12.2" fill="#222">Single factor regression model</text>
<text x="1190.7" y="629.7" font-size="12.2" fill="#222">Two-way regression model</text>
<text x="1279.8" y="451.1" font-size="12.3" fill="#1e1e1e" text-anchor="middle">Left parieto-occipital</text>
<text x="1470.1" y="451.1" font-size="12.3" fill="#3a3a3a" text-anchor="middle">Right parieto-occipital</text>
<g font-size="10.3" fill="#464646" text-anchor="end" style="stroke-width:0.1px">
<text x="1180.4" y="495.5">Handedness [R]</text>
<text x="1180.4" y="517.8">Condition [J]</text>
<text x="1180.4" y="540.1">Condition [S]</text>
<text x="1180.4" y="562.2">Cloze prob.</text>
<text x="1180.4" y="584.6">Surprisal</text>
<text x="1180.4" y="651.2">(Intercept)</text>
<text x="1180.4" y="673.3">Condition [J]</text>
<text x="1180.4" y="695.7">Condition [S]</text>
<text x="1180.4" y="718.1">Handedness [R]</text>
<text x="1180.4" y="740.5">Cond. [J] x Hand. [R]</text>
<text x="1180.4" y="762.6">Cond. [S] x Hand. [R]</text>
</g>
<line x1="1230.2" y1="491.3" x2="1277.0" y2="491.3" stroke="#0c3fd8" stroke-width="2.3"/>
<circle cx="1253.1" cy="491.3" r="3.55" fill="#0c3fd8"/>
<line x1="1273.6" y1="513.6" x2="1290.3" y2="513.6" stroke="#0c3fd8" stroke-width="2.3"/>
<circle cx="1282.1" cy="513.6" r="3.55" fill="#0c3fd8"/>
<line x1="1269.8" y1="535.9" x2="1285.7" y2="535.9" stroke="#0c3fd8" stroke-width="2.3"/>
<circle cx="1277.8" cy="535.9" r="3.55" fill="#0c3fd8"/>
<circle cx="1279.6" cy="558.0" r="3.55" fill="#0c3fd8"/>
<circle cx="1279.6" cy="580.4" r="3.55" fill="#0c3fd8"/>
<line x1="1270.8" y1="647.0" x2="1306.8" y2="647.0" stroke="#0c3fd8" stroke-width="2.3"/>
<circle cx="1288.7" cy="647.0" r="3.55" fill="#0c3fd8"/>
<line x1="1260.4" y1="669.1" x2="1283.0" y2="669.1" stroke="#0c3fd8" stroke-width="2.3"/>
<circle cx="1272.0" cy="669.1" r="3.55" fill="#0c3fd8"/>
<line x1="1267.5" y1="691.5" x2="1290.1" y2="691.5" stroke="#0c3fd8" stroke-width="2.3"/>
<circle cx="1278.8" cy="691.5" r="3.55" fill="#0c3fd8"/>
<line x1="1222.4" y1="713.9" x2="1272.3" y2="713.9" stroke="#0c3fd8" stroke-width="2.3"/>
<circle cx="1247.3" cy="713.9" r="3.55" fill="#0c3fd8"/>
<line x1="1283.9" y1="736.3" x2="1315.0" y2="736.3" stroke="#0c3fd8" stroke-width="2.3"/>
<circle cx="1299.7" cy="736.3" r="3.55" fill="#0c3fd8"/>
<line x1="1262.6" y1="758.4" x2="1294.6" y2="758.4" stroke="#0c3fd8" stroke-width="2.3"/>
<circle cx="1278.5" cy="758.4" r="3.55" fill="#0c3fd8"/>
<line x1="1426.9" y1="491.3" x2="1486.8" y2="491.3" stroke="#0c3fd8" stroke-width="2.3"/>
<circle cx="1457.0" cy="491.3" r="3.55" fill="#0c3fd8"/>
<line x1="1468.3" y1="513.6" x2="1481.1" y2="513.6" stroke="#0c3fd8" stroke-width="2.3"/>
<circle cx="1474.4" cy="513.6" r="3.55" fill="#0c3fd8"/>
<line x1="1465.2" y1="535.9" x2="1477.8" y2="535.9" stroke="#0c3fd8" stroke-width="2.3"/>
<circle cx="1471.3" cy="535.9" r="3.55" fill="#0c3fd8"/>
<circle cx="1470.1" cy="558.0" r="3.55" fill="#0c3fd8"/>
<circle cx="1470.3" cy="580.4" r="3.55" fill="#0c3fd8"/>
<line x1="1463.7" y1="647.0" x2="1504.5" y2="647.0" stroke="#0c3fd8" stroke-width="2.3"/>
<circle cx="1483.8" cy="647.0" r="3.55" fill="#0c3fd8"/>
<line x1="1473.3" y1="669.1" x2="1490.3" y2="669.1" stroke="#0c3fd8" stroke-width="2.3"/>
<circle cx="1481.5" cy="669.1" r="3.55" fill="#0c3fd8"/>
<line x1="1461.4" y1="691.5" x2="1478.1" y2="691.5" stroke="#0c3fd8" stroke-width="2.3"/>
<circle cx="1469.9" cy="691.5" r="3.55" fill="#0c3fd8"/>
<line x1="1430.6" y1="713.9" x2="1492.6" y2="713.9" stroke="#0c3fd8" stroke-width="2.3"/>
<circle cx="1461.2" cy="713.9" r="3.55" fill="#0c3fd8"/>
<line x1="1440.5" y1="736.3" x2="1466.0" y2="736.3" stroke="#0c3fd8" stroke-width="2.3"/>
<circle cx="1453.2" cy="736.3" r="3.55" fill="#0c3fd8"/>
<line x1="1461.2" y1="758.4" x2="1486.4" y2="758.4" stroke="#0c3fd8" stroke-width="2.3"/>
<circle cx="1473.3" cy="758.4" r="3.55" fill="#0c3fd8"/>
<text x="1281.1" y="495.2" font-size="11" letter-spacing="-0.5" font-family="&quot;DejaVu Sans&quot;, sans-serif" fill="#3f3f3f">∗</text>
<text x="1277.3" y="717.8" font-size="11" letter-spacing="-0.5" font-family="&quot;DejaVu Sans&quot;, sans-serif" fill="#3f3f3f">∗</text>
<text x="1319.8" y="740.2" font-size="11" letter-spacing="-0.5" font-family="&quot;DejaVu Sans&quot;, sans-serif" fill="#3f3f3f">∗</text>
<text x="1471.0" y="740.2" font-size="11" letter-spacing="-0.5" font-family="&quot;DejaVu Sans&quot;, sans-serif" fill="#3f3f3f">∗</text>
<g font-size="10.5" fill="#4d4d4d" text-anchor="middle">
<text x="1215.7" y="795.8">-5</text>
<text x="1277.5" y="795.8">0</text>
<text x="1341.0" y="795.8">5</text>
<text x="1406.0" y="795.8">-5</text>
<text x="1467.8" y="795.8">0</text>
<text x="1531.3" y="795.8">5</text>
</g>
<text x="1278.8" y="815.3" font-size="12.25" fill="#2a2a2a" text-anchor="middle">Estimates</text>
<text x="1469.1" y="815.3" font-size="12.25" fill="#2a2a2a" text-anchor="middle">Estimates</text>
<rect x="1585" y="833" width="20" height="10" rx="3" fill="#5b6079"/>
<path d="M315.3 234.7H320M323.2 234.7H330.7M338.8 234.7H340M343.2 234.7H347.9M352.9 234.7H363.2M367 234.7H372" stroke="#8c8c8c" stroke-width="1.2" fill="none"/>
</svg></body></html>
